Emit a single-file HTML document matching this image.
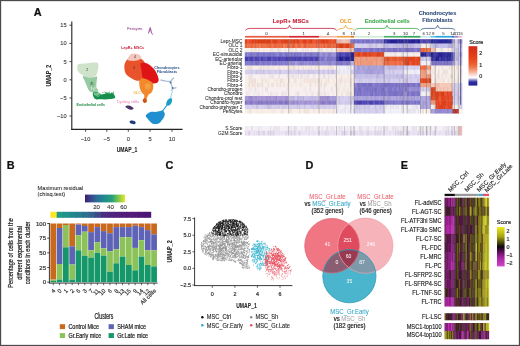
<!DOCTYPE html>
<html><head><meta charset="utf-8"><style>
html,body{margin:0;padding:0;background:#fff;}
body{width:520px;height:346px;overflow:hidden;}
svg{display:block;font-family:"Liberation Sans", sans-serif;will-change:transform;}
</style></head><body>
<svg width="520" height="346" viewBox="0 0 520 346">
<rect x="0" y="0" width="520" height="346" fill="#ffffff"/>
<text x="33.8" y="15.6" font-size="10.9" fill="#111" stroke="#111" stroke-width="0.22" text-anchor="start" font-weight="bold" >A</text>
<text x="6.8" y="168.6" font-size="10.9" fill="#111" stroke="#111" stroke-width="0.22" text-anchor="start" font-weight="bold" >B</text>
<text x="165.6" y="168.6" font-size="10.9" fill="#111" stroke="#111" stroke-width="0.22" text-anchor="start" font-weight="bold" >C</text>
<text x="305.6" y="168.6" font-size="10.9" fill="#111" stroke="#111" stroke-width="0.22" text-anchor="start" font-weight="bold" >D</text>
<text x="400.8" y="168.6" font-size="10.9" fill="#111" stroke="#111" stroke-width="0.22" text-anchor="start" font-weight="bold" >E</text>
<line x1="71.8" y1="21.5" x2="71.8" y2="129.9" stroke="#222" stroke-width="1.1"/>
<line x1="71.3" y1="129.4" x2="182.6" y2="129.4" stroke="#222" stroke-width="1.1"/>
<line x1="69.39999999999999" y1="25.2" x2="71.8" y2="25.2" stroke="#222" stroke-width="0.8"/>
<text x="66.6" y="27.2" font-size="5.7" fill="#3a3a3a" stroke="#3a3a3a" stroke-width="0.1" text-anchor="end" >15</text>
<line x1="69.39999999999999" y1="43.4" x2="71.8" y2="43.4" stroke="#222" stroke-width="0.8"/>
<text x="66.6" y="45.4" font-size="5.7" fill="#3a3a3a" stroke="#3a3a3a" stroke-width="0.1" text-anchor="end" >10</text>
<line x1="69.39999999999999" y1="61.6" x2="71.8" y2="61.6" stroke="#222" stroke-width="0.8"/>
<text x="66.6" y="63.6" font-size="5.7" fill="#3a3a3a" stroke="#3a3a3a" stroke-width="0.1" text-anchor="end" >5</text>
<line x1="69.39999999999999" y1="79.8" x2="71.8" y2="79.8" stroke="#222" stroke-width="0.8"/>
<text x="66.6" y="81.8" font-size="5.7" fill="#3a3a3a" stroke="#3a3a3a" stroke-width="0.1" text-anchor="end" >0</text>
<line x1="69.39999999999999" y1="98.0" x2="71.8" y2="98.0" stroke="#222" stroke-width="0.8"/>
<text x="66.6" y="100.0" font-size="5.7" fill="#3a3a3a" stroke="#3a3a3a" stroke-width="0.1" text-anchor="end" >−5</text>
<line x1="69.39999999999999" y1="116.0" x2="71.8" y2="116.0" stroke="#222" stroke-width="0.8"/>
<text x="66.6" y="118.0" font-size="5.7" fill="#3a3a3a" stroke="#3a3a3a" stroke-width="0.1" text-anchor="end" >−10</text>
<line x1="85.6" y1="129.4" x2="85.6" y2="131.8" stroke="#222" stroke-width="0.8"/>
<text x="85.6" y="141.0" font-size="5.7" fill="#3a3a3a" stroke="#3a3a3a" stroke-width="0.1" text-anchor="middle" >−10</text>
<line x1="106.8" y1="129.4" x2="106.8" y2="131.8" stroke="#222" stroke-width="0.8"/>
<text x="106.8" y="141.0" font-size="5.7" fill="#3a3a3a" stroke="#3a3a3a" stroke-width="0.1" text-anchor="middle" >−5</text>
<line x1="128.3" y1="129.4" x2="128.3" y2="131.8" stroke="#222" stroke-width="0.8"/>
<text x="128.3" y="141.0" font-size="5.7" fill="#3a3a3a" stroke="#3a3a3a" stroke-width="0.1" text-anchor="middle" >0</text>
<line x1="150.0" y1="129.4" x2="150.0" y2="131.8" stroke="#222" stroke-width="0.8"/>
<text x="150.0" y="141.0" font-size="5.7" fill="#3a3a3a" stroke="#3a3a3a" stroke-width="0.1" text-anchor="middle" >5</text>
<line x1="172.0" y1="129.4" x2="172.0" y2="131.8" stroke="#222" stroke-width="0.8"/>
<text x="172.0" y="141.0" font-size="5.7" fill="#3a3a3a" stroke="#3a3a3a" stroke-width="0.1" text-anchor="middle" >10</text>
<text x="0" y="0" font-size="7.5" fill="#2a2a2a" stroke="#2a2a2a" stroke-width="0.12" text-anchor="middle" font-weight="bold" transform="translate(127.00,151.80) scale(0.68,1)">UMAP_1</text>
<text x="0" y="0" font-size="7.3" fill="#2a2a2a" stroke="#2a2a2a" stroke-width="0.12" text-anchor="middle" font-weight="bold" transform="translate(50.90,75.60) rotate(-90) scale(0.74,1)">UMAP_2</text>
<path d="M77.30,66.00 C77.52,64.78 77.63,64.47 79.30,64.00 C80.97,63.53 84.85,63.43 87.30,63.20 C89.75,62.97 92.22,62.58 94.00,62.60 C95.78,62.62 97.30,62.30 98.00,63.30 C98.70,64.30 98.40,66.82 98.20,68.60 C98.00,70.38 97.50,72.60 96.80,74.00 C96.10,75.40 95.47,76.42 94.00,77.00 C92.53,77.58 89.92,77.83 88.00,77.50 C86.08,77.17 84.17,76.03 82.50,75.00 C80.83,73.97 78.87,72.80 78.00,71.30 C77.13,69.80 77.08,67.22 77.30,66.00Z" fill="#cfe3cb" />
<path d="M82.80,76.20 C83.42,75.77 86.13,77.23 88.00,77.40 C89.87,77.57 92.50,77.35 94.00,77.20 C95.50,77.05 96.57,75.70 97.00,76.50 C97.43,77.30 96.72,80.20 96.60,82.00 C96.48,83.80 96.00,85.80 96.30,87.30 C96.60,88.80 98.62,90.12 98.40,91.00 C98.18,91.88 96.15,92.43 95.00,92.60 C93.85,92.77 92.53,92.40 91.50,92.00 C90.47,91.60 89.65,91.37 88.80,90.20 C87.95,89.03 87.15,86.70 86.40,85.00 C85.65,83.30 84.90,81.47 84.30,80.00 C83.70,78.53 82.18,76.63 82.80,76.20Z" fill="#98caa2" />
<path d="M90.20,82.50 C90.70,81.75 92.28,81.08 93.00,81.50 C93.72,81.92 94.58,84.00 94.50,85.00 C94.42,86.00 93.25,87.33 92.50,87.50 C91.75,87.67 90.38,86.83 90.00,86.00 C89.62,85.17 89.70,83.25 90.20,82.50Z" fill="#7fbf8e" />
<path d="M92.80,93.60 C92.97,92.60 94.05,91.97 95.00,91.80 C95.95,91.63 97.50,92.17 98.50,92.60 C99.50,93.03 100.08,94.17 101.00,94.40 C101.92,94.63 103.00,94.23 104.00,94.00 C105.00,93.77 106.00,93.07 107.00,93.00 C108.00,92.93 109.17,93.67 110.00,93.60 C110.83,93.53 111.18,92.20 112.00,92.60 C112.82,93.00 114.47,95.05 114.90,96.00 C115.33,96.95 115.42,97.78 114.60,98.30 C113.78,98.82 111.60,98.92 110.00,99.10 C108.40,99.28 106.67,99.37 105.00,99.40 C103.33,99.43 101.42,99.30 100.00,99.30 C98.58,99.30 97.50,99.65 96.50,99.40 C95.50,99.15 94.62,98.77 94.00,97.80 C93.38,96.83 92.63,94.60 92.80,93.60Z" fill="#14904c" />
<path d="M95.50,92.80 C96.00,92.50 97.58,92.67 98.20,93.00 C98.82,93.33 99.40,94.37 99.20,94.80 C99.00,95.23 97.67,95.60 97.00,95.60 C96.33,95.60 95.45,95.27 95.20,94.80 C94.95,94.33 95.00,93.10 95.50,92.80Z" fill="#5bb47a" />
<path d="M96.3 93.1h.01M98.6 92.8h.01M97.8 94.0h.01M94.4 94.5h.01M94.3 94.2h.01M94.5 92.9h.01M97.0 95.8h.01M94.9 93.4h.01M98.4 96.3h.01M98.0 94.1h.01M100.8 92.7h.01M100.0 93.7h.01M95.0 93.0h.01M96.2 95.8h.01M95.3 94.8h.01M98.5 94.0h.01M97.8 92.8h.01M94.4 93.3h.01M98.8 94.2h.01M96.2 94.8h.01M97.2 93.7h.01M99.6 95.3h.01M95.7 94.8h.01M97.7 96.0h.01M99.1 93.7h.01" stroke="#9ad4a8" stroke-width="0.80" stroke-linecap="round" fill="none"/>
<path d="M96.9 84.8h.01M93.5 89.3h.01M91.9 87.4h.01M91.2 88.7h.01M95.6 88.0h.01M96.3 86.2h.01M95.2 88.2h.01M94.5 87.2h.01M96.0 90.6h.01M93.8 88.6h.01M91.4 88.9h.01M94.9 91.0h.01M95.9 86.0h.01M93.3 88.7h.01M91.1 87.2h.01M92.0 84.8h.01M91.4 89.4h.01M91.8 85.7h.01M93.3 90.1h.01M91.5 87.1h.01" stroke="#d6ecd8" stroke-width="0.80" stroke-linecap="round" fill="none"/>
<path d="M109.0 93.4h.01M112.0 93.4h.01M106.1 92.5h.01M106.9 93.4h.01M113.5 92.1h.01M104.9 92.2h.01M105.6 92.7h.01M109.5 92.3h.01M103.0 92.6h.01M107.1 92.8h.01M113.5 93.0h.01M108.7 92.9h.01" stroke="#1a9a50" stroke-width="0.90" stroke-linecap="round" fill="none"/>
<path d="M125.00,63.00 C125.68,61.33 126.87,59.47 128.50,58.50 C130.13,57.53 132.72,57.15 134.80,57.20 C136.88,57.25 139.30,57.83 141.00,58.80 C142.70,59.77 144.17,61.13 145.00,63.00 C145.83,64.87 146.08,67.83 146.00,70.00 C145.92,72.17 145.25,74.30 144.50,76.00 C143.75,77.70 142.92,79.45 141.50,80.20 C140.08,80.95 137.75,80.87 136.00,80.50 C134.25,80.13 132.67,79.08 131.00,78.00 C129.33,76.92 127.10,75.58 126.00,74.00 C124.90,72.42 124.57,70.33 124.40,68.50 C124.23,66.67 124.32,64.67 125.00,63.00Z" fill="#e9532c" />
<path d="M127.60,59.50 C127.43,58.53 128.85,55.98 130.00,55.00 C131.15,54.02 132.92,53.60 134.50,53.60 C136.08,53.60 138.37,54.23 139.50,55.00 C140.63,55.77 141.80,57.28 141.30,58.20 C140.80,59.12 138.22,60.07 136.50,60.50 C134.78,60.93 132.48,60.97 131.00,60.80 C129.52,60.63 127.77,60.47 127.60,59.50Z" fill="#f5c6bc" />
<path d="M140.50,63.20 C140.98,61.83 143.18,62.63 144.50,62.80 C145.82,62.97 146.92,63.30 148.40,64.20 C149.88,65.10 152.05,66.73 153.40,68.20 C154.75,69.67 155.63,71.20 156.50,73.00 C157.37,74.80 158.43,77.42 158.60,79.00 C158.77,80.58 158.43,81.73 157.50,82.50 C156.57,83.27 154.42,83.58 153.00,83.60 C151.58,83.62 150.33,83.12 149.00,82.60 C147.67,82.08 146.08,81.43 145.00,80.50 C143.92,79.57 143.07,78.58 142.50,77.00 C141.93,75.42 141.93,73.30 141.60,71.00 C141.27,68.70 140.02,64.57 140.50,63.20Z" fill="#de1416" />
<path d="M139.60,80.20 C140.33,78.80 142.43,78.53 144.00,78.60 C145.57,78.67 147.53,79.83 149.00,80.60 C150.47,81.37 152.10,81.97 152.80,83.20 C153.50,84.43 153.42,86.45 153.20,88.00 C152.98,89.55 152.27,91.40 151.50,92.50 C150.73,93.60 149.32,93.77 148.60,94.60 C147.88,95.43 147.60,96.68 147.20,97.50 C146.80,98.32 146.73,99.22 146.20,99.50 C145.67,99.78 144.33,99.92 144.00,99.20 C143.67,98.48 144.60,96.37 144.20,95.20 C143.80,94.03 142.37,93.57 141.60,92.20 C140.83,90.83 139.93,89.00 139.60,87.00 C139.27,85.00 138.87,81.60 139.60,80.20Z" fill="#f2892c" />
<path d="M145.50,84.00 C146.08,83.17 148.17,83.00 149.00,83.50 C149.83,84.00 150.67,86.00 150.50,87.00 C150.33,88.00 148.83,89.25 148.00,89.50 C147.17,89.75 145.92,89.42 145.50,88.50 C145.08,87.58 144.92,84.83 145.50,84.00Z" fill="#f4a040" />
<path d="M143.20,99.00 C143.65,98.57 144.88,98.20 145.50,98.40 C146.12,98.60 146.78,99.50 146.90,100.20 C147.02,100.90 146.68,102.17 146.20,102.60 C145.72,103.03 144.57,103.07 144.00,102.80 C143.43,102.53 142.93,101.63 142.80,101.00 C142.67,100.37 142.75,99.43 143.20,99.00Z" fill="#cf5515" />
<path d="M147.9,33.2 L149.8,27.0 L150.8,27.6 L152.3,33.4 L151.4,33.9 L150.3,30.6 L148.9,33.6 Z" fill="#9a4c9c" fill-opacity="0.85"/>
<circle cx="152.6" cy="34.0" r="0.6" fill="#9a4c9c"/>
<path d="M125.40,106.40 C125.48,105.87 127.48,105.57 128.50,105.60 C129.52,105.63 130.65,106.10 131.50,106.60 C132.35,107.10 133.60,108.07 133.60,108.60 C133.60,109.13 132.43,109.77 131.50,109.80 C130.57,109.83 129.02,109.37 128.00,108.80 C126.98,108.23 125.32,106.93 125.40,106.40Z" fill="#4a3466" />
<path d="M129.60,121.40 C129.83,120.90 131.40,120.47 132.40,120.60 C133.40,120.73 135.27,121.60 135.60,122.20 C135.93,122.80 135.17,123.97 134.40,124.20 C133.63,124.43 131.80,124.07 131.00,123.60 C130.20,123.13 129.37,121.90 129.60,121.40Z" fill="#1c3b7c" />
<path d="M145.70,115.80 C145.87,114.88 147.57,113.67 148.50,113.00 C149.43,112.33 150.22,111.97 151.30,111.80 C152.38,111.63 153.92,112.03 155.00,112.00 C156.08,111.97 156.88,111.77 157.80,111.60 C158.72,111.43 159.68,111.20 160.50,111.00 C161.32,110.80 162.02,110.07 162.70,110.40 C163.38,110.73 164.33,111.98 164.60,113.00 C164.87,114.02 164.73,115.33 164.30,116.50 C163.87,117.67 162.82,118.92 162.00,120.00 C161.18,121.08 160.40,122.33 159.40,123.00 C158.40,123.67 157.07,123.87 156.00,124.00 C154.93,124.13 154.00,124.22 153.00,123.80 C152.00,123.38 150.92,122.38 150.00,121.50 C149.08,120.62 148.22,119.45 147.50,118.50 C146.78,117.55 145.53,116.72 145.70,115.80Z" fill="#1f8fcf" />
<path d="M162.5,111.2 L167.6,104.4" stroke="#2a9fcc" stroke-width="1.1" fill="none"/>
<path d="M166.30,104.80 C165.97,104.03 166.62,101.90 167.20,100.80 C167.78,99.70 169.00,98.53 169.80,98.20 C170.60,97.87 171.70,98.10 172.00,98.80 C172.30,99.50 172.07,101.30 171.60,102.40 C171.13,103.50 170.08,105.00 169.20,105.40 C168.32,105.80 166.63,105.57 166.30,104.80Z" fill="#1a9ec2" />
<path d="M170.5,98.5 L171.6,93.5 L172.6,91.5" stroke="#8cc8de" stroke-width="0.9" fill="none"/>
<path d="M160.5,80 L166,81.2 L170.5,81.6 L172.5,79 L174,77.8 M170.5,81.6 L171.6,85.6 L172.8,88.4 L176.5,87.6 M172.8,88.4 L171.4,91.2" stroke="#a7bfd6" stroke-width="1.3" fill="none"/>
<circle cx="170.6" cy="82.4" r="1.0" fill="#4d6f96"/>
<circle cx="172.6" cy="88.0" r="1.0" fill="#5a7aa0"/>
<text x="87.3" y="71.0" font-size="3.6" fill="#333" text-anchor="middle" >2</text>
<text x="91.6" y="85.4" font-size="3.6" fill="#333" text-anchor="middle" >3</text>
<text x="135.0" y="58.3" font-size="3.6" fill="#333" text-anchor="middle" >4</text>
<text x="134.2" y="69.0" font-size="3.6" fill="#333" text-anchor="middle" >0</text>
<text x="134.8" y="29.9" font-size="3.75" fill="#9a4c9a" stroke="#9a4c9a" stroke-width="0.05" text-anchor="middle" >Pericytes</text>
<text x="132.7" y="49.2" font-size="3.75" fill="#c8203c" text-anchor="middle" font-weight="bold" >LepR+ MSCs</text>
<text x="166.9" y="68.6" font-size="3.75" fill="#1f4a8a" text-anchor="middle" font-weight="bold" >Chondrocytes</text>
<text x="166.9" y="73.3" font-size="3.75" fill="#1f4a8a" text-anchor="middle" font-weight="bold" >Fibroblasts</text>
<text x="137.0" y="93.7" font-size="3.6" fill="#f2b650" text-anchor="middle" font-weight="bold" >OLC</text>
<text x="127.8" y="103.0" font-size="4.0" fill="#f08cb8" stroke="#f08cb8" stroke-width="0.05" text-anchor="middle" >Cycling cells</text>
<text x="90.8" y="106.4" font-size="3.6" fill="#1a8a44" text-anchor="middle" font-weight="bold" >Endothelial cells</text>
<rect x="245.00" y="35.90" width="43.60" height="1.70" fill="#ea5a3f" />
<rect x="288.60" y="35.90" width="30.40" height="1.70" fill="#d6262e" />
<rect x="319.00" y="35.90" width="17.50" height="1.70" fill="#f6b7a4" />
<rect x="336.50" y="35.90" width="14.30" height="1.70" fill="#f0a24c" />
<rect x="350.80" y="35.90" width="3.40" height="1.70" fill="#d8761e" />
<rect x="354.20" y="35.90" width="29.80" height="1.70" fill="#d2ecd4" />
<rect x="384.00" y="35.90" width="19.30" height="1.70" fill="#4db26a" />
<rect x="403.30" y="35.90" width="3.90" height="1.70" fill="#2a9a52" />
<rect x="407.20" y="35.90" width="13.40" height="1.70" fill="#34a35c" />
<rect x="420.60" y="35.90" width="5.90" height="1.70" fill="#bfe6ee" />
<rect x="426.50" y="35.90" width="3.90" height="1.70" fill="#cfeadf" />
<rect x="430.40" y="35.90" width="4.80" height="1.70" fill="#6cc3e3" />
<rect x="435.20" y="35.90" width="16.80" height="1.70" fill="#2fa6dc" />
<rect x="452.00" y="35.90" width="2.40" height="1.70" fill="#4a68b4" />
<rect x="454.40" y="35.90" width="3.90" height="1.70" fill="#8c8cc8" />
<rect x="458.30" y="35.90" width="3.50" height="1.70" fill="#f0a8d8" />
<path d="M245.6 39.2v4.87M256.4 39.2v4.87M272.0 39.2v4.87M302.0 39.2v4.87M328.4 39.2v4.87" stroke="#e84820" stroke-width="1.60" fill="none"/>
<path d="M246.8 39.2v4.87M255.2 39.2v4.87M257.6 39.2v4.87M258.8 39.2v4.87M260.0 39.2v4.87M261.2 39.2v4.87M263.6 39.2v4.87M266.0 39.2v4.87M267.2 39.2v4.87M273.2 39.2v4.87M278.0 39.2v4.87M284.0 39.2v4.87M285.2 39.2v4.87M290.0 39.2v4.87M294.8 39.2v4.87M305.6 39.2v4.87M311.6 39.2v4.87M320.0 39.2v4.87M323.6 39.2v4.87M324.8 39.2v4.87" stroke="#d84018" stroke-width="1.60" fill="none"/>
<path d="M248.0 39.2v4.87M250.4 39.2v4.87M270.8 39.2v4.87M279.2 39.2v4.87M288.8 39.2v4.87M300.8 39.2v4.87M312.8 39.2v4.87M315.2 39.2v4.87M316.4 39.2v4.87M317.6 39.2v4.87" stroke="#e85028" stroke-width="1.60" fill="none"/>
<path d="M249.2 39.2v4.87M251.6 39.2v4.87M306.8 39.2v4.87M309.2 39.2v4.87M318.8 39.2v4.87" stroke="#e84828" stroke-width="1.60" fill="none"/>
<path d="M252.8 39.2v4.87M254.0 39.2v4.87M281.6 39.2v4.87M282.8 39.2v4.87M293.6 39.2v4.87M296.0 39.2v4.87M298.4 39.2v4.87M308.0 39.2v4.87M321.2 39.2v4.87M330.8 39.2v4.87" stroke="#e04020" stroke-width="1.60" fill="none"/>
<path d="M262.4 39.2v4.87M268.4 39.2v4.87M274.4 39.2v4.87M275.6 39.2v4.87M276.8 39.2v4.87M286.4 39.2v4.87M287.6 39.2v4.87M303.2 39.2v4.87M304.4 39.2v4.87M310.4 39.2v4.87M322.4 39.2v4.87M326.0 39.2v4.87M327.2 39.2v4.87M335.6 39.2v4.87" stroke="#e04018" stroke-width="1.60" fill="none"/>
<path d="M264.8 39.2v4.87M269.6 39.2v4.87M291.2 39.2v4.87M297.2 39.2v4.87" stroke="#d04018" stroke-width="1.60" fill="none"/>
<path d="M280.4 39.2v4.87M292.4 39.2v4.87M299.6 39.2v4.87M314.0 39.2v4.87M329.6 39.2v4.87M332.0 39.2v4.87M333.2 39.2v4.87M334.4 39.2v4.87" stroke="#e85030" stroke-width="1.60" fill="none"/>
<path d="M336.8 39.2v4.87M338.0 39.2v4.87M339.2 39.2v4.87M340.4 39.2v4.87" stroke="#e8b0a8" stroke-width="1.60" fill="none"/>
<path d="M341.6 39.2v4.87M345.2 39.2v4.87M346.4 39.2v4.87M350.0 39.2v4.87" stroke="#f0b8b0" stroke-width="1.60" fill="none"/>
<path d="M342.8 39.2v4.87M344.0 39.2v4.87" stroke="#f0c0b8" stroke-width="1.60" fill="none"/>
<path d="M347.6 39.2v4.87" stroke="#f0c0b0" stroke-width="1.60" fill="none"/>
<path d="M348.8 39.2v4.87" stroke="#e0b0a8" stroke-width="1.60" fill="none"/>
<path d="M351.2 39.2v4.87M360.8 39.2v4.87M364.4 39.2v4.87M370.4 39.2v4.87M375.2 39.2v4.87M382.4 39.2v4.87" stroke="#8880d0" stroke-width="1.60" fill="none"/>
<path d="M352.4 39.2v4.87M357.2 39.2v4.87M359.6 39.2v4.87M371.6 39.2v4.87M374.0 39.2v4.87" stroke="#8078d0" stroke-width="1.60" fill="none"/>
<path d="M353.6 39.2v4.87M365.6 39.2v4.87M376.4 39.2v4.87M383.6 39.2v4.87" stroke="#8078c8" stroke-width="1.60" fill="none"/>
<path d="M354.8 39.2v4.87M378.8 39.2v4.87" stroke="#8070c8" stroke-width="1.60" fill="none"/>
<path d="M356.0 39.2v4.87M358.4 39.2v4.87M366.8 39.2v4.87M368.0 39.2v4.87M369.2 39.2v4.87M372.8 39.2v4.87M380.0 39.2v4.87" stroke="#7870c0" stroke-width="1.60" fill="none"/>
<path d="M362.0 39.2v4.87M363.2 39.2v4.87M377.6 39.2v4.87" stroke="#7870c8" stroke-width="1.60" fill="none"/>
<path d="M381.2 39.2v4.87" stroke="#7068b8" stroke-width="1.60" fill="none"/>
<path d="M384.8 39.2v4.87M387.2 39.2v4.87M395.6 39.2v4.87M398.0 39.2v4.87M402.8 39.2v4.87M404.0 39.2v4.87M406.4 39.2v4.87M408.8 39.2v4.87M410.0 39.2v4.87M411.2 39.2v4.87M413.6 39.2v4.87M419.6 39.2v4.87M434.0 39.2v4.87M435.2 39.2v4.87M438.8 39.2v4.87M440.0 39.2v4.87M441.2 39.2v4.87M442.4 39.2v4.87M444.8 39.2v4.87M446.0 39.2v4.87M447.2 39.2v4.87" stroke="#282898" stroke-width="1.60" fill="none"/>
<path d="M386.0 39.2v4.87M448.4 39.2v4.87M452.0 39.2v4.87" stroke="#3838a0" stroke-width="1.60" fill="none"/>
<path d="M388.4 39.2v4.87M389.6 39.2v4.87M417.2 39.2v4.87M432.8 39.2v4.87M436.4 39.2v4.87" stroke="#3030a0" stroke-width="1.60" fill="none"/>
<path d="M390.8 39.2v4.87M392.0 39.2v4.87M393.2 39.2v4.87M394.4 39.2v4.87M396.8 39.2v4.87M399.2 39.2v4.87M401.6 39.2v4.87M414.8 39.2v4.87M418.4 39.2v4.87M431.6 39.2v4.87" stroke="#282090" stroke-width="1.60" fill="none"/>
<path d="M400.4 39.2v4.87M405.2 39.2v4.87M407.6 39.2v4.87M437.6 39.2v4.87M450.8 39.2v4.87" stroke="#3830a0" stroke-width="1.60" fill="none"/>
<path d="M412.4 39.2v4.87M416.0 39.2v4.87" stroke="#202090" stroke-width="1.60" fill="none"/>
<path d="M420.8 39.2v4.87M426.8 39.2v4.87" stroke="#5048b8" stroke-width="1.60" fill="none"/>
<path d="M422.0 39.2v4.87M424.4 39.2v4.87M425.6 39.2v4.87M429.2 39.2v4.87" stroke="#5040b0" stroke-width="1.60" fill="none"/>
<path d="M423.2 39.2v4.87M430.4 39.2v4.87" stroke="#4840b0" stroke-width="1.60" fill="none"/>
<path d="M428.0 39.2v4.87" stroke="#4840a8" stroke-width="1.60" fill="none"/>
<path d="M443.6 39.2v4.87M449.6 39.2v4.87" stroke="#303098" stroke-width="1.60" fill="none"/>
<path d="M453.2 39.2v4.87" stroke="#a8a0d8" stroke-width="1.60" fill="none"/>
<path d="M454.4 39.2v4.87" stroke="#b0a0e0" stroke-width="1.60" fill="none"/>
<path d="M455.6 39.2v4.87M456.8 39.2v4.87" stroke="#d8d0f0" stroke-width="1.60" fill="none"/>
<path d="M458.0 39.2v4.87" stroke="#c8c0e0" stroke-width="1.60" fill="none"/>
<path d="M459.2 39.2v4.87M461.6 39.2v4.87" stroke="#a098d0" stroke-width="1.60" fill="none"/>
<path d="M460.4 39.2v4.87" stroke="#a8a0e0" stroke-width="1.60" fill="none"/>
<path d="M245.6 43.6v4.87M261.2 43.6v4.87M269.6 43.6v4.87M272.0 43.6v4.87M279.2 43.6v4.87M288.8 43.6v4.87M292.4 43.6v4.87M294.8 43.6v4.87M298.4 43.6v4.87M308.0 43.6v4.87M320.0 43.6v4.87M323.6 43.6v4.87M327.2 43.6v4.87M333.2 43.6v4.87M334.4 43.6v4.87" stroke="#e86840" stroke-width="1.60" fill="none"/>
<path d="M246.8 43.6v4.87M274.4 43.6v4.87M278.0 43.6v4.87M282.8 43.6v4.87M287.6 43.6v4.87M290.0 43.6v4.87M293.6 43.6v4.87M304.4 43.6v4.87M305.6 43.6v4.87M309.2 43.6v4.87M314.0 43.6v4.87M316.4 43.6v4.87M324.8 43.6v4.87M328.4 43.6v4.87M330.8 43.6v4.87M351.2 43.6v4.87" stroke="#e06040" stroke-width="1.60" fill="none"/>
<path d="M248.0 43.6v4.87M249.2 43.6v4.87M252.8 43.6v4.87M254.0 43.6v4.87M264.8 43.6v4.87M273.2 43.6v4.87M285.2 43.6v4.87M291.2 43.6v4.87M297.2 43.6v4.87M303.2 43.6v4.87M306.8 43.6v4.87M312.8 43.6v4.87M315.2 43.6v4.87M335.6 43.6v4.87M352.4 43.6v4.87" stroke="#f07048" stroke-width="1.60" fill="none"/>
<path d="M250.4 43.6v4.87M256.4 43.6v4.87M296.0 43.6v4.87M300.8 43.6v4.87M317.6 43.6v4.87" stroke="#f07050" stroke-width="1.60" fill="none"/>
<path d="M251.6 43.6v4.87M255.2 43.6v4.87M258.8 43.6v4.87M266.0 43.6v4.87M270.8 43.6v4.87M299.6 43.6v4.87M329.6 43.6v4.87M332.0 43.6v4.87" stroke="#e06840" stroke-width="1.60" fill="none"/>
<path d="M257.6 43.6v4.87M260.0 43.6v4.87M263.6 43.6v4.87M284.0 43.6v4.87M286.4 43.6v4.87M310.4 43.6v4.87M322.4 43.6v4.87" stroke="#f07850" stroke-width="1.60" fill="none"/>
<path d="M262.4 43.6v4.87M267.2 43.6v4.87M268.4 43.6v4.87M275.6 43.6v4.87M276.8 43.6v4.87M281.6 43.6v4.87M318.8 43.6v4.87M321.2 43.6v4.87M326.0 43.6v4.87M353.6 43.6v4.87" stroke="#f06840" stroke-width="1.60" fill="none"/>
<path d="M280.4 43.6v4.87M302.0 43.6v4.87M311.6 43.6v4.87" stroke="#f07040" stroke-width="1.60" fill="none"/>
<path d="M336.8 43.6v4.87M340.4 43.6v4.87M342.8 43.6v4.87" stroke="#e04018" stroke-width="1.60" fill="none"/>
<path d="M338.0 43.6v4.87M346.4 43.6v4.87M348.8 43.6v4.87" stroke="#e04020" stroke-width="1.60" fill="none"/>
<path d="M339.2 43.6v4.87M347.6 43.6v4.87" stroke="#d84018" stroke-width="1.60" fill="none"/>
<path d="M341.6 43.6v4.87M344.0 43.6v4.87" stroke="#d04018" stroke-width="1.60" fill="none"/>
<path d="M345.2 43.6v4.87" stroke="#e84828" stroke-width="1.60" fill="none"/>
<path d="M350.0 43.6v4.87" stroke="#e85030" stroke-width="1.60" fill="none"/>
<path d="M354.8 43.6v4.87M356.0 43.6v4.87M358.4 43.6v4.87M359.6 43.6v4.87M360.8 43.6v4.87M363.2 43.6v4.87M364.4 43.6v4.87M365.6 43.6v4.87M372.8 43.6v4.87M377.6 43.6v4.87M378.8 43.6v4.87M380.0 43.6v4.87M454.4 43.6v4.87M455.6 43.6v4.87M456.8 43.6v4.87M458.0 43.6v4.87M459.2 43.6v4.87M460.4 43.6v4.87" stroke="#d8d0f0" stroke-width="1.60" fill="none"/>
<path d="M357.2 43.6v4.87M366.8 43.6v4.87" stroke="#d0d0e8" stroke-width="1.60" fill="none"/>
<path d="M362.0 43.6v4.87M368.0 43.6v4.87M374.0 43.6v4.87M381.2 43.6v4.87M382.4 43.6v4.87M383.6 43.6v4.87" stroke="#d0c8e8" stroke-width="1.60" fill="none"/>
<path d="M369.2 43.6v4.87M370.4 43.6v4.87M371.6 43.6v4.87M376.4 43.6v4.87M453.2 43.6v4.87M461.6 43.6v4.87" stroke="#c8c0e0" stroke-width="1.60" fill="none"/>
<path d="M375.2 43.6v4.87" stroke="#d0c8e0" stroke-width="1.60" fill="none"/>
<path d="M384.8 43.6v4.87M387.2 43.6v4.87M400.4 43.6v4.87M401.6 43.6v4.87M404.0 43.6v4.87M416.0 43.6v4.87M437.6 43.6v4.87M438.8 43.6v4.87" stroke="#c0b8e8" stroke-width="1.60" fill="none"/>
<path d="M386.0 43.6v4.87M393.2 43.6v4.87M402.8 43.6v4.87M413.6 43.6v4.87M448.4 43.6v4.87" stroke="#b8b0e0" stroke-width="1.60" fill="none"/>
<path d="M388.4 43.6v4.87M406.4 43.6v4.87" stroke="#b8b8e0" stroke-width="1.60" fill="none"/>
<path d="M389.6 43.6v4.87M390.8 43.6v4.87M394.4 43.6v4.87M417.2 43.6v4.87M431.6 43.6v4.87M435.2 43.6v4.87M440.0 43.6v4.87M441.2 43.6v4.87M442.4 43.6v4.87M444.8 43.6v4.87" stroke="#c8c0e8" stroke-width="1.60" fill="none"/>
<path d="M392.0 43.6v4.87M414.8 43.6v4.87M418.4 43.6v4.87M419.6 43.6v4.87M432.8 43.6v4.87M434.0 43.6v4.87M443.6 43.6v4.87M446.0 43.6v4.87M447.2 43.6v4.87" stroke="#c0c0e8" stroke-width="1.60" fill="none"/>
<path d="M395.6 43.6v4.87M396.8 43.6v4.87M399.2 43.6v4.87M408.8 43.6v4.87M412.4 43.6v4.87M452.0 43.6v4.87" stroke="#c0b8e0" stroke-width="1.60" fill="none"/>
<path d="M398.0 43.6v4.87M405.2 43.6v4.87" stroke="#b0b0d8" stroke-width="1.60" fill="none"/>
<path d="M407.6 43.6v4.87M410.0 43.6v4.87M411.2 43.6v4.87M436.4 43.6v4.87M449.6 43.6v4.87M450.8 43.6v4.87" stroke="#b8b0d8" stroke-width="1.60" fill="none"/>
<path d="M420.8 43.6v4.87M424.4 43.6v4.87M426.8 43.6v4.87M428.0 43.6v4.87M430.4 43.6v4.87" stroke="#f8f0e8" stroke-width="1.60" fill="none"/>
<path d="M422.0 43.6v4.87M423.2 43.6v4.87" stroke="#f8e8e0" stroke-width="1.60" fill="none"/>
<path d="M425.6 43.6v4.87" stroke="#f0e0e0" stroke-width="1.60" fill="none"/>
<path d="M429.2 43.6v4.87" stroke="#e8e0d8" stroke-width="1.60" fill="none"/>
<path d="M245.6 47.9v4.87M246.8 47.9v4.87M248.0 47.9v4.87M249.2 47.9v4.87M250.4 47.9v4.87M252.8 47.9v4.87M257.6 47.9v4.87M260.0 47.9v4.87M261.2 47.9v4.87M262.4 47.9v4.87M264.8 47.9v4.87M266.0 47.9v4.87M267.2 47.9v4.87M268.4 47.9v4.87M269.6 47.9v4.87M274.4 47.9v4.87M276.8 47.9v4.87M281.6 47.9v4.87M282.8 47.9v4.87M284.0 47.9v4.87M286.4 47.9v4.87M287.6 47.9v4.87M288.8 47.9v4.87M291.2 47.9v4.87M293.6 47.9v4.87M294.8 47.9v4.87M297.2 47.9v4.87M298.4 47.9v4.87M299.6 47.9v4.87M300.8 47.9v4.87M304.4 47.9v4.87M306.8 47.9v4.87M309.2 47.9v4.87M310.4 47.9v4.87M312.8 47.9v4.87M314.0 47.9v4.87M315.2 47.9v4.87M316.4 47.9v4.87M318.8 47.9v4.87M320.0 47.9v4.87M323.6 47.9v4.87M324.8 47.9v4.87M330.8 47.9v4.87M333.2 47.9v4.87M334.4 47.9v4.87M436.4 47.9v4.87M437.6 47.9v4.87M438.8 47.9v4.87M440.0 47.9v4.87M443.6 47.9v4.87M444.8 47.9v4.87M446.0 47.9v4.87M447.2 47.9v4.87M450.8 47.9v4.87M452.0 47.9v4.87" stroke="#f8f0e8" stroke-width="1.60" fill="none"/>
<path d="M251.6 47.9v4.87M278.0 47.9v4.87M279.2 47.9v4.87M296.0 47.9v4.87M321.2 47.9v4.87M322.4 47.9v4.87M332.0 47.9v4.87M441.2 47.9v4.87M442.4 47.9v4.87M448.4 47.9v4.87" stroke="#e8e0d8" stroke-width="1.60" fill="none"/>
<path d="M254.0 47.9v4.87M256.4 47.9v4.87M273.2 47.9v4.87M275.6 47.9v4.87M280.4 47.9v4.87M285.2 47.9v4.87M302.0 47.9v4.87M317.6 47.9v4.87M326.0 47.9v4.87M329.6 47.9v4.87" stroke="#f0e8e0" stroke-width="1.60" fill="none"/>
<path d="M255.2 47.9v4.87M270.8 47.9v4.87M290.0 47.9v4.87M335.6 47.9v4.87" stroke="#f0e0d8" stroke-width="1.60" fill="none"/>
<path d="M258.8 47.9v4.87M272.0 47.9v4.87M292.4 47.9v4.87M303.2 47.9v4.87M305.6 47.9v4.87M308.0 47.9v4.87M311.6 47.9v4.87M327.2 47.9v4.87" stroke="#f0e0e0" stroke-width="1.60" fill="none"/>
<path d="M263.6 47.9v4.87M328.4 47.9v4.87M449.6 47.9v4.87" stroke="#f8e8e0" stroke-width="1.60" fill="none"/>
<path d="M336.8 47.9v4.87M338.0 47.9v4.87M339.2 47.9v4.87M344.0 47.9v4.87M352.4 47.9v4.87" stroke="#f8c8b8" stroke-width="1.60" fill="none"/>
<path d="M340.4 47.9v4.87M341.6 47.9v4.87M342.8 47.9v4.87M346.4 47.9v4.87M347.6 47.9v4.87M348.8 47.9v4.87M353.6 47.9v4.87M432.8 47.9v4.87M434.0 47.9v4.87M435.2 47.9v4.87" stroke="#f0c0b0" stroke-width="1.60" fill="none"/>
<path d="M345.2 47.9v4.87" stroke="#f8c8b0" stroke-width="1.60" fill="none"/>
<path d="M350.0 47.9v4.87M351.2 47.9v4.87" stroke="#e8b8a8" stroke-width="1.60" fill="none"/>
<path d="M354.8 47.9v4.87M362.0 47.9v4.87M366.8 47.9v4.87M368.0 47.9v4.87M380.0 47.9v4.87M387.2 47.9v4.87M398.0 47.9v4.87M401.6 47.9v4.87M402.8 47.9v4.87" stroke="#8880d0" stroke-width="1.60" fill="none"/>
<path d="M356.0 47.9v4.87M357.2 47.9v4.87M359.6 47.9v4.87M377.6 47.9v4.87M381.2 47.9v4.87M383.6 47.9v4.87M384.8 47.9v4.87M388.4 47.9v4.87M390.8 47.9v4.87M394.4 47.9v4.87M395.6 47.9v4.87M396.8 47.9v4.87M400.4 47.9v4.87M405.2 47.9v4.87M406.4 47.9v4.87M408.8 47.9v4.87M411.2 47.9v4.87M412.4 47.9v4.87" stroke="#7870c0" stroke-width="1.60" fill="none"/>
<path d="M358.4 47.9v4.87M369.2 47.9v4.87M374.0 47.9v4.87M382.4 47.9v4.87M392.0 47.9v4.87M399.2 47.9v4.87M404.0 47.9v4.87M413.6 47.9v4.87M419.6 47.9v4.87" stroke="#8070c8" stroke-width="1.60" fill="none"/>
<path d="M360.8 47.9v4.87M393.2 47.9v4.87M417.2 47.9v4.87M418.4 47.9v4.87" stroke="#7870c8" stroke-width="1.60" fill="none"/>
<path d="M363.2 47.9v4.87M414.8 47.9v4.87" stroke="#8878d0" stroke-width="1.60" fill="none"/>
<path d="M364.4 47.9v4.87" stroke="#8078d0" stroke-width="1.60" fill="none"/>
<path d="M365.6 47.9v4.87M370.4 47.9v4.87M372.8 47.9v4.87M375.2 47.9v4.87M376.4 47.9v4.87M386.0 47.9v4.87M389.6 47.9v4.87M416.0 47.9v4.87" stroke="#8078c8" stroke-width="1.60" fill="none"/>
<path d="M371.6 47.9v4.87M378.8 47.9v4.87M407.6 47.9v4.87M410.0 47.9v4.87" stroke="#7868c0" stroke-width="1.60" fill="none"/>
<path d="M420.8 47.9v4.87M422.0 47.9v4.87M424.4 47.9v4.87" stroke="#e86840" stroke-width="1.60" fill="none"/>
<path d="M423.2 47.9v4.87M426.8 47.9v4.87" stroke="#e06040" stroke-width="1.60" fill="none"/>
<path d="M425.6 47.9v4.87" stroke="#f07850" stroke-width="1.60" fill="none"/>
<path d="M428.0 47.9v4.87" stroke="#f06840" stroke-width="1.60" fill="none"/>
<path d="M429.2 47.9v4.87" stroke="#f07040" stroke-width="1.60" fill="none"/>
<path d="M430.4 47.9v4.87" stroke="#f07050" stroke-width="1.60" fill="none"/>
<path d="M431.6 47.9v4.87" stroke="#f0c0a8" stroke-width="1.60" fill="none"/>
<path d="M453.2 47.9v4.87M454.4 47.9v4.87M459.2 47.9v4.87M460.4 47.9v4.87M461.6 47.9v4.87" stroke="#d8d0f0" stroke-width="1.60" fill="none"/>
<path d="M455.6 47.9v4.87" stroke="#d0c8e8" stroke-width="1.60" fill="none"/>
<path d="M456.8 47.9v4.87" stroke="#c8c0e0" stroke-width="1.60" fill="none"/>
<path d="M458.0 47.9v4.87" stroke="#c8c8e0" stroke-width="1.60" fill="none"/>
<path d="M245.6 52.3v4.87M262.4 52.3v4.87M284.0 52.3v4.87M303.2 52.3v4.87" stroke="#8080d0" stroke-width="1.60" fill="none"/>
<path d="M246.8 52.3v4.87M250.4 52.3v4.87M256.4 52.3v4.87M261.2 52.3v4.87M266.0 52.3v4.87M267.2 52.3v4.87M270.8 52.3v4.87M276.8 52.3v4.87M287.6 52.3v4.87M288.8 52.3v4.87M292.4 52.3v4.87M299.6 52.3v4.87M304.4 52.3v4.87M316.4 52.3v4.87" stroke="#8078d0" stroke-width="1.60" fill="none"/>
<path d="M248.0 52.3v4.87M252.8 52.3v4.87M255.2 52.3v4.87M275.6 52.3v4.87M278.0 52.3v4.87M282.8 52.3v4.87M293.6 52.3v4.87M302.0 52.3v4.87M306.8 52.3v4.87M309.2 52.3v4.87M312.8 52.3v4.87M315.2 52.3v4.87" stroke="#8880d0" stroke-width="1.60" fill="none"/>
<path d="M249.2 52.3v4.87M268.4 52.3v4.87M274.4 52.3v4.87M279.2 52.3v4.87M290.0 52.3v4.87M298.4 52.3v4.87M453.2 52.3v4.87" stroke="#8078c8" stroke-width="1.60" fill="none"/>
<path d="M251.6 52.3v4.87M254.0 52.3v4.87M258.8 52.3v4.87M263.6 52.3v4.87M264.8 52.3v4.87M269.6 52.3v4.87M272.0 52.3v4.87M280.4 52.3v4.87M286.4 52.3v4.87M294.8 52.3v4.87M296.0 52.3v4.87M300.8 52.3v4.87M305.6 52.3v4.87M310.4 52.3v4.87M311.6 52.3v4.87M317.6 52.3v4.87M318.8 52.3v4.87M454.4 52.3v4.87" stroke="#7870c0" stroke-width="1.60" fill="none"/>
<path d="M257.6 52.3v4.87M260.0 52.3v4.87M273.2 52.3v4.87M281.6 52.3v4.87M285.2 52.3v4.87M291.2 52.3v4.87M314.0 52.3v4.87" stroke="#7870c8" stroke-width="1.60" fill="none"/>
<path d="M297.2 52.3v4.87M308.0 52.3v4.87" stroke="#8070c8" stroke-width="1.60" fill="none"/>
<path d="M320.0 52.3v4.87M324.8 52.3v4.87M332.0 52.3v4.87" stroke="#9088d0" stroke-width="1.60" fill="none"/>
<path d="M321.2 52.3v4.87M322.4 52.3v4.87M333.2 52.3v4.87M334.4 52.3v4.87M335.6 52.3v4.87" stroke="#9890d8" stroke-width="1.60" fill="none"/>
<path d="M323.6 52.3v4.87" stroke="#9080c8" stroke-width="1.60" fill="none"/>
<path d="M326.0 52.3v4.87" stroke="#9088c8" stroke-width="1.60" fill="none"/>
<path d="M327.2 52.3v4.87" stroke="#a090d8" stroke-width="1.60" fill="none"/>
<path d="M328.4 52.3v4.87M329.6 52.3v4.87M330.8 52.3v4.87" stroke="#8880c8" stroke-width="1.60" fill="none"/>
<path d="M336.8 52.3v4.87M338.0 52.3v4.87M341.6 52.3v4.87" stroke="#5850b8" stroke-width="1.60" fill="none"/>
<path d="M339.2 52.3v4.87M346.4 52.3v4.87M347.6 52.3v4.87M348.8 52.3v4.87M429.2 52.3v4.87" stroke="#4840b0" stroke-width="1.60" fill="none"/>
<path d="M340.4 52.3v4.87M344.0 52.3v4.87M350.0 52.3v4.87M426.8 52.3v4.87M430.4 52.3v4.87" stroke="#4840a8" stroke-width="1.60" fill="none"/>
<path d="M342.8 52.3v4.87M428.0 52.3v4.87" stroke="#5048b8" stroke-width="1.60" fill="none"/>
<path d="M345.2 52.3v4.87" stroke="#5048b0" stroke-width="1.60" fill="none"/>
<path d="M351.2 52.3v4.87M431.6 52.3v4.87" stroke="#202090" stroke-width="1.60" fill="none"/>
<path d="M352.4 52.3v4.87M353.6 52.3v4.87M420.8 52.3v4.87M422.0 52.3v4.87M423.2 52.3v4.87M425.6 52.3v4.87M434.0 52.3v4.87M438.8 52.3v4.87M440.0 52.3v4.87M441.2 52.3v4.87M446.0 52.3v4.87" stroke="#282090" stroke-width="1.60" fill="none"/>
<path d="M354.8 52.3v4.87M357.2 52.3v4.87M368.0 52.3v4.87M381.2 52.3v4.87" stroke="#e85030" stroke-width="1.60" fill="none"/>
<path d="M356.0 52.3v4.87M358.4 52.3v4.87M364.4 52.3v4.87M369.2 52.3v4.87M372.8 52.3v4.87M377.6 52.3v4.87M378.8 52.3v4.87M380.0 52.3v4.87" stroke="#d84018" stroke-width="1.60" fill="none"/>
<path d="M359.6 52.3v4.87M366.8 52.3v4.87M370.4 52.3v4.87M382.4 52.3v4.87" stroke="#e04018" stroke-width="1.60" fill="none"/>
<path d="M360.8 52.3v4.87M362.0 52.3v4.87M371.6 52.3v4.87M375.2 52.3v4.87" stroke="#e85028" stroke-width="1.60" fill="none"/>
<path d="M363.2 52.3v4.87M365.6 52.3v4.87M374.0 52.3v4.87" stroke="#e04020" stroke-width="1.60" fill="none"/>
<path d="M376.4 52.3v4.87M383.6 52.3v4.87" stroke="#e84828" stroke-width="1.60" fill="none"/>
<path d="M384.8 52.3v4.87M388.4 52.3v4.87M389.6 52.3v4.87M392.0 52.3v4.87M396.8 52.3v4.87M398.0 52.3v4.87M399.2 52.3v4.87M400.4 52.3v4.87M410.0 52.3v4.87M411.2 52.3v4.87M412.4 52.3v4.87M414.8 52.3v4.87M416.0 52.3v4.87M417.2 52.3v4.87M418.4 52.3v4.87M419.6 52.3v4.87" stroke="#f8f0e8" stroke-width="1.60" fill="none"/>
<path d="M386.0 52.3v4.87M407.6 52.3v4.87" stroke="#f8e8e0" stroke-width="1.60" fill="none"/>
<path d="M387.2 52.3v4.87M390.8 52.3v4.87M393.2 52.3v4.87M394.4 52.3v4.87M402.8 52.3v4.87M408.8 52.3v4.87" stroke="#f0e8e0" stroke-width="1.60" fill="none"/>
<path d="M395.6 52.3v4.87M401.6 52.3v4.87" stroke="#e8e0d8" stroke-width="1.60" fill="none"/>
<path d="M404.0 52.3v4.87M405.2 52.3v4.87M406.4 52.3v4.87" stroke="#f0f0f8" stroke-width="1.60" fill="none"/>
<path d="M413.6 52.3v4.87" stroke="#f0e0e0" stroke-width="1.60" fill="none"/>
<path d="M424.4 52.3v4.87M452.0 52.3v4.87" stroke="#3030a0" stroke-width="1.60" fill="none"/>
<path d="M432.8 52.3v4.87M442.4 52.3v4.87M444.8 52.3v4.87M447.2 52.3v4.87M448.4 52.3v4.87" stroke="#282898" stroke-width="1.60" fill="none"/>
<path d="M435.2 52.3v4.87M437.6 52.3v4.87" stroke="#3838a0" stroke-width="1.60" fill="none"/>
<path d="M436.4 52.3v4.87" stroke="#3830a0" stroke-width="1.60" fill="none"/>
<path d="M443.6 52.3v4.87M450.8 52.3v4.87" stroke="#303098" stroke-width="1.60" fill="none"/>
<path d="M449.6 52.3v4.87" stroke="#302898" stroke-width="1.60" fill="none"/>
<path d="M455.6 52.3v4.87" stroke="#c8c0e8" stroke-width="1.60" fill="none"/>
<path d="M456.8 52.3v4.87M459.2 52.3v4.87" stroke="#c0b8e0" stroke-width="1.60" fill="none"/>
<path d="M458.0 52.3v4.87M460.4 52.3v4.87" stroke="#c0c0e8" stroke-width="1.60" fill="none"/>
<path d="M461.6 52.3v4.87" stroke="#b8b0e0" stroke-width="1.60" fill="none"/>
<path d="M245.6 56.7v4.87M251.6 56.7v4.87M252.8 56.7v4.87M255.2 56.7v4.87M262.4 56.7v4.87M268.4 56.7v4.87M275.6 56.7v4.87M278.0 56.7v4.87M279.2 56.7v4.87M287.6 56.7v4.87M291.2 56.7v4.87M297.2 56.7v4.87M300.8 56.7v4.87M308.0 56.7v4.87M315.2 56.7v4.87M316.4 56.7v4.87M317.6 56.7v4.87" stroke="#4840b0" stroke-width="1.60" fill="none"/>
<path d="M246.8 56.7v4.87M248.0 56.7v4.87M256.4 56.7v4.87M261.2 56.7v4.87M267.2 56.7v4.87M269.6 56.7v4.87M270.8 56.7v4.87M282.8 56.7v4.87M286.4 56.7v4.87M288.8 56.7v4.87M290.0 56.7v4.87M294.8 56.7v4.87M296.0 56.7v4.87M299.6 56.7v4.87M302.0 56.7v4.87M305.6 56.7v4.87M306.8 56.7v4.87M311.6 56.7v4.87M312.8 56.7v4.87" stroke="#4840a8" stroke-width="1.60" fill="none"/>
<path d="M249.2 56.7v4.87M254.0 56.7v4.87M260.0 56.7v4.87M263.6 56.7v4.87M264.8 56.7v4.87M266.0 56.7v4.87M272.0 56.7v4.87M274.4 56.7v4.87M276.8 56.7v4.87M281.6 56.7v4.87M318.8 56.7v4.87" stroke="#5850b8" stroke-width="1.60" fill="none"/>
<path d="M250.4 56.7v4.87M304.4 56.7v4.87M309.2 56.7v4.87" stroke="#5040b0" stroke-width="1.60" fill="none"/>
<path d="M257.6 56.7v4.87" stroke="#5050b8" stroke-width="1.60" fill="none"/>
<path d="M258.8 56.7v4.87M273.2 56.7v4.87M284.0 56.7v4.87M285.2 56.7v4.87M292.4 56.7v4.87M293.6 56.7v4.87M298.4 56.7v4.87M310.4 56.7v4.87" stroke="#5048b0" stroke-width="1.60" fill="none"/>
<path d="M280.4 56.7v4.87M303.2 56.7v4.87M314.0 56.7v4.87" stroke="#5048b8" stroke-width="1.60" fill="none"/>
<path d="M320.0 56.7v4.87M328.4 56.7v4.87M330.8 56.7v4.87M453.2 56.7v4.87" stroke="#7870c0" stroke-width="1.60" fill="none"/>
<path d="M321.2 56.7v4.87M334.4 56.7v4.87" stroke="#8070c8" stroke-width="1.60" fill="none"/>
<path d="M322.4 56.7v4.87M323.6 56.7v4.87M327.2 56.7v4.87" stroke="#7870c8" stroke-width="1.60" fill="none"/>
<path d="M324.8 56.7v4.87" stroke="#8878d0" stroke-width="1.60" fill="none"/>
<path d="M326.0 56.7v4.87M333.2 56.7v4.87" stroke="#8880d0" stroke-width="1.60" fill="none"/>
<path d="M329.6 56.7v4.87" stroke="#8078c8" stroke-width="1.60" fill="none"/>
<path d="M332.0 56.7v4.87" stroke="#7068b8" stroke-width="1.60" fill="none"/>
<path d="M335.6 56.7v4.87M454.4 56.7v4.87" stroke="#8078d0" stroke-width="1.60" fill="none"/>
<path d="M336.8 56.7v4.87M339.2 56.7v4.87M342.8 56.7v4.87M347.6 56.7v4.87M350.0 56.7v4.87M353.6 56.7v4.87M435.2 56.7v4.87M437.6 56.7v4.87M449.6 56.7v4.87" stroke="#282898" stroke-width="1.60" fill="none"/>
<path d="M338.0 56.7v4.87M345.2 56.7v4.87M452.0 56.7v4.87" stroke="#3830a0" stroke-width="1.60" fill="none"/>
<path d="M340.4 56.7v4.87M346.4 56.7v4.87M348.8 56.7v4.87M351.2 56.7v4.87M352.4 56.7v4.87M431.6 56.7v4.87M438.8 56.7v4.87M441.2 56.7v4.87M447.2 56.7v4.87" stroke="#282090" stroke-width="1.60" fill="none"/>
<path d="M341.6 56.7v4.87M436.4 56.7v4.87" stroke="#202090" stroke-width="1.60" fill="none"/>
<path d="M344.0 56.7v4.87" stroke="#302898" stroke-width="1.60" fill="none"/>
<path d="M354.8 56.7v4.87M358.4 56.7v4.87M359.6 56.7v4.87M363.2 56.7v4.87M368.0 56.7v4.87M370.4 56.7v4.87M372.8 56.7v4.87M375.2 56.7v4.87M378.8 56.7v4.87M380.0 56.7v4.87" stroke="#f0a080" stroke-width="1.60" fill="none"/>
<path d="M356.0 56.7v4.87M362.0 56.7v4.87M374.0 56.7v4.87M381.2 56.7v4.87" stroke="#e89070" stroke-width="1.60" fill="none"/>
<path d="M357.2 56.7v4.87M365.6 56.7v4.87M369.2 56.7v4.87M377.6 56.7v4.87M383.6 56.7v4.87" stroke="#f09878" stroke-width="1.60" fill="none"/>
<path d="M360.8 56.7v4.87M376.4 56.7v4.87M382.4 56.7v4.87" stroke="#e89078" stroke-width="1.60" fill="none"/>
<path d="M364.4 56.7v4.87" stroke="#f0a088" stroke-width="1.60" fill="none"/>
<path d="M366.8 56.7v4.87" stroke="#e09070" stroke-width="1.60" fill="none"/>
<path d="M371.6 56.7v4.87" stroke="#f09880" stroke-width="1.60" fill="none"/>
<path d="M384.8 56.7v4.87M393.2 56.7v4.87M400.4 56.7v4.87" stroke="#e85828" stroke-width="1.60" fill="none"/>
<path d="M386.0 56.7v4.87M388.4 56.7v4.87M402.8 56.7v4.87" stroke="#e05028" stroke-width="1.60" fill="none"/>
<path d="M387.2 56.7v4.87M392.0 56.7v4.87M395.6 56.7v4.87M398.0 56.7v4.87" stroke="#d85028" stroke-width="1.60" fill="none"/>
<path d="M389.6 56.7v4.87M394.4 56.7v4.87M399.2 56.7v4.87M401.6 56.7v4.87" stroke="#e85830" stroke-width="1.60" fill="none"/>
<path d="M390.8 56.7v4.87" stroke="#e86038" stroke-width="1.60" fill="none"/>
<path d="M396.8 56.7v4.87" stroke="#e86030" stroke-width="1.60" fill="none"/>
<path d="M404.0 56.7v4.87M406.4 56.7v4.87M408.8 56.7v4.87M410.0 56.7v4.87M413.6 56.7v4.87M418.4 56.7v4.87" stroke="#e04020" stroke-width="1.60" fill="none"/>
<path d="M405.2 56.7v4.87" stroke="#e04820" stroke-width="1.60" fill="none"/>
<path d="M407.6 56.7v4.87M412.4 56.7v4.87" stroke="#e84820" stroke-width="1.60" fill="none"/>
<path d="M411.2 56.7v4.87" stroke="#d04018" stroke-width="1.60" fill="none"/>
<path d="M414.8 56.7v4.87M419.6 56.7v4.87" stroke="#d84018" stroke-width="1.60" fill="none"/>
<path d="M416.0 56.7v4.87M417.2 56.7v4.87" stroke="#e84828" stroke-width="1.60" fill="none"/>
<path d="M420.8 56.7v4.87M428.0 56.7v4.87M430.4 56.7v4.87M459.2 56.7v4.87M461.6 56.7v4.87" stroke="#d8d0f0" stroke-width="1.60" fill="none"/>
<path d="M422.0 56.7v4.87M423.2 56.7v4.87M425.6 56.7v4.87M429.2 56.7v4.87" stroke="#c8c0e0" stroke-width="1.60" fill="none"/>
<path d="M424.4 56.7v4.87M426.8 56.7v4.87" stroke="#d0d0f0" stroke-width="1.60" fill="none"/>
<path d="M432.8 56.7v4.87M444.8 56.7v4.87" stroke="#303098" stroke-width="1.60" fill="none"/>
<path d="M434.0 56.7v4.87M442.4 56.7v4.87M446.0 56.7v4.87" stroke="#3030a0" stroke-width="1.60" fill="none"/>
<path d="M440.0 56.7v4.87M443.6 56.7v4.87M448.4 56.7v4.87M450.8 56.7v4.87" stroke="#3838a0" stroke-width="1.60" fill="none"/>
<path d="M455.6 56.7v4.87" stroke="#c8c0e8" stroke-width="1.60" fill="none"/>
<path d="M456.8 56.7v4.87" stroke="#b8b0d8" stroke-width="1.60" fill="none"/>
<path d="M458.0 56.7v4.87" stroke="#c0b8e0" stroke-width="1.60" fill="none"/>
<path d="M460.4 56.7v4.87" stroke="#c8c8e0" stroke-width="1.60" fill="none"/>
<path d="M245.6 61.1v4.87M252.8 61.1v4.87M281.6 61.1v4.87M341.6 61.1v4.87M443.6 61.1v4.87" stroke="#7870c8" stroke-width="1.60" fill="none"/>
<path d="M246.8 61.1v4.87M250.4 61.1v4.87M260.0 61.1v4.87M262.4 61.1v4.87M264.8 61.1v4.87M270.8 61.1v4.87M274.4 61.1v4.87M276.8 61.1v4.87M280.4 61.1v4.87M282.8 61.1v4.87M286.4 61.1v4.87M345.2 61.1v4.87M348.8 61.1v4.87M437.6 61.1v4.87M442.4 61.1v4.87" stroke="#8880d0" stroke-width="1.60" fill="none"/>
<path d="M248.0 61.1v4.87M251.6 61.1v4.87M256.4 61.1v4.87M257.6 61.1v4.87M258.8 61.1v4.87M263.6 61.1v4.87M266.0 61.1v4.87M275.6 61.1v4.87M336.8 61.1v4.87M347.6 61.1v4.87M432.8 61.1v4.87M434.0 61.1v4.87M438.8 61.1v4.87M441.2 61.1v4.87M444.8 61.1v4.87" stroke="#7870c0" stroke-width="1.60" fill="none"/>
<path d="M249.2 61.1v4.87M254.0 61.1v4.87M261.2 61.1v4.87M267.2 61.1v4.87M268.4 61.1v4.87M272.0 61.1v4.87M273.2 61.1v4.87M278.0 61.1v4.87M284.0 61.1v4.87" stroke="#8078d0" stroke-width="1.60" fill="none"/>
<path d="M255.2 61.1v4.87M340.4 61.1v4.87M344.0 61.1v4.87M431.6 61.1v4.87" stroke="#8070c8" stroke-width="1.60" fill="none"/>
<path d="M269.6 61.1v4.87M279.2 61.1v4.87M285.2 61.1v4.87M287.6 61.1v4.87M339.2 61.1v4.87M342.8 61.1v4.87M346.4 61.1v4.87M435.2 61.1v4.87M448.4 61.1v4.87M449.6 61.1v4.87M450.8 61.1v4.87M452.0 61.1v4.87" stroke="#8078c8" stroke-width="1.60" fill="none"/>
<path d="M288.8 61.1v4.87M322.4 61.1v4.87" stroke="#9088c8" stroke-width="1.60" fill="none"/>
<path d="M290.0 61.1v4.87M292.4 61.1v4.87M294.8 61.1v4.87M297.2 61.1v4.87M298.4 61.1v4.87M304.4 61.1v4.87M308.0 61.1v4.87M311.6 61.1v4.87M320.0 61.1v4.87M321.2 61.1v4.87M323.6 61.1v4.87M327.2 61.1v4.87M332.0 61.1v4.87M333.2 61.1v4.87M334.4 61.1v4.87" stroke="#9890d8" stroke-width="1.60" fill="none"/>
<path d="M291.2 61.1v4.87M300.8 61.1v4.87M302.0 61.1v4.87M309.2 61.1v4.87M312.8 61.1v4.87M314.0 61.1v4.87M316.4 61.1v4.87M326.0 61.1v4.87M330.8 61.1v4.87" stroke="#8880c8" stroke-width="1.60" fill="none"/>
<path d="M293.6 61.1v4.87M299.6 61.1v4.87M305.6 61.1v4.87M306.8 61.1v4.87M310.4 61.1v4.87M315.2 61.1v4.87M317.6 61.1v4.87M318.8 61.1v4.87M324.8 61.1v4.87M328.4 61.1v4.87M335.6 61.1v4.87" stroke="#9088d0" stroke-width="1.60" fill="none"/>
<path d="M296.0 61.1v4.87" stroke="#a090d8" stroke-width="1.60" fill="none"/>
<path d="M303.2 61.1v4.87M329.6 61.1v4.87" stroke="#9080c8" stroke-width="1.60" fill="none"/>
<path d="M338.0 61.1v4.87M440.0 61.1v4.87" stroke="#7068b8" stroke-width="1.60" fill="none"/>
<path d="M350.0 61.1v4.87M436.4 61.1v4.87M447.2 61.1v4.87" stroke="#7868c0" stroke-width="1.60" fill="none"/>
<path d="M351.2 61.1v4.87" stroke="#c0b8e8" stroke-width="1.60" fill="none"/>
<path d="M352.4 61.1v4.87" stroke="#c0b8e0" stroke-width="1.60" fill="none"/>
<path d="M353.6 61.1v4.87" stroke="#b8b0e0" stroke-width="1.60" fill="none"/>
<path d="M354.8 61.1v4.87M357.2 61.1v4.87M371.6 61.1v4.87M376.4 61.1v4.87" stroke="#e09070" stroke-width="1.60" fill="none"/>
<path d="M356.0 61.1v4.87M359.6 61.1v4.87M366.8 61.1v4.87M372.8 61.1v4.87M374.0 61.1v4.87M375.2 61.1v4.87M377.6 61.1v4.87M378.8 61.1v4.87M381.2 61.1v4.87" stroke="#f0a080" stroke-width="1.60" fill="none"/>
<path d="M358.4 61.1v4.87M364.4 61.1v4.87M369.2 61.1v4.87M370.4 61.1v4.87M380.0 61.1v4.87M382.4 61.1v4.87" stroke="#f09878" stroke-width="1.60" fill="none"/>
<path d="M360.8 61.1v4.87M368.0 61.1v4.87" stroke="#e89070" stroke-width="1.60" fill="none"/>
<path d="M362.0 61.1v4.87M383.6 61.1v4.87" stroke="#e89078" stroke-width="1.60" fill="none"/>
<path d="M363.2 61.1v4.87M365.6 61.1v4.87" stroke="#f09880" stroke-width="1.60" fill="none"/>
<path d="M384.8 61.1v4.87M387.2 61.1v4.87" stroke="#e06040" stroke-width="1.60" fill="none"/>
<path d="M386.0 61.1v4.87M388.4 61.1v4.87M394.4 61.1v4.87M400.4 61.1v4.87" stroke="#e86840" stroke-width="1.60" fill="none"/>
<path d="M389.6 61.1v4.87M390.8 61.1v4.87M392.0 61.1v4.87M393.2 61.1v4.87M398.0 61.1v4.87M401.6 61.1v4.87" stroke="#f07048" stroke-width="1.60" fill="none"/>
<path d="M395.6 61.1v4.87M396.8 61.1v4.87M399.2 61.1v4.87" stroke="#f06840" stroke-width="1.60" fill="none"/>
<path d="M402.8 61.1v4.87" stroke="#f07850" stroke-width="1.60" fill="none"/>
<path d="M404.0 61.1v4.87M408.8 61.1v4.87M417.2 61.1v4.87" stroke="#d84018" stroke-width="1.60" fill="none"/>
<path d="M405.2 61.1v4.87M414.8 61.1v4.87" stroke="#e85028" stroke-width="1.60" fill="none"/>
<path d="M406.4 61.1v4.87" stroke="#d04018" stroke-width="1.60" fill="none"/>
<path d="M407.6 61.1v4.87M413.6 61.1v4.87M416.0 61.1v4.87" stroke="#e04018" stroke-width="1.60" fill="none"/>
<path d="M410.0 61.1v4.87M412.4 61.1v4.87" stroke="#e84828" stroke-width="1.60" fill="none"/>
<path d="M411.2 61.1v4.87M418.4 61.1v4.87" stroke="#e85030" stroke-width="1.60" fill="none"/>
<path d="M419.6 61.1v4.87" stroke="#e84820" stroke-width="1.60" fill="none"/>
<path d="M420.8 61.1v4.87M422.0 61.1v4.87M423.2 61.1v4.87M424.4 61.1v4.87M425.6 61.1v4.87M426.8 61.1v4.87M428.0 61.1v4.87M429.2 61.1v4.87M430.4 61.1v4.87" stroke="#f0f0f8" stroke-width="1.60" fill="none"/>
<path d="M446.0 61.1v4.87" stroke="#7868b8" stroke-width="1.60" fill="none"/>
<path d="M453.2 61.1v4.87" stroke="#a098d0" stroke-width="1.60" fill="none"/>
<path d="M454.4 61.1v4.87" stroke="#b0a0e0" stroke-width="1.60" fill="none"/>
<path d="M455.6 61.1v4.87" stroke="#d0c8e8" stroke-width="1.60" fill="none"/>
<path d="M456.8 61.1v4.87M458.0 61.1v4.87M459.2 61.1v4.87M461.6 61.1v4.87" stroke="#d8d0f0" stroke-width="1.60" fill="none"/>
<path d="M460.4 61.1v4.87" stroke="#c8c0e0" stroke-width="1.60" fill="none"/>
<path d="M245.6 65.4v4.87M246.8 65.4v4.87M252.8 65.4v4.87M254.0 65.4v4.87M255.2 65.4v4.87M256.4 65.4v4.87M257.6 65.4v4.87M262.4 65.4v4.87M270.8 65.4v4.87M274.4 65.4v4.87M275.6 65.4v4.87M276.8 65.4v4.87M278.0 65.4v4.87M281.6 65.4v4.87M282.8 65.4v4.87M285.2 65.4v4.87M286.4 65.4v4.87M288.8 65.4v4.87M291.2 65.4v4.87M296.0 65.4v4.87M297.2 65.4v4.87M299.6 65.4v4.87M300.8 65.4v4.87M302.0 65.4v4.87M304.4 65.4v4.87M306.8 65.4v4.87M309.2 65.4v4.87M312.8 65.4v4.87M314.0 65.4v4.87M316.4 65.4v4.87M318.8 65.4v4.87M320.0 65.4v4.87M321.2 65.4v4.87M322.4 65.4v4.87M327.2 65.4v4.87M329.6 65.4v4.87M334.4 65.4v4.87M335.6 65.4v4.87M431.6 65.4v4.87M432.8 65.4v4.87M436.4 65.4v4.87M437.6 65.4v4.87M440.0 65.4v4.87M441.2 65.4v4.87M443.6 65.4v4.87M444.8 65.4v4.87M447.2 65.4v4.87M448.4 65.4v4.87M450.8 65.4v4.87M453.2 65.4v4.87M454.4 65.4v4.87M455.6 65.4v4.87M458.0 65.4v4.87M459.2 65.4v4.87M460.4 65.4v4.87M461.6 65.4v4.87" stroke="#f8f0e8" stroke-width="1.60" fill="none"/>
<path d="M248.0 65.4v4.87M250.4 65.4v4.87M260.0 65.4v4.87M261.2 65.4v4.87M290.0 65.4v4.87M315.2 65.4v4.87M317.6 65.4v4.87M328.4 65.4v4.87M456.8 65.4v4.87" stroke="#f0e0d8" stroke-width="1.60" fill="none"/>
<path d="M249.2 65.4v4.87M263.6 65.4v4.87M287.6 65.4v4.87M292.4 65.4v4.87M294.8 65.4v4.87M303.2 65.4v4.87M311.6 65.4v4.87M332.0 65.4v4.87M442.4 65.4v4.87M452.0 65.4v4.87" stroke="#f0e0e0" stroke-width="1.60" fill="none"/>
<path d="M251.6 65.4v4.87M267.2 65.4v4.87M279.2 65.4v4.87M293.6 65.4v4.87M298.4 65.4v4.87M330.8 65.4v4.87M449.6 65.4v4.87" stroke="#e8e0d8" stroke-width="1.60" fill="none"/>
<path d="M258.8 65.4v4.87M264.8 65.4v4.87M268.4 65.4v4.87M269.6 65.4v4.87M308.0 65.4v4.87M310.4 65.4v4.87M333.2 65.4v4.87M434.0 65.4v4.87" stroke="#f0e8e0" stroke-width="1.60" fill="none"/>
<path d="M266.0 65.4v4.87M280.4 65.4v4.87M324.8 65.4v4.87M435.2 65.4v4.87M438.8 65.4v4.87" stroke="#f8e8e8" stroke-width="1.60" fill="none"/>
<path d="M272.0 65.4v4.87M273.2 65.4v4.87M284.0 65.4v4.87M305.6 65.4v4.87M323.6 65.4v4.87M326.0 65.4v4.87M446.0 65.4v4.87" stroke="#f8e8e0" stroke-width="1.60" fill="none"/>
<path d="M336.8 65.4v4.87M346.4 65.4v4.87M347.6 65.4v4.87" stroke="#f0e8f0" stroke-width="1.60" fill="none"/>
<path d="M338.0 65.4v4.87M340.4 65.4v4.87M341.6 65.4v4.87M342.8 65.4v4.87M344.0 65.4v4.87M345.2 65.4v4.87M350.0 65.4v4.87M351.2 65.4v4.87M352.4 65.4v4.87" stroke="#f0f0f8" stroke-width="1.60" fill="none"/>
<path d="M339.2 65.4v4.87" stroke="#e8e8f0" stroke-width="1.60" fill="none"/>
<path d="M348.8 65.4v4.87M353.6 65.4v4.87" stroke="#e8e0f0" stroke-width="1.60" fill="none"/>
<path d="M354.8 65.4v4.87M359.6 65.4v4.87M372.8 65.4v4.87" stroke="#a8a0e0" stroke-width="1.60" fill="none"/>
<path d="M356.0 65.4v4.87M360.8 65.4v4.87M365.6 65.4v4.87M366.8 65.4v4.87M377.6 65.4v4.87M378.8 65.4v4.87M381.2 65.4v4.87" stroke="#b0a8e0" stroke-width="1.60" fill="none"/>
<path d="M357.2 65.4v4.87" stroke="#b0a0e0" stroke-width="1.60" fill="none"/>
<path d="M358.4 65.4v4.87M368.0 65.4v4.87M369.2 65.4v4.87M374.0 65.4v4.87M380.0 65.4v4.87M382.4 65.4v4.87" stroke="#a098d0" stroke-width="1.60" fill="none"/>
<path d="M362.0 65.4v4.87M364.4 65.4v4.87M370.4 65.4v4.87M371.6 65.4v4.87M375.2 65.4v4.87M383.6 65.4v4.87" stroke="#a8a0d8" stroke-width="1.60" fill="none"/>
<path d="M363.2 65.4v4.87M376.4 65.4v4.87" stroke="#a0a0d0" stroke-width="1.60" fill="none"/>
<path d="M384.8 65.4v4.87M386.0 65.4v4.87M398.0 65.4v4.87" stroke="#c8c0e8" stroke-width="1.60" fill="none"/>
<path d="M387.2 65.4v4.87M390.8 65.4v4.87M399.2 65.4v4.87M401.6 65.4v4.87" stroke="#c0c0e8" stroke-width="1.60" fill="none"/>
<path d="M388.4 65.4v4.87M400.4 65.4v4.87M402.8 65.4v4.87" stroke="#c0b8e8" stroke-width="1.60" fill="none"/>
<path d="M389.6 65.4v4.87M393.2 65.4v4.87" stroke="#b8b0e0" stroke-width="1.60" fill="none"/>
<path d="M392.0 65.4v4.87M395.6 65.4v4.87" stroke="#b8b0d8" stroke-width="1.60" fill="none"/>
<path d="M394.4 65.4v4.87M396.8 65.4v4.87" stroke="#c0b8e0" stroke-width="1.60" fill="none"/>
<path d="M404.0 65.4v4.87" stroke="#c8c0e0" stroke-width="1.60" fill="none"/>
<path d="M405.2 65.4v4.87M407.6 65.4v4.87M408.8 65.4v4.87M411.2 65.4v4.87M412.4 65.4v4.87M416.0 65.4v4.87M417.2 65.4v4.87M418.4 65.4v4.87M419.6 65.4v4.87" stroke="#d8d0f0" stroke-width="1.60" fill="none"/>
<path d="M406.4 65.4v4.87M413.6 65.4v4.87" stroke="#d0d0e8" stroke-width="1.60" fill="none"/>
<path d="M410.0 65.4v4.87" stroke="#d0d0f0" stroke-width="1.60" fill="none"/>
<path d="M414.8 65.4v4.87" stroke="#d0c8e8" stroke-width="1.60" fill="none"/>
<path d="M420.8 65.4v4.87M422.0 65.4v4.87M423.2 65.4v4.87" stroke="#f07048" stroke-width="1.60" fill="none"/>
<path d="M424.4 65.4v4.87" stroke="#f06840" stroke-width="1.60" fill="none"/>
<path d="M425.6 65.4v4.87" stroke="#e86840" stroke-width="1.60" fill="none"/>
<path d="M426.8 65.4v4.87" stroke="#f09880" stroke-width="1.60" fill="none"/>
<path d="M428.0 65.4v4.87" stroke="#e89070" stroke-width="1.60" fill="none"/>
<path d="M429.2 65.4v4.87" stroke="#f09878" stroke-width="1.60" fill="none"/>
<path d="M430.4 65.4v4.87" stroke="#f0a080" stroke-width="1.60" fill="none"/>
<path d="M245.6 69.8v4.87M246.8 69.8v4.87M248.0 69.8v4.87M250.4 69.8v4.87M252.8 69.8v4.87M255.2 69.8v4.87M257.6 69.8v4.87M267.2 69.8v4.87M272.0 69.8v4.87M273.2 69.8v4.87M274.4 69.8v4.87M276.8 69.8v4.87M281.6 69.8v4.87M282.8 69.8v4.87M284.0 69.8v4.87M285.2 69.8v4.87M286.4 69.8v4.87M288.8 69.8v4.87M291.2 69.8v4.87M292.4 69.8v4.87M293.6 69.8v4.87M294.8 69.8v4.87M297.2 69.8v4.87M299.6 69.8v4.87M302.0 69.8v4.87M310.4 69.8v4.87M315.2 69.8v4.87M317.6 69.8v4.87M318.8 69.8v4.87M321.2 69.8v4.87M322.4 69.8v4.87M324.8 69.8v4.87M326.0 69.8v4.87M327.2 69.8v4.87M329.6 69.8v4.87M330.8 69.8v4.87M334.4 69.8v4.87M335.6 69.8v4.87M351.2 69.8v4.87M352.4 69.8v4.87M353.6 69.8v4.87M384.8 69.8v4.87M388.4 69.8v4.87M390.8 69.8v4.87M392.0 69.8v4.87M394.4 69.8v4.87M395.6 69.8v4.87M396.8 69.8v4.87M399.2 69.8v4.87M400.4 69.8v4.87M401.6 69.8v4.87M402.8 69.8v4.87" stroke="#d8d0f0" stroke-width="1.60" fill="none"/>
<path d="M249.2 69.8v4.87M254.0 69.8v4.87M262.4 69.8v4.87M264.8 69.8v4.87M266.0 69.8v4.87M278.0 69.8v4.87M306.8 69.8v4.87M387.2 69.8v4.87" stroke="#d0d0e8" stroke-width="1.60" fill="none"/>
<path d="M251.6 69.8v4.87M275.6 69.8v4.87M279.2 69.8v4.87M308.0 69.8v4.87" stroke="#d0c8e0" stroke-width="1.60" fill="none"/>
<path d="M256.4 69.8v4.87M260.0 69.8v4.87M263.6 69.8v4.87M280.4 69.8v4.87M298.4 69.8v4.87M309.2 69.8v4.87M323.6 69.8v4.87M328.4 69.8v4.87M332.0 69.8v4.87M333.2 69.8v4.87M389.6 69.8v4.87M393.2 69.8v4.87" stroke="#c8c0e0" stroke-width="1.60" fill="none"/>
<path d="M258.8 69.8v4.87M261.2 69.8v4.87M268.4 69.8v4.87M269.6 69.8v4.87M270.8 69.8v4.87M287.6 69.8v4.87M290.0 69.8v4.87M296.0 69.8v4.87M300.8 69.8v4.87M303.2 69.8v4.87M304.4 69.8v4.87M305.6 69.8v4.87M311.6 69.8v4.87M312.8 69.8v4.87M314.0 69.8v4.87M320.0 69.8v4.87M386.0 69.8v4.87M398.0 69.8v4.87" stroke="#d0c8e8" stroke-width="1.60" fill="none"/>
<path d="M316.4 69.8v4.87" stroke="#d0d0f0" stroke-width="1.60" fill="none"/>
<path d="M336.8 69.8v4.87M340.4 69.8v4.87" stroke="#e8e8f0" stroke-width="1.60" fill="none"/>
<path d="M338.0 69.8v4.87M339.2 69.8v4.87" stroke="#e8e0e8" stroke-width="1.60" fill="none"/>
<path d="M341.6 69.8v4.87M345.2 69.8v4.87M346.4 69.8v4.87M348.8 69.8v4.87M350.0 69.8v4.87M405.2 69.8v4.87M406.4 69.8v4.87M408.8 69.8v4.87M411.2 69.8v4.87M412.4 69.8v4.87M413.6 69.8v4.87M416.0 69.8v4.87M418.4 69.8v4.87M419.6 69.8v4.87" stroke="#f0f0f8" stroke-width="1.60" fill="none"/>
<path d="M342.8 69.8v4.87M407.6 69.8v4.87M410.0 69.8v4.87" stroke="#f0e8f0" stroke-width="1.60" fill="none"/>
<path d="M344.0 69.8v4.87M347.6 69.8v4.87M414.8 69.8v4.87" stroke="#e8e0f0" stroke-width="1.60" fill="none"/>
<path d="M354.8 69.8v4.87M356.0 69.8v4.87M358.4 69.8v4.87M360.8 69.8v4.87M363.2 69.8v4.87M377.6 69.8v4.87M380.0 69.8v4.87M383.6 69.8v4.87" stroke="#b0a8e0" stroke-width="1.60" fill="none"/>
<path d="M357.2 69.8v4.87" stroke="#a0a0d0" stroke-width="1.60" fill="none"/>
<path d="M359.6 69.8v4.87M362.0 69.8v4.87M369.2 69.8v4.87M371.6 69.8v4.87M374.0 69.8v4.87M375.2 69.8v4.87M381.2 69.8v4.87" stroke="#a8a0e0" stroke-width="1.60" fill="none"/>
<path d="M364.4 69.8v4.87M376.4 69.8v4.87M382.4 69.8v4.87" stroke="#b0a0e0" stroke-width="1.60" fill="none"/>
<path d="M365.6 69.8v4.87" stroke="#a8a0d8" stroke-width="1.60" fill="none"/>
<path d="M366.8 69.8v4.87" stroke="#a0a0d8" stroke-width="1.60" fill="none"/>
<path d="M368.0 69.8v4.87M370.4 69.8v4.87M372.8 69.8v4.87M378.8 69.8v4.87" stroke="#a098d0" stroke-width="1.60" fill="none"/>
<path d="M404.0 69.8v4.87" stroke="#e0e0e8" stroke-width="1.60" fill="none"/>
<path d="M417.2 69.8v4.87" stroke="#f0e8f8" stroke-width="1.60" fill="none"/>
<path d="M420.8 69.8v4.87" stroke="#f09078" stroke-width="1.60" fill="none"/>
<path d="M422.0 69.8v4.87" stroke="#f0a080" stroke-width="1.60" fill="none"/>
<path d="M423.2 69.8v4.87M424.4 69.8v4.87" stroke="#f09878" stroke-width="1.60" fill="none"/>
<path d="M425.6 69.8v4.87" stroke="#e89078" stroke-width="1.60" fill="none"/>
<path d="M426.8 69.8v4.87M429.2 69.8v4.87" stroke="#f8c8b0" stroke-width="1.60" fill="none"/>
<path d="M428.0 69.8v4.87M430.4 69.8v4.87" stroke="#f8c8b8" stroke-width="1.60" fill="none"/>
<path d="M431.6 69.8v4.87" stroke="#f8e8e0" stroke-width="1.60" fill="none"/>
<path d="M432.8 69.8v4.87M434.0 69.8v4.87M444.8 69.8v4.87" stroke="#f0e8e0" stroke-width="1.60" fill="none"/>
<path d="M435.2 69.8v4.87M436.4 69.8v4.87M437.6 69.8v4.87M440.0 69.8v4.87M441.2 69.8v4.87M442.4 69.8v4.87M448.4 69.8v4.87M449.6 69.8v4.87M450.8 69.8v4.87M452.0 69.8v4.87M453.2 69.8v4.87M454.4 69.8v4.87M455.6 69.8v4.87M456.8 69.8v4.87M458.0 69.8v4.87M459.2 69.8v4.87M460.4 69.8v4.87" stroke="#f8f0e8" stroke-width="1.60" fill="none"/>
<path d="M438.8 69.8v4.87M443.6 69.8v4.87M446.0 69.8v4.87" stroke="#e8e0d8" stroke-width="1.60" fill="none"/>
<path d="M447.2 69.8v4.87M461.6 69.8v4.87" stroke="#f0e0e0" stroke-width="1.60" fill="none"/>
<path d="M245.6 74.2v4.87M246.8 74.2v4.87M248.0 74.2v4.87M252.8 74.2v4.87M254.0 74.2v4.87M255.2 74.2v4.87M256.4 74.2v4.87M257.6 74.2v4.87M258.8 74.2v4.87M260.0 74.2v4.87M263.6 74.2v4.87M266.0 74.2v4.87M267.2 74.2v4.87M268.4 74.2v4.87M270.8 74.2v4.87M274.4 74.2v4.87M275.6 74.2v4.87M276.8 74.2v4.87M278.0 74.2v4.87M280.4 74.2v4.87M281.6 74.2v4.87M282.8 74.2v4.87M284.0 74.2v4.87M285.2 74.2v4.87M286.4 74.2v4.87M288.8 74.2v4.87M294.8 74.2v4.87M297.2 74.2v4.87M299.6 74.2v4.87M303.2 74.2v4.87M305.6 74.2v4.87M309.2 74.2v4.87M310.4 74.2v4.87M311.6 74.2v4.87M312.8 74.2v4.87M315.2 74.2v4.87M316.4 74.2v4.87M317.6 74.2v4.87M318.8 74.2v4.87M321.2 74.2v4.87M322.4 74.2v4.87M326.0 74.2v4.87M327.2 74.2v4.87M330.8 74.2v4.87M333.2 74.2v4.87M334.4 74.2v4.87" stroke="#f8f0f0" stroke-width="1.60" fill="none"/>
<path d="M249.2 74.2v4.87M273.2 74.2v4.87M287.6 74.2v4.87M296.0 74.2v4.87M300.8 74.2v4.87" stroke="#f0e0e8" stroke-width="1.60" fill="none"/>
<path d="M250.4 74.2v4.87M261.2 74.2v4.87M290.0 74.2v4.87M291.2 74.2v4.87M304.4 74.2v4.87M306.8 74.2v4.87M320.0 74.2v4.87M332.0 74.2v4.87" stroke="#f0e8e8" stroke-width="1.60" fill="none"/>
<path d="M251.6 74.2v4.87M269.6 74.2v4.87M272.0 74.2v4.87M279.2 74.2v4.87M292.4 74.2v4.87M293.6 74.2v4.87M302.0 74.2v4.87M308.0 74.2v4.87M314.0 74.2v4.87M323.6 74.2v4.87M324.8 74.2v4.87M328.4 74.2v4.87M335.6 74.2v4.87" stroke="#e8e0e0" stroke-width="1.60" fill="none"/>
<path d="M262.4 74.2v4.87M264.8 74.2v4.87M329.6 74.2v4.87" stroke="#f0e8f0" stroke-width="1.60" fill="none"/>
<path d="M298.4 74.2v4.87" stroke="#e8e0e8" stroke-width="1.60" fill="none"/>
<path d="M336.8 74.2v4.87M344.0 74.2v4.87M348.8 74.2v4.87M432.8 74.2v4.87M441.2 74.2v4.87M448.4 74.2v4.87" stroke="#f8e8e0" stroke-width="1.60" fill="none"/>
<path d="M338.0 74.2v4.87M339.2 74.2v4.87M340.4 74.2v4.87M342.8 74.2v4.87M345.2 74.2v4.87M346.4 74.2v4.87M350.0 74.2v4.87M351.2 74.2v4.87M352.4 74.2v4.87M353.6 74.2v4.87M431.6 74.2v4.87M434.0 74.2v4.87M436.4 74.2v4.87M440.0 74.2v4.87M443.6 74.2v4.87M444.8 74.2v4.87M447.2 74.2v4.87M449.6 74.2v4.87M453.2 74.2v4.87M454.4 74.2v4.87M455.6 74.2v4.87M456.8 74.2v4.87M459.2 74.2v4.87M461.6 74.2v4.87" stroke="#f8f0e8" stroke-width="1.60" fill="none"/>
<path d="M341.6 74.2v4.87M437.6 74.2v4.87M446.0 74.2v4.87" stroke="#f0e0e0" stroke-width="1.60" fill="none"/>
<path d="M347.6 74.2v4.87M435.2 74.2v4.87M460.4 74.2v4.87" stroke="#f8e8e8" stroke-width="1.60" fill="none"/>
<path d="M354.8 74.2v4.87M360.8 74.2v4.87M366.8 74.2v4.87M370.4 74.2v4.87M376.4 74.2v4.87M380.0 74.2v4.87M390.8 74.2v4.87M396.8 74.2v4.87" stroke="#c0b8e0" stroke-width="1.60" fill="none"/>
<path d="M356.0 74.2v4.87M384.8 74.2v4.87M398.0 74.2v4.87" stroke="#b8b0d8" stroke-width="1.60" fill="none"/>
<path d="M357.2 74.2v4.87M359.6 74.2v4.87M363.2 74.2v4.87M364.4 74.2v4.87M369.2 74.2v4.87M374.0 74.2v4.87M375.2 74.2v4.87M382.4 74.2v4.87M383.6 74.2v4.87M386.0 74.2v4.87M387.2 74.2v4.87M388.4 74.2v4.87M392.0 74.2v4.87M393.2 74.2v4.87M395.6 74.2v4.87M400.4 74.2v4.87M402.8 74.2v4.87" stroke="#c8c0e8" stroke-width="1.60" fill="none"/>
<path d="M358.4 74.2v4.87M362.0 74.2v4.87M365.6 74.2v4.87M371.6 74.2v4.87M372.8 74.2v4.87M381.2 74.2v4.87M389.6 74.2v4.87M394.4 74.2v4.87M399.2 74.2v4.87" stroke="#c0c0e8" stroke-width="1.60" fill="none"/>
<path d="M368.0 74.2v4.87" stroke="#c0b8e8" stroke-width="1.60" fill="none"/>
<path d="M377.6 74.2v4.87" stroke="#b0b0d8" stroke-width="1.60" fill="none"/>
<path d="M378.8 74.2v4.87" stroke="#b8b8e0" stroke-width="1.60" fill="none"/>
<path d="M401.6 74.2v4.87" stroke="#b8b0e0" stroke-width="1.60" fill="none"/>
<path d="M404.0 74.2v4.87M406.4 74.2v4.87M407.6 74.2v4.87M408.8 74.2v4.87M412.4 74.2v4.87M413.6 74.2v4.87M414.8 74.2v4.87M417.2 74.2v4.87M418.4 74.2v4.87" stroke="#d8d0f0" stroke-width="1.60" fill="none"/>
<path d="M405.2 74.2v4.87M411.2 74.2v4.87M419.6 74.2v4.87" stroke="#d0c8e8" stroke-width="1.60" fill="none"/>
<path d="M410.0 74.2v4.87" stroke="#d0c8e0" stroke-width="1.60" fill="none"/>
<path d="M416.0 74.2v4.87" stroke="#c8c0e0" stroke-width="1.60" fill="none"/>
<path d="M420.8 74.2v4.87M426.8 74.2v4.87" stroke="#f09880" stroke-width="1.60" fill="none"/>
<path d="M422.0 74.2v4.87M423.2 74.2v4.87" stroke="#f0a080" stroke-width="1.60" fill="none"/>
<path d="M424.4 74.2v4.87M425.6 74.2v4.87" stroke="#f09878" stroke-width="1.60" fill="none"/>
<path d="M428.0 74.2v4.87M429.2 74.2v4.87" stroke="#e89078" stroke-width="1.60" fill="none"/>
<path d="M430.4 74.2v4.87" stroke="#e89070" stroke-width="1.60" fill="none"/>
<path d="M438.8 74.2v4.87M450.8 74.2v4.87M452.0 74.2v4.87" stroke="#e8e0d8" stroke-width="1.60" fill="none"/>
<path d="M442.4 74.2v4.87" stroke="#f0e0d8" stroke-width="1.60" fill="none"/>
<path d="M458.0 74.2v4.87" stroke="#f0e8e0" stroke-width="1.60" fill="none"/>
<path d="M245.6 78.5v4.87M246.8 78.5v4.87M248.0 78.5v4.87M256.4 78.5v4.87M257.6 78.5v4.87M258.8 78.5v4.87M260.0 78.5v4.87M261.2 78.5v4.87M263.6 78.5v4.87M267.2 78.5v4.87M269.6 78.5v4.87M270.8 78.5v4.87M272.0 78.5v4.87M273.2 78.5v4.87M275.6 78.5v4.87M278.0 78.5v4.87M279.2 78.5v4.87M285.2 78.5v4.87M286.4 78.5v4.87M287.6 78.5v4.87M290.0 78.5v4.87M291.2 78.5v4.87M292.4 78.5v4.87M293.6 78.5v4.87M297.2 78.5v4.87M298.4 78.5v4.87M299.6 78.5v4.87M302.0 78.5v4.87M303.2 78.5v4.87M309.2 78.5v4.87M314.0 78.5v4.87M316.4 78.5v4.87M320.0 78.5v4.87M322.4 78.5v4.87M323.6 78.5v4.87M324.8 78.5v4.87M327.2 78.5v4.87M329.6 78.5v4.87M330.8 78.5v4.87M332.0 78.5v4.87M333.2 78.5v4.87M335.6 78.5v4.87M336.8 78.5v4.87M338.0 78.5v4.87M342.8 78.5v4.87M344.0 78.5v4.87M346.4 78.5v4.87M352.4 78.5v4.87M431.6 78.5v4.87M432.8 78.5v4.87M434.0 78.5v4.87M437.6 78.5v4.87M442.4 78.5v4.87M444.8 78.5v4.87M446.0 78.5v4.87M447.2 78.5v4.87M449.6 78.5v4.87M450.8 78.5v4.87M452.0 78.5v4.87M454.4 78.5v4.87M456.8 78.5v4.87M459.2 78.5v4.87M460.4 78.5v4.87M461.6 78.5v4.87" stroke="#f8f0e8" stroke-width="1.60" fill="none"/>
<path d="M249.2 78.5v4.87M268.4 78.5v4.87M282.8 78.5v4.87M300.8 78.5v4.87M306.8 78.5v4.87M311.6 78.5v4.87M347.6 78.5v4.87M351.2 78.5v4.87M435.2 78.5v4.87" stroke="#f0e8e0" stroke-width="1.60" fill="none"/>
<path d="M250.4 78.5v4.87M255.2 78.5v4.87M262.4 78.5v4.87M281.6 78.5v4.87M288.8 78.5v4.87M294.8 78.5v4.87M315.2 78.5v4.87M318.8 78.5v4.87M341.6 78.5v4.87M443.6 78.5v4.87M458.0 78.5v4.87" stroke="#e8e0d8" stroke-width="1.60" fill="none"/>
<path d="M251.6 78.5v4.87M252.8 78.5v4.87M276.8 78.5v4.87M280.4 78.5v4.87M296.0 78.5v4.87M310.4 78.5v4.87M312.8 78.5v4.87M317.6 78.5v4.87M321.2 78.5v4.87M326.0 78.5v4.87M339.2 78.5v4.87M340.4 78.5v4.87M345.2 78.5v4.87M350.0 78.5v4.87M436.4 78.5v4.87M440.0 78.5v4.87" stroke="#f0e0e0" stroke-width="1.60" fill="none"/>
<path d="M254.0 78.5v4.87M266.0 78.5v4.87M304.4 78.5v4.87M308.0 78.5v4.87M328.4 78.5v4.87M448.4 78.5v4.87" stroke="#f0e0d8" stroke-width="1.60" fill="none"/>
<path d="M264.8 78.5v4.87M348.8 78.5v4.87" stroke="#f8e8e8" stroke-width="1.60" fill="none"/>
<path d="M274.4 78.5v4.87M284.0 78.5v4.87M305.6 78.5v4.87M334.4 78.5v4.87M353.6 78.5v4.87M438.8 78.5v4.87M441.2 78.5v4.87M453.2 78.5v4.87M455.6 78.5v4.87" stroke="#f8e8e0" stroke-width="1.60" fill="none"/>
<path d="M354.8 78.5v4.87M365.6 78.5v4.87M370.4 78.5v4.87M393.2 78.5v4.87M396.8 78.5v4.87M400.4 78.5v4.87M404.0 78.5v4.87M411.2 78.5v4.87M417.2 78.5v4.87" stroke="#d0c8e0" stroke-width="1.60" fill="none"/>
<path d="M356.0 78.5v4.87M358.4 78.5v4.87M360.8 78.5v4.87M363.2 78.5v4.87M364.4 78.5v4.87M366.8 78.5v4.87M372.8 78.5v4.87M374.0 78.5v4.87M375.2 78.5v4.87M378.8 78.5v4.87M381.2 78.5v4.87M383.6 78.5v4.87M386.0 78.5v4.87M390.8 78.5v4.87M392.0 78.5v4.87M395.6 78.5v4.87M398.0 78.5v4.87M401.6 78.5v4.87M402.8 78.5v4.87M407.6 78.5v4.87M408.8 78.5v4.87M412.4 78.5v4.87M413.6 78.5v4.87M414.8 78.5v4.87M416.0 78.5v4.87M419.6 78.5v4.87" stroke="#d8d0f0" stroke-width="1.60" fill="none"/>
<path d="M357.2 78.5v4.87M368.0 78.5v4.87M369.2 78.5v4.87M371.6 78.5v4.87M377.6 78.5v4.87M382.4 78.5v4.87M387.2 78.5v4.87M410.0 78.5v4.87" stroke="#d0c8e8" stroke-width="1.60" fill="none"/>
<path d="M359.6 78.5v4.87M362.0 78.5v4.87M376.4 78.5v4.87M380.0 78.5v4.87M384.8 78.5v4.87M388.4 78.5v4.87M389.6 78.5v4.87M399.2 78.5v4.87M405.2 78.5v4.87M406.4 78.5v4.87M418.4 78.5v4.87" stroke="#c8c0e0" stroke-width="1.60" fill="none"/>
<path d="M394.4 78.5v4.87" stroke="#d0d0f0" stroke-width="1.60" fill="none"/>
<path d="M420.8 78.5v4.87M429.2 78.5v4.87" stroke="#e04020" stroke-width="1.60" fill="none"/>
<path d="M422.0 78.5v4.87" stroke="#e84820" stroke-width="1.60" fill="none"/>
<path d="M423.2 78.5v4.87" stroke="#d84018" stroke-width="1.60" fill="none"/>
<path d="M424.4 78.5v4.87M426.8 78.5v4.87M428.0 78.5v4.87" stroke="#e85028" stroke-width="1.60" fill="none"/>
<path d="M425.6 78.5v4.87" stroke="#e04018" stroke-width="1.60" fill="none"/>
<path d="M430.4 78.5v4.87" stroke="#d04018" stroke-width="1.60" fill="none"/>
<path d="M245.6 82.9v4.87M246.8 82.9v4.87M248.0 82.9v4.87M250.4 82.9v4.87M256.4 82.9v4.87M260.0 82.9v4.87M263.6 82.9v4.87M264.8 82.9v4.87M266.0 82.9v4.87M267.2 82.9v4.87M269.6 82.9v4.87M270.8 82.9v4.87M274.4 82.9v4.87M275.6 82.9v4.87M281.6 82.9v4.87M282.8 82.9v4.87M285.2 82.9v4.87M286.4 82.9v4.87M288.8 82.9v4.87M290.0 82.9v4.87M293.6 82.9v4.87M294.8 82.9v4.87M297.2 82.9v4.87M298.4 82.9v4.87M303.2 82.9v4.87M304.4 82.9v4.87M305.6 82.9v4.87M306.8 82.9v4.87M308.0 82.9v4.87M309.2 82.9v4.87M311.6 82.9v4.87M312.8 82.9v4.87M314.0 82.9v4.87M317.6 82.9v4.87M320.0 82.9v4.87M322.4 82.9v4.87M323.6 82.9v4.87M327.2 82.9v4.87M328.4 82.9v4.87M329.6 82.9v4.87M330.8 82.9v4.87M332.0 82.9v4.87M333.2 82.9v4.87M334.4 82.9v4.87M336.8 82.9v4.87M339.2 82.9v4.87M341.6 82.9v4.87M342.8 82.9v4.87M344.0 82.9v4.87M346.4 82.9v4.87M347.6 82.9v4.87M348.8 82.9v4.87M352.4 82.9v4.87" stroke="#f8f0e8" stroke-width="1.60" fill="none"/>
<path d="M249.2 82.9v4.87M257.6 82.9v4.87M262.4 82.9v4.87M272.0 82.9v4.87M310.4 82.9v4.87M321.2 82.9v4.87M324.8 82.9v4.87M335.6 82.9v4.87" stroke="#e8e0d8" stroke-width="1.60" fill="none"/>
<path d="M251.6 82.9v4.87M255.2 82.9v4.87M276.8 82.9v4.87M300.8 82.9v4.87M315.2 82.9v4.87M338.0 82.9v4.87M340.4 82.9v4.87M345.2 82.9v4.87M350.0 82.9v4.87M351.2 82.9v4.87" stroke="#f0e8e0" stroke-width="1.60" fill="none"/>
<path d="M252.8 82.9v4.87M261.2 82.9v4.87M280.4 82.9v4.87M284.0 82.9v4.87M287.6 82.9v4.87M326.0 82.9v4.87" stroke="#f0e0e0" stroke-width="1.60" fill="none"/>
<path d="M254.0 82.9v4.87M258.8 82.9v4.87M268.4 82.9v4.87M273.2 82.9v4.87M278.0 82.9v4.87M353.6 82.9v4.87" stroke="#f0e0d8" stroke-width="1.60" fill="none"/>
<path d="M279.2 82.9v4.87M292.4 82.9v4.87M296.0 82.9v4.87M316.4 82.9v4.87" stroke="#f8e8e8" stroke-width="1.60" fill="none"/>
<path d="M291.2 82.9v4.87M299.6 82.9v4.87M302.0 82.9v4.87M318.8 82.9v4.87" stroke="#f8e8e0" stroke-width="1.60" fill="none"/>
<path d="M354.8 82.9v4.87M357.2 82.9v4.87M359.6 82.9v4.87M360.8 82.9v4.87M371.6 82.9v4.87M375.2 82.9v4.87M380.0 82.9v4.87M381.2 82.9v4.87M383.6 82.9v4.87M388.4 82.9v4.87M390.8 82.9v4.87M396.8 82.9v4.87M398.0 82.9v4.87M407.6 82.9v4.87M411.2 82.9v4.87" stroke="#8070c8" stroke-width="1.60" fill="none"/>
<path d="M356.0 82.9v4.87M400.4 82.9v4.87M416.0 82.9v4.87" stroke="#8880d0" stroke-width="1.60" fill="none"/>
<path d="M358.4 82.9v4.87M362.0 82.9v4.87M363.2 82.9v4.87M364.4 82.9v4.87M365.6 82.9v4.87M368.0 82.9v4.87M369.2 82.9v4.87M377.6 82.9v4.87M384.8 82.9v4.87M386.0 82.9v4.87M387.2 82.9v4.87M395.6 82.9v4.87M399.2 82.9v4.87M401.6 82.9v4.87M404.0 82.9v4.87M413.6 82.9v4.87M414.8 82.9v4.87M418.4 82.9v4.87M419.6 82.9v4.87" stroke="#7870c0" stroke-width="1.60" fill="none"/>
<path d="M366.8 82.9v4.87M389.6 82.9v4.87M393.2 82.9v4.87M410.0 82.9v4.87" stroke="#7870c8" stroke-width="1.60" fill="none"/>
<path d="M370.4 82.9v4.87M405.2 82.9v4.87M408.8 82.9v4.87" stroke="#7868c0" stroke-width="1.60" fill="none"/>
<path d="M372.8 82.9v4.87" stroke="#8078d0" stroke-width="1.60" fill="none"/>
<path d="M374.0 82.9v4.87M376.4 82.9v4.87M378.8 82.9v4.87M382.4 82.9v4.87M402.8 82.9v4.87M412.4 82.9v4.87M417.2 82.9v4.87" stroke="#8078c8" stroke-width="1.60" fill="none"/>
<path d="M392.0 82.9v4.87" stroke="#7068b8" stroke-width="1.60" fill="none"/>
<path d="M394.4 82.9v4.87M406.4 82.9v4.87" stroke="#8878d0" stroke-width="1.60" fill="none"/>
<path d="M420.8 82.9v4.87M426.8 82.9v4.87" stroke="#f09878" stroke-width="1.60" fill="none"/>
<path d="M422.0 82.9v4.87M424.4 82.9v4.87M425.6 82.9v4.87M428.0 82.9v4.87M429.2 82.9v4.87M430.4 82.9v4.87" stroke="#f0a080" stroke-width="1.60" fill="none"/>
<path d="M423.2 82.9v4.87" stroke="#f09880" stroke-width="1.60" fill="none"/>
<path d="M431.6 82.9v4.87M441.2 82.9v4.87M442.4 82.9v4.87M444.8 82.9v4.87M449.6 82.9v4.87M452.0 82.9v4.87" stroke="#f8c8b0" stroke-width="1.60" fill="none"/>
<path d="M432.8 82.9v4.87M434.0 82.9v4.87M435.2 82.9v4.87M437.6 82.9v4.87M440.0 82.9v4.87M443.6 82.9v4.87M447.2 82.9v4.87M448.4 82.9v4.87" stroke="#f8c8b8" stroke-width="1.60" fill="none"/>
<path d="M436.4 82.9v4.87M438.8 82.9v4.87" stroke="#e8b8a8" stroke-width="1.60" fill="none"/>
<path d="M446.0 82.9v4.87M450.8 82.9v4.87" stroke="#f0c0b0" stroke-width="1.60" fill="none"/>
<path d="M453.2 82.9v4.87M454.4 82.9v4.87M458.0 82.9v4.87M461.6 82.9v4.87" stroke="#d8d0f0" stroke-width="1.60" fill="none"/>
<path d="M455.6 82.9v4.87M460.4 82.9v4.87" stroke="#d0c8e8" stroke-width="1.60" fill="none"/>
<path d="M456.8 82.9v4.87M459.2 82.9v4.87" stroke="#d0d0e8" stroke-width="1.60" fill="none"/>
<path d="M245.6 87.3v4.87M246.8 87.3v4.87M248.0 87.3v4.87M252.8 87.3v4.87M254.0 87.3v4.87M256.4 87.3v4.87M258.8 87.3v4.87M260.0 87.3v4.87M261.2 87.3v4.87M263.6 87.3v4.87M264.8 87.3v4.87M268.4 87.3v4.87M269.6 87.3v4.87M270.8 87.3v4.87M272.0 87.3v4.87M273.2 87.3v4.87M274.4 87.3v4.87M275.6 87.3v4.87M276.8 87.3v4.87M278.0 87.3v4.87M279.2 87.3v4.87M280.4 87.3v4.87M281.6 87.3v4.87M282.8 87.3v4.87M284.0 87.3v4.87M285.2 87.3v4.87M286.4 87.3v4.87M288.8 87.3v4.87M290.0 87.3v4.87M291.2 87.3v4.87M292.4 87.3v4.87M293.6 87.3v4.87M294.8 87.3v4.87M296.0 87.3v4.87M297.2 87.3v4.87M298.4 87.3v4.87M299.6 87.3v4.87M302.0 87.3v4.87M303.2 87.3v4.87M306.8 87.3v4.87M308.0 87.3v4.87M309.2 87.3v4.87M311.6 87.3v4.87M312.8 87.3v4.87M314.0 87.3v4.87M315.2 87.3v4.87M316.4 87.3v4.87M317.6 87.3v4.87M321.2 87.3v4.87M322.4 87.3v4.87M326.0 87.3v4.87M327.2 87.3v4.87M328.4 87.3v4.87M329.6 87.3v4.87M330.8 87.3v4.87M333.2 87.3v4.87M334.4 87.3v4.87" stroke="#f8f0f0" stroke-width="1.60" fill="none"/>
<path d="M249.2 87.3v4.87M251.6 87.3v4.87M262.4 87.3v4.87M304.4 87.3v4.87M318.8 87.3v4.87M323.6 87.3v4.87M324.8 87.3v4.87" stroke="#f0e8e8" stroke-width="1.60" fill="none"/>
<path d="M250.4 87.3v4.87M257.6 87.3v4.87M305.6 87.3v4.87M320.0 87.3v4.87M335.6 87.3v4.87" stroke="#f0e8f0" stroke-width="1.60" fill="none"/>
<path d="M255.2 87.3v4.87" stroke="#e8e0e8" stroke-width="1.60" fill="none"/>
<path d="M266.0 87.3v4.87M267.2 87.3v4.87M332.0 87.3v4.87" stroke="#e8e0e0" stroke-width="1.60" fill="none"/>
<path d="M287.6 87.3v4.87M310.4 87.3v4.87" stroke="#f0e0e8" stroke-width="1.60" fill="none"/>
<path d="M300.8 87.3v4.87" stroke="#f0f0f0" stroke-width="1.60" fill="none"/>
<path d="M336.8 87.3v4.87M340.4 87.3v4.87M341.6 87.3v4.87M342.8 87.3v4.87M345.2 87.3v4.87M346.4 87.3v4.87M348.8 87.3v4.87M350.0 87.3v4.87M351.2 87.3v4.87M352.4 87.3v4.87" stroke="#f8f0e8" stroke-width="1.60" fill="none"/>
<path d="M338.0 87.3v4.87" stroke="#e8e0d8" stroke-width="1.60" fill="none"/>
<path d="M339.2 87.3v4.87M347.6 87.3v4.87" stroke="#f0e8e0" stroke-width="1.60" fill="none"/>
<path d="M344.0 87.3v4.87" stroke="#f0e0e0" stroke-width="1.60" fill="none"/>
<path d="M353.6 87.3v4.87" stroke="#f8e8e8" stroke-width="1.60" fill="none"/>
<path d="M354.8 87.3v4.87M356.0 87.3v4.87M358.4 87.3v4.87M360.8 87.3v4.87M370.4 87.3v4.87M374.0 87.3v4.87M375.2 87.3v4.87M390.8 87.3v4.87M395.6 87.3v4.87M399.2 87.3v4.87M405.2 87.3v4.87" stroke="#7870c0" stroke-width="1.60" fill="none"/>
<path d="M357.2 87.3v4.87M364.4 87.3v4.87M369.2 87.3v4.87M371.6 87.3v4.87M389.6 87.3v4.87" stroke="#8078c8" stroke-width="1.60" fill="none"/>
<path d="M359.6 87.3v4.87M366.8 87.3v4.87M376.4 87.3v4.87M383.6 87.3v4.87M392.0 87.3v4.87" stroke="#7868c0" stroke-width="1.60" fill="none"/>
<path d="M362.0 87.3v4.87M378.8 87.3v4.87M381.2 87.3v4.87M386.0 87.3v4.87M388.4 87.3v4.87M400.4 87.3v4.87M402.8 87.3v4.87" stroke="#8070c8" stroke-width="1.60" fill="none"/>
<path d="M363.2 87.3v4.87M365.6 87.3v4.87M398.0 87.3v4.87" stroke="#8078d0" stroke-width="1.60" fill="none"/>
<path d="M368.0 87.3v4.87" stroke="#7068b8" stroke-width="1.60" fill="none"/>
<path d="M372.8 87.3v4.87M380.0 87.3v4.87M382.4 87.3v4.87M406.4 87.3v4.87" stroke="#7870c8" stroke-width="1.60" fill="none"/>
<path d="M377.6 87.3v4.87M387.2 87.3v4.87M393.2 87.3v4.87M401.6 87.3v4.87M404.0 87.3v4.87" stroke="#8880d0" stroke-width="1.60" fill="none"/>
<path d="M384.8 87.3v4.87M394.4 87.3v4.87M396.8 87.3v4.87" stroke="#8878d0" stroke-width="1.60" fill="none"/>
<path d="M407.6 87.3v4.87M413.6 87.3v4.87" stroke="#9890d8" stroke-width="1.60" fill="none"/>
<path d="M408.8 87.3v4.87M416.0 87.3v4.87M418.4 87.3v4.87" stroke="#9080c8" stroke-width="1.60" fill="none"/>
<path d="M410.0 87.3v4.87M414.8 87.3v4.87M417.2 87.3v4.87" stroke="#9088d0" stroke-width="1.60" fill="none"/>
<path d="M411.2 87.3v4.87M419.6 87.3v4.87" stroke="#a090d8" stroke-width="1.60" fill="none"/>
<path d="M412.4 87.3v4.87" stroke="#9888d0" stroke-width="1.60" fill="none"/>
<path d="M420.8 87.3v4.87M453.2 87.3v4.87M455.6 87.3v4.87M461.6 87.3v4.87" stroke="#d0c8e8" stroke-width="1.60" fill="none"/>
<path d="M422.0 87.3v4.87M424.4 87.3v4.87M430.4 87.3v4.87M454.4 87.3v4.87M456.8 87.3v4.87M459.2 87.3v4.87M460.4 87.3v4.87" stroke="#d8d0f0" stroke-width="1.60" fill="none"/>
<path d="M423.2 87.3v4.87M428.0 87.3v4.87M429.2 87.3v4.87" stroke="#c8c0e0" stroke-width="1.60" fill="none"/>
<path d="M425.6 87.3v4.87M426.8 87.3v4.87" stroke="#d0d0e8" stroke-width="1.60" fill="none"/>
<path d="M431.6 87.3v4.87M432.8 87.3v4.87M435.2 87.3v4.87" stroke="#e04018" stroke-width="1.60" fill="none"/>
<path d="M434.0 87.3v4.87" stroke="#d84018" stroke-width="1.60" fill="none"/>
<path d="M436.4 87.3v4.87" stroke="#f0c0a8" stroke-width="1.60" fill="none"/>
<path d="M437.6 87.3v4.87M443.6 87.3v4.87M447.2 87.3v4.87" stroke="#e8b8a8" stroke-width="1.60" fill="none"/>
<path d="M438.8 87.3v4.87" stroke="#f8c8b0" stroke-width="1.60" fill="none"/>
<path d="M440.0 87.3v4.87M444.8 87.3v4.87" stroke="#f0c0b0" stroke-width="1.60" fill="none"/>
<path d="M441.2 87.3v4.87M452.0 87.3v4.87" stroke="#e8c0a8" stroke-width="1.60" fill="none"/>
<path d="M442.4 87.3v4.87M446.0 87.3v4.87M449.6 87.3v4.87M450.8 87.3v4.87" stroke="#f8c8b8" stroke-width="1.60" fill="none"/>
<path d="M448.4 87.3v4.87" stroke="#f8c0b0" stroke-width="1.60" fill="none"/>
<path d="M458.0 87.3v4.87" stroke="#d0c8e0" stroke-width="1.60" fill="none"/>
<path d="M245.6 91.6v4.87M248.0 91.6v4.87M250.4 91.6v4.87M251.6 91.6v4.87M252.8 91.6v4.87M255.2 91.6v4.87M257.6 91.6v4.87M260.0 91.6v4.87M261.2 91.6v4.87M263.6 91.6v4.87M264.8 91.6v4.87M266.0 91.6v4.87M267.2 91.6v4.87M269.6 91.6v4.87M273.2 91.6v4.87M275.6 91.6v4.87M278.0 91.6v4.87M279.2 91.6v4.87M280.4 91.6v4.87M287.6 91.6v4.87M290.0 91.6v4.87M291.2 91.6v4.87M292.4 91.6v4.87M293.6 91.6v4.87M294.8 91.6v4.87M299.6 91.6v4.87M300.8 91.6v4.87M302.0 91.6v4.87M303.2 91.6v4.87M304.4 91.6v4.87M305.6 91.6v4.87M308.0 91.6v4.87M309.2 91.6v4.87M310.4 91.6v4.87M314.0 91.6v4.87M315.2 91.6v4.87M316.4 91.6v4.87M323.6 91.6v4.87M327.2 91.6v4.87M329.6 91.6v4.87M330.8 91.6v4.87M332.0 91.6v4.87M334.4 91.6v4.87M335.6 91.6v4.87" stroke="#f8f0f0" stroke-width="1.60" fill="none"/>
<path d="M246.8 91.6v4.87M258.8 91.6v4.87M276.8 91.6v4.87M286.4 91.6v4.87M296.0 91.6v4.87M312.8 91.6v4.87" stroke="#f0e0e8" stroke-width="1.60" fill="none"/>
<path d="M249.2 91.6v4.87M254.0 91.6v4.87M256.4 91.6v4.87M262.4 91.6v4.87M272.0 91.6v4.87M285.2 91.6v4.87M288.8 91.6v4.87M297.2 91.6v4.87M306.8 91.6v4.87M311.6 91.6v4.87M320.0 91.6v4.87M321.2 91.6v4.87M328.4 91.6v4.87M333.2 91.6v4.87" stroke="#f0e8e8" stroke-width="1.60" fill="none"/>
<path d="M268.4 91.6v4.87M274.4 91.6v4.87M281.6 91.6v4.87M284.0 91.6v4.87M322.4 91.6v4.87M326.0 91.6v4.87" stroke="#f0e8f0" stroke-width="1.60" fill="none"/>
<path d="M270.8 91.6v4.87M425.6 91.6v4.87" stroke="#e8e0e8" stroke-width="1.60" fill="none"/>
<path d="M282.8 91.6v4.87M298.4 91.6v4.87M317.6 91.6v4.87M318.8 91.6v4.87M324.8 91.6v4.87" stroke="#e8e0e0" stroke-width="1.60" fill="none"/>
<path d="M336.8 91.6v4.87M428.0 91.6v4.87" stroke="#f8e8e0" stroke-width="1.60" fill="none"/>
<path d="M338.0 91.6v4.87M342.8 91.6v4.87M346.4 91.6v4.87M430.4 91.6v4.87" stroke="#e8e0d8" stroke-width="1.60" fill="none"/>
<path d="M339.2 91.6v4.87M340.4 91.6v4.87M344.0 91.6v4.87M345.2 91.6v4.87M350.0 91.6v4.87M352.4 91.6v4.87M353.6 91.6v4.87" stroke="#f8f0e8" stroke-width="1.60" fill="none"/>
<path d="M341.6 91.6v4.87M347.6 91.6v4.87M426.8 91.6v4.87" stroke="#f0e8e0" stroke-width="1.60" fill="none"/>
<path d="M348.8 91.6v4.87" stroke="#f0e0d8" stroke-width="1.60" fill="none"/>
<path d="M351.2 91.6v4.87M429.2 91.6v4.87" stroke="#f0e0e0" stroke-width="1.60" fill="none"/>
<path d="M354.8 91.6v4.87M362.0 91.6v4.87M372.8 91.6v4.87M381.2 91.6v4.87M392.0 91.6v4.87" stroke="#7868c0" stroke-width="1.60" fill="none"/>
<path d="M356.0 91.6v4.87M358.4 91.6v4.87M366.8 91.6v4.87M368.0 91.6v4.87M370.4 91.6v4.87M374.0 91.6v4.87M380.0 91.6v4.87M382.4 91.6v4.87M388.4 91.6v4.87M399.2 91.6v4.87M400.4 91.6v4.87M417.2 91.6v4.87M419.6 91.6v4.87" stroke="#8078c8" stroke-width="1.60" fill="none"/>
<path d="M357.2 91.6v4.87M393.2 91.6v4.87M394.4 91.6v4.87M407.6 91.6v4.87" stroke="#7870c8" stroke-width="1.60" fill="none"/>
<path d="M359.6 91.6v4.87M369.2 91.6v4.87M383.6 91.6v4.87M414.8 91.6v4.87" stroke="#8078d0" stroke-width="1.60" fill="none"/>
<path d="M360.8 91.6v4.87M378.8 91.6v4.87M384.8 91.6v4.87M390.8 91.6v4.87M395.6 91.6v4.87M396.8 91.6v4.87M398.0 91.6v4.87M401.6 91.6v4.87M402.8 91.6v4.87M408.8 91.6v4.87M411.2 91.6v4.87M413.6 91.6v4.87M418.4 91.6v4.87" stroke="#7870c0" stroke-width="1.60" fill="none"/>
<path d="M363.2 91.6v4.87M365.6 91.6v4.87M377.6 91.6v4.87M387.2 91.6v4.87" stroke="#8880d0" stroke-width="1.60" fill="none"/>
<path d="M364.4 91.6v4.87M371.6 91.6v4.87M375.2 91.6v4.87M376.4 91.6v4.87M386.0 91.6v4.87M389.6 91.6v4.87M412.4 91.6v4.87M416.0 91.6v4.87" stroke="#8070c8" stroke-width="1.60" fill="none"/>
<path d="M404.0 91.6v4.87M405.2 91.6v4.87" stroke="#9888d0" stroke-width="1.60" fill="none"/>
<path d="M406.4 91.6v4.87" stroke="#a090d8" stroke-width="1.60" fill="none"/>
<path d="M410.0 91.6v4.87" stroke="#8878d0" stroke-width="1.60" fill="none"/>
<path d="M420.8 91.6v4.87M422.0 91.6v4.87M423.2 91.6v4.87M424.4 91.6v4.87" stroke="#f0f0f8" stroke-width="1.60" fill="none"/>
<path d="M431.6 91.6v4.87M437.6 91.6v4.87M440.0 91.6v4.87" stroke="#e04018" stroke-width="1.60" fill="none"/>
<path d="M432.8 91.6v4.87M436.4 91.6v4.87M441.2 91.6v4.87M442.4 91.6v4.87M447.2 91.6v4.87M452.0 91.6v4.87" stroke="#d84018" stroke-width="1.60" fill="none"/>
<path d="M434.0 91.6v4.87M448.4 91.6v4.87" stroke="#e84820" stroke-width="1.60" fill="none"/>
<path d="M435.2 91.6v4.87M438.8 91.6v4.87M450.8 91.6v4.87" stroke="#e04020" stroke-width="1.60" fill="none"/>
<path d="M443.6 91.6v4.87" stroke="#d04018" stroke-width="1.60" fill="none"/>
<path d="M444.8 91.6v4.87M449.6 91.6v4.87" stroke="#e85030" stroke-width="1.60" fill="none"/>
<path d="M446.0 91.6v4.87" stroke="#e84828" stroke-width="1.60" fill="none"/>
<path d="M453.2 91.6v4.87M456.8 91.6v4.87M459.2 91.6v4.87M460.4 91.6v4.87M461.6 91.6v4.87" stroke="#d8d0f0" stroke-width="1.60" fill="none"/>
<path d="M454.4 91.6v4.87" stroke="#d0d0f0" stroke-width="1.60" fill="none"/>
<path d="M455.6 91.6v4.87" stroke="#d0c8e0" stroke-width="1.60" fill="none"/>
<path d="M458.0 91.6v4.87" stroke="#c8c0e0" stroke-width="1.60" fill="none"/>
<path d="M245.6 96.0v4.87M246.8 96.0v4.87M252.8 96.0v4.87M254.0 96.0v4.87M257.6 96.0v4.87M258.8 96.0v4.87M260.0 96.0v4.87M262.4 96.0v4.87M263.6 96.0v4.87M264.8 96.0v4.87M268.4 96.0v4.87M274.4 96.0v4.87M279.2 96.0v4.87M280.4 96.0v4.87M281.6 96.0v4.87M282.8 96.0v4.87M284.0 96.0v4.87M332.0 96.0v4.87M333.2 96.0v4.87M335.6 96.0v4.87" stroke="#a898d8" stroke-width="1.60" fill="none"/>
<path d="M248.0 96.0v4.87M249.2 96.0v4.87M255.2 96.0v4.87M256.4 96.0v4.87M261.2 96.0v4.87M266.0 96.0v4.87M267.2 96.0v4.87M269.6 96.0v4.87M270.8 96.0v4.87M273.2 96.0v4.87M275.6 96.0v4.87M320.0 96.0v4.87M321.2 96.0v4.87M322.4 96.0v4.87M324.8 96.0v4.87M326.0 96.0v4.87M328.4 96.0v4.87" stroke="#a090d0" stroke-width="1.60" fill="none"/>
<path d="M250.4 96.0v4.87M251.6 96.0v4.87M276.8 96.0v4.87M327.2 96.0v4.87" stroke="#9888c8" stroke-width="1.60" fill="none"/>
<path d="M272.0 96.0v4.87M278.0 96.0v4.87M323.6 96.0v4.87" stroke="#a890d8" stroke-width="1.60" fill="none"/>
<path d="M285.2 96.0v4.87M286.4 96.0v4.87M329.6 96.0v4.87" stroke="#a090d8" stroke-width="1.60" fill="none"/>
<path d="M287.6 96.0v4.87" stroke="#a090c8" stroke-width="1.60" fill="none"/>
<path d="M288.8 96.0v4.87M309.2 96.0v4.87M312.8 96.0v4.87M314.0 96.0v4.87" stroke="#c0b8e0" stroke-width="1.60" fill="none"/>
<path d="M290.0 96.0v4.87M292.4 96.0v4.87M302.0 96.0v4.87M310.4 96.0v4.87M316.4 96.0v4.87" stroke="#c0c0e8" stroke-width="1.60" fill="none"/>
<path d="M291.2 96.0v4.87M297.2 96.0v4.87M298.4 96.0v4.87" stroke="#b8b0d8" stroke-width="1.60" fill="none"/>
<path d="M293.6 96.0v4.87M300.8 96.0v4.87" stroke="#b8b0e0" stroke-width="1.60" fill="none"/>
<path d="M294.8 96.0v4.87M299.6 96.0v4.87M308.0 96.0v4.87M311.6 96.0v4.87M315.2 96.0v4.87" stroke="#c0b8e8" stroke-width="1.60" fill="none"/>
<path d="M296.0 96.0v4.87M304.4 96.0v4.87M305.6 96.0v4.87M306.8 96.0v4.87M317.6 96.0v4.87M318.8 96.0v4.87" stroke="#c8c0e8" stroke-width="1.60" fill="none"/>
<path d="M303.2 96.0v4.87" stroke="#b0b0d8" stroke-width="1.60" fill="none"/>
<path d="M330.8 96.0v4.87M334.4 96.0v4.87M359.6 96.0v4.87M362.0 96.0v4.87M365.6 96.0v4.87M374.0 96.0v4.87M377.6 96.0v4.87M388.4 96.0v4.87M402.8 96.0v4.87M412.4 96.0v4.87M413.6 96.0v4.87M418.4 96.0v4.87" stroke="#a8a0d8" stroke-width="1.60" fill="none"/>
<path d="M336.8 96.0v4.87M338.0 96.0v4.87M340.4 96.0v4.87M341.6 96.0v4.87M344.0 96.0v4.87M345.2 96.0v4.87M346.4 96.0v4.87M347.6 96.0v4.87M351.2 96.0v4.87M455.6 96.0v4.87M456.8 96.0v4.87M461.6 96.0v4.87" stroke="#d8d0f0" stroke-width="1.60" fill="none"/>
<path d="M339.2 96.0v4.87M352.4 96.0v4.87M458.0 96.0v4.87M459.2 96.0v4.87M460.4 96.0v4.87" stroke="#c8c0e0" stroke-width="1.60" fill="none"/>
<path d="M342.8 96.0v4.87M348.8 96.0v4.87M350.0 96.0v4.87" stroke="#d0c8e8" stroke-width="1.60" fill="none"/>
<path d="M353.6 96.0v4.87M453.2 96.0v4.87" stroke="#d0c8e0" stroke-width="1.60" fill="none"/>
<path d="M354.8 96.0v4.87M358.4 96.0v4.87M369.2 96.0v4.87M372.8 96.0v4.87M392.0 96.0v4.87M394.4 96.0v4.87M395.6 96.0v4.87M398.0 96.0v4.87M399.2 96.0v4.87M401.6 96.0v4.87M405.2 96.0v4.87M407.6 96.0v4.87M410.0 96.0v4.87M419.6 96.0v4.87M422.0 96.0v4.87M423.2 96.0v4.87M424.4 96.0v4.87M426.8 96.0v4.87M428.0 96.0v4.87M430.4 96.0v4.87" stroke="#b0a8e0" stroke-width="1.60" fill="none"/>
<path d="M356.0 96.0v4.87M363.2 96.0v4.87M376.4 96.0v4.87M378.8 96.0v4.87M384.8 96.0v4.87M390.8 96.0v4.87M420.8 96.0v4.87" stroke="#a8a0e0" stroke-width="1.60" fill="none"/>
<path d="M357.2 96.0v4.87M366.8 96.0v4.87M371.6 96.0v4.87M375.2 96.0v4.87M383.6 96.0v4.87M387.2 96.0v4.87M389.6 96.0v4.87M396.8 96.0v4.87M400.4 96.0v4.87M404.0 96.0v4.87M408.8 96.0v4.87M411.2 96.0v4.87M414.8 96.0v4.87M429.2 96.0v4.87" stroke="#a098d0" stroke-width="1.60" fill="none"/>
<path d="M360.8 96.0v4.87M364.4 96.0v4.87M370.4 96.0v4.87M380.0 96.0v4.87M382.4 96.0v4.87M386.0 96.0v4.87M393.2 96.0v4.87M406.4 96.0v4.87M416.0 96.0v4.87M425.6 96.0v4.87" stroke="#b0a0e0" stroke-width="1.60" fill="none"/>
<path d="M368.0 96.0v4.87" stroke="#a0a0d0" stroke-width="1.60" fill="none"/>
<path d="M381.2 96.0v4.87M417.2 96.0v4.87" stroke="#a0a0d8" stroke-width="1.60" fill="none"/>
<path d="M431.6 96.0v4.87M437.6 96.0v4.87M452.0 96.0v4.87" stroke="#e04018" stroke-width="1.60" fill="none"/>
<path d="M432.8 96.0v4.87M438.8 96.0v4.87" stroke="#e84828" stroke-width="1.60" fill="none"/>
<path d="M434.0 96.0v4.87M441.2 96.0v4.87M450.8 96.0v4.87" stroke="#e84820" stroke-width="1.60" fill="none"/>
<path d="M435.2 96.0v4.87M447.2 96.0v4.87" stroke="#e85028" stroke-width="1.60" fill="none"/>
<path d="M436.4 96.0v4.87M442.4 96.0v4.87M444.8 96.0v4.87M448.4 96.0v4.87" stroke="#d84018" stroke-width="1.60" fill="none"/>
<path d="M440.0 96.0v4.87M449.6 96.0v4.87" stroke="#e85030" stroke-width="1.60" fill="none"/>
<path d="M443.6 96.0v4.87" stroke="#e04820" stroke-width="1.60" fill="none"/>
<path d="M446.0 96.0v4.87" stroke="#e04020" stroke-width="1.60" fill="none"/>
<path d="M454.4 96.0v4.87" stroke="#d0d0f0" stroke-width="1.60" fill="none"/>
<path d="M245.6 100.4v4.87M251.6 100.4v4.87M261.2 100.4v4.87M267.2 100.4v4.87M273.2 100.4v4.87M279.2 100.4v4.87M286.4 100.4v4.87" stroke="#8070c0" stroke-width="1.60" fill="none"/>
<path d="M246.8 100.4v4.87M250.4 100.4v4.87M254.0 100.4v4.87M262.4 100.4v4.87M270.8 100.4v4.87M272.0 100.4v4.87M275.6 100.4v4.87M333.2 100.4v4.87" stroke="#8878c8" stroke-width="1.60" fill="none"/>
<path d="M248.0 100.4v4.87M260.0 100.4v4.87M280.4 100.4v4.87M287.6 100.4v4.87M322.4 100.4v4.87M323.6 100.4v4.87M329.6 100.4v4.87M335.6 100.4v4.87" stroke="#8878c0" stroke-width="1.60" fill="none"/>
<path d="M249.2 100.4v4.87M252.8 100.4v4.87M255.2 100.4v4.87M256.4 100.4v4.87M263.6 100.4v4.87M264.8 100.4v4.87M268.4 100.4v4.87M269.6 100.4v4.87M274.4 100.4v4.87M276.8 100.4v4.87M278.0 100.4v4.87M284.0 100.4v4.87M320.0 100.4v4.87M321.2 100.4v4.87M324.8 100.4v4.87M326.0 100.4v4.87M328.4 100.4v4.87M330.8 100.4v4.87M332.0 100.4v4.87M334.4 100.4v4.87" stroke="#9080c8" stroke-width="1.60" fill="none"/>
<path d="M257.6 100.4v4.87M282.8 100.4v4.87M327.2 100.4v4.87" stroke="#9080d0" stroke-width="1.60" fill="none"/>
<path d="M258.8 100.4v4.87M266.0 100.4v4.87M285.2 100.4v4.87" stroke="#8070b8" stroke-width="1.60" fill="none"/>
<path d="M281.6 100.4v4.87" stroke="#8078c0" stroke-width="1.60" fill="none"/>
<path d="M288.8 100.4v4.87M298.4 100.4v4.87M306.8 100.4v4.87M310.4 100.4v4.87" stroke="#a090d8" stroke-width="1.60" fill="none"/>
<path d="M290.0 100.4v4.87M294.8 100.4v4.87M309.2 100.4v4.87M315.2 100.4v4.87" stroke="#a890d8" stroke-width="1.60" fill="none"/>
<path d="M291.2 100.4v4.87M292.4 100.4v4.87M296.0 100.4v4.87M304.4 100.4v4.87M305.6 100.4v4.87M308.0 100.4v4.87" stroke="#a090d0" stroke-width="1.60" fill="none"/>
<path d="M293.6 100.4v4.87M297.2 100.4v4.87M300.8 100.4v4.87M314.0 100.4v4.87" stroke="#9888c8" stroke-width="1.60" fill="none"/>
<path d="M299.6 100.4v4.87M422.0 100.4v4.87M424.4 100.4v4.87M428.0 100.4v4.87" stroke="#a8a0d8" stroke-width="1.60" fill="none"/>
<path d="M302.0 100.4v4.87" stroke="#a090c8" stroke-width="1.60" fill="none"/>
<path d="M303.2 100.4v4.87M311.6 100.4v4.87M316.4 100.4v4.87M317.6 100.4v4.87M318.8 100.4v4.87" stroke="#a898d8" stroke-width="1.60" fill="none"/>
<path d="M312.8 100.4v4.87" stroke="#b0a0d8" stroke-width="1.60" fill="none"/>
<path d="M336.8 100.4v4.87M342.8 100.4v4.87M344.0 100.4v4.87M352.4 100.4v4.87M353.6 100.4v4.87M453.2 100.4v4.87M454.4 100.4v4.87M455.6 100.4v4.87M456.8 100.4v4.87M459.2 100.4v4.87M461.6 100.4v4.87" stroke="#d8d0f0" stroke-width="1.60" fill="none"/>
<path d="M338.0 100.4v4.87" stroke="#d0d0e8" stroke-width="1.60" fill="none"/>
<path d="M339.2 100.4v4.87M350.0 100.4v4.87M351.2 100.4v4.87" stroke="#c8c0e0" stroke-width="1.60" fill="none"/>
<path d="M340.4 100.4v4.87M341.6 100.4v4.87M345.2 100.4v4.87M346.4 100.4v4.87M347.6 100.4v4.87M348.8 100.4v4.87M458.0 100.4v4.87M460.4 100.4v4.87" stroke="#d0c8e8" stroke-width="1.60" fill="none"/>
<path d="M354.8 100.4v4.87M357.2 100.4v4.87M360.8 100.4v4.87M362.0 100.4v4.87M366.8 100.4v4.87M375.2 100.4v4.87M377.6 100.4v4.87M381.2 100.4v4.87M383.6 100.4v4.87" stroke="#4840b0" stroke-width="1.60" fill="none"/>
<path d="M356.0 100.4v4.87M364.4 100.4v4.87" stroke="#5040b0" stroke-width="1.60" fill="none"/>
<path d="M358.4 100.4v4.87M359.6 100.4v4.87M370.4 100.4v4.87M371.6 100.4v4.87M380.0 100.4v4.87" stroke="#4840a8" stroke-width="1.60" fill="none"/>
<path d="M363.2 100.4v4.87M376.4 100.4v4.87" stroke="#5048b8" stroke-width="1.60" fill="none"/>
<path d="M365.6 100.4v4.87M368.0 100.4v4.87M374.0 100.4v4.87M378.8 100.4v4.87M382.4 100.4v4.87" stroke="#5850b8" stroke-width="1.60" fill="none"/>
<path d="M369.2 100.4v4.87M372.8 100.4v4.87" stroke="#5048b0" stroke-width="1.60" fill="none"/>
<path d="M384.8 100.4v4.87M387.2 100.4v4.87M388.4 100.4v4.87M390.8 100.4v4.87M393.2 100.4v4.87M398.0 100.4v4.87M406.4 100.4v4.87M407.6 100.4v4.87M408.8 100.4v4.87M414.8 100.4v4.87M416.0 100.4v4.87" stroke="#7870c0" stroke-width="1.60" fill="none"/>
<path d="M386.0 100.4v4.87" stroke="#7068b8" stroke-width="1.60" fill="none"/>
<path d="M389.6 100.4v4.87M396.8 100.4v4.87M399.2 100.4v4.87M412.4 100.4v4.87M417.2 100.4v4.87M418.4 100.4v4.87" stroke="#8078c8" stroke-width="1.60" fill="none"/>
<path d="M392.0 100.4v4.87M419.6 100.4v4.87" stroke="#7870c8" stroke-width="1.60" fill="none"/>
<path d="M394.4 100.4v4.87M401.6 100.4v4.87M410.0 100.4v4.87" stroke="#8070c8" stroke-width="1.60" fill="none"/>
<path d="M395.6 100.4v4.87M405.2 100.4v4.87M411.2 100.4v4.87" stroke="#8878d0" stroke-width="1.60" fill="none"/>
<path d="M400.4 100.4v4.87M413.6 100.4v4.87" stroke="#8880d0" stroke-width="1.60" fill="none"/>
<path d="M402.8 100.4v4.87" stroke="#7868c0" stroke-width="1.60" fill="none"/>
<path d="M404.0 100.4v4.87" stroke="#8078d0" stroke-width="1.60" fill="none"/>
<path d="M420.8 100.4v4.87M426.8 100.4v4.87M430.4 100.4v4.87" stroke="#b0a8e0" stroke-width="1.60" fill="none"/>
<path d="M423.2 100.4v4.87M425.6 100.4v4.87" stroke="#a098d0" stroke-width="1.60" fill="none"/>
<path d="M429.2 100.4v4.87" stroke="#a8a0e0" stroke-width="1.60" fill="none"/>
<path d="M431.6 100.4v4.87" stroke="#e89078" stroke-width="1.60" fill="none"/>
<path d="M432.8 100.4v4.87" stroke="#f09878" stroke-width="1.60" fill="none"/>
<path d="M434.0 100.4v4.87" stroke="#e09070" stroke-width="1.60" fill="none"/>
<path d="M435.2 100.4v4.87" stroke="#f0a080" stroke-width="1.60" fill="none"/>
<path d="M436.4 100.4v4.87M450.8 100.4v4.87M452.0 100.4v4.87" stroke="#e04020" stroke-width="1.60" fill="none"/>
<path d="M437.6 100.4v4.87" stroke="#e85030" stroke-width="1.60" fill="none"/>
<path d="M438.8 100.4v4.87M443.6 100.4v4.87M444.8 100.4v4.87M446.0 100.4v4.87M448.4 100.4v4.87" stroke="#d84018" stroke-width="1.60" fill="none"/>
<path d="M440.0 100.4v4.87" stroke="#e84820" stroke-width="1.60" fill="none"/>
<path d="M441.2 100.4v4.87M447.2 100.4v4.87" stroke="#e84828" stroke-width="1.60" fill="none"/>
<path d="M442.4 100.4v4.87" stroke="#e04018" stroke-width="1.60" fill="none"/>
<path d="M449.6 100.4v4.87" stroke="#e85028" stroke-width="1.60" fill="none"/>
<path d="M245.6 104.8v4.87M246.8 104.8v4.87M249.2 104.8v4.87M250.4 104.8v4.87M251.6 104.8v4.87M254.0 104.8v4.87M255.2 104.8v4.87M258.8 104.8v4.87M260.0 104.8v4.87M261.2 104.8v4.87M263.6 104.8v4.87M266.0 104.8v4.87M272.0 104.8v4.87M273.2 104.8v4.87M275.6 104.8v4.87M280.4 104.8v4.87M281.6 104.8v4.87M285.2 104.8v4.87M287.6 104.8v4.87M288.8 104.8v4.87M290.0 104.8v4.87M292.4 104.8v4.87M293.6 104.8v4.87M296.0 104.8v4.87M298.4 104.8v4.87M300.8 104.8v4.87M303.2 104.8v4.87M305.6 104.8v4.87M308.0 104.8v4.87M309.2 104.8v4.87M310.4 104.8v4.87M318.8 104.8v4.87M320.0 104.8v4.87M322.4 104.8v4.87M324.8 104.8v4.87M327.2 104.8v4.87M328.4 104.8v4.87M330.8 104.8v4.87M332.0 104.8v4.87M335.6 104.8v4.87M358.4 104.8v4.87M360.8 104.8v4.87M363.2 104.8v4.87M366.8 104.8v4.87M370.4 104.8v4.87M371.6 104.8v4.87M372.8 104.8v4.87M374.0 104.8v4.87M377.6 104.8v4.87M378.8 104.8v4.87M381.2 104.8v4.87M460.4 104.8v4.87" stroke="#d8d0f0" stroke-width="1.60" fill="none"/>
<path d="M248.0 104.8v4.87M252.8 104.8v4.87M262.4 104.8v4.87M264.8 104.8v4.87M276.8 104.8v4.87M286.4 104.8v4.87M291.2 104.8v4.87M294.8 104.8v4.87M311.6 104.8v4.87M312.8 104.8v4.87M314.0 104.8v4.87M316.4 104.8v4.87M321.2 104.8v4.87M329.6 104.8v4.87M333.2 104.8v4.87M334.4 104.8v4.87M354.8 104.8v4.87M369.2 104.8v4.87M376.4 104.8v4.87M382.4 104.8v4.87M461.6 104.8v4.87" stroke="#d0c8e8" stroke-width="1.60" fill="none"/>
<path d="M256.4 104.8v4.87M257.6 104.8v4.87M267.2 104.8v4.87M268.4 104.8v4.87M269.6 104.8v4.87M270.8 104.8v4.87M284.0 104.8v4.87M297.2 104.8v4.87M299.6 104.8v4.87M304.4 104.8v4.87M356.0 104.8v4.87M357.2 104.8v4.87M359.6 104.8v4.87M364.4 104.8v4.87M368.0 104.8v4.87M375.2 104.8v4.87M380.0 104.8v4.87M459.2 104.8v4.87" stroke="#c8c0e0" stroke-width="1.60" fill="none"/>
<path d="M274.4 104.8v4.87M279.2 104.8v4.87M282.8 104.8v4.87M317.6 104.8v4.87M323.6 104.8v4.87M365.6 104.8v4.87" stroke="#d0c8e0" stroke-width="1.60" fill="none"/>
<path d="M278.0 104.8v4.87M326.0 104.8v4.87M362.0 104.8v4.87" stroke="#c8c8e0" stroke-width="1.60" fill="none"/>
<path d="M302.0 104.8v4.87M306.8 104.8v4.87" stroke="#d0d0e8" stroke-width="1.60" fill="none"/>
<path d="M315.2 104.8v4.87M383.6 104.8v4.87" stroke="#d0d0f0" stroke-width="1.60" fill="none"/>
<path d="M336.8 104.8v4.87M339.2 104.8v4.87M340.4 104.8v4.87M341.6 104.8v4.87M342.8 104.8v4.87M344.0 104.8v4.87M346.4 104.8v4.87M348.8 104.8v4.87M350.0 104.8v4.87M352.4 104.8v4.87M353.6 104.8v4.87M387.2 104.8v4.87M389.6 104.8v4.87M392.0 104.8v4.87M394.4 104.8v4.87M396.8 104.8v4.87M399.2 104.8v4.87M400.4 104.8v4.87M404.0 104.8v4.87M405.2 104.8v4.87M408.8 104.8v4.87M410.0 104.8v4.87M411.2 104.8v4.87M418.4 104.8v4.87" stroke="#f0f0f8" stroke-width="1.60" fill="none"/>
<path d="M338.0 104.8v4.87M345.2 104.8v4.87M351.2 104.8v4.87M395.6 104.8v4.87M407.6 104.8v4.87M413.6 104.8v4.87" stroke="#e8e0f0" stroke-width="1.60" fill="none"/>
<path d="M347.6 104.8v4.87M388.4 104.8v4.87M402.8 104.8v4.87M406.4 104.8v4.87" stroke="#f0e8f0" stroke-width="1.60" fill="none"/>
<path d="M384.8 104.8v4.87M390.8 104.8v4.87M393.2 104.8v4.87M398.0 104.8v4.87M401.6 104.8v4.87" stroke="#e8e0e8" stroke-width="1.60" fill="none"/>
<path d="M386.0 104.8v4.87M416.0 104.8v4.87M417.2 104.8v4.87" stroke="#e0e0e8" stroke-width="1.60" fill="none"/>
<path d="M412.4 104.8v4.87M414.8 104.8v4.87" stroke="#e8e8f0" stroke-width="1.60" fill="none"/>
<path d="M419.6 104.8v4.87" stroke="#f0e8f8" stroke-width="1.60" fill="none"/>
<path d="M420.8 104.8v4.87M426.8 104.8v4.87M428.0 104.8v4.87" stroke="#b0a0e0" stroke-width="1.60" fill="none"/>
<path d="M422.0 104.8v4.87" stroke="#a8a0d8" stroke-width="1.60" fill="none"/>
<path d="M423.2 104.8v4.87" stroke="#a098d0" stroke-width="1.60" fill="none"/>
<path d="M424.4 104.8v4.87M425.6 104.8v4.87M429.2 104.8v4.87M430.4 104.8v4.87" stroke="#b0a8e0" stroke-width="1.60" fill="none"/>
<path d="M431.6 104.8v4.87M432.8 104.8v4.87M455.6 104.8v4.87M456.8 104.8v4.87M458.0 104.8v4.87" stroke="#f8f0e8" stroke-width="1.60" fill="none"/>
<path d="M434.0 104.8v4.87" stroke="#f8e8e8" stroke-width="1.60" fill="none"/>
<path d="M435.2 104.8v4.87" stroke="#f0e8e0" stroke-width="1.60" fill="none"/>
<path d="M436.4 104.8v4.87M438.8 104.8v4.87M440.0 104.8v4.87M441.2 104.8v4.87M450.8 104.8v4.87" stroke="#e04020" stroke-width="1.60" fill="none"/>
<path d="M437.6 104.8v4.87M443.6 104.8v4.87M447.2 104.8v4.87" stroke="#e85030" stroke-width="1.60" fill="none"/>
<path d="M442.4 104.8v4.87M452.0 104.8v4.87" stroke="#d84018" stroke-width="1.60" fill="none"/>
<path d="M444.8 104.8v4.87" stroke="#d04018" stroke-width="1.60" fill="none"/>
<path d="M446.0 104.8v4.87" stroke="#e04820" stroke-width="1.60" fill="none"/>
<path d="M448.4 104.8v4.87" stroke="#e04018" stroke-width="1.60" fill="none"/>
<path d="M449.6 104.8v4.87" stroke="#e84820" stroke-width="1.60" fill="none"/>
<path d="M453.2 104.8v4.87" stroke="#f0e0e0" stroke-width="1.60" fill="none"/>
<path d="M454.4 104.8v4.87" stroke="#f0e0d8" stroke-width="1.60" fill="none"/>
<path d="M245.6 109.1v4.37M246.8 109.1v4.37M249.2 109.1v4.37M251.6 109.1v4.37M252.8 109.1v4.37M254.0 109.1v4.37M255.2 109.1v4.37M256.4 109.1v4.37M258.8 109.1v4.37M260.0 109.1v4.37M262.4 109.1v4.37M264.8 109.1v4.37M266.0 109.1v4.37M267.2 109.1v4.37M269.6 109.1v4.37M270.8 109.1v4.37M273.2 109.1v4.37M275.6 109.1v4.37M276.8 109.1v4.37M278.0 109.1v4.37M279.2 109.1v4.37M280.4 109.1v4.37M284.0 109.1v4.37M285.2 109.1v4.37M286.4 109.1v4.37M287.6 109.1v4.37M288.8 109.1v4.37M292.4 109.1v4.37M293.6 109.1v4.37M294.8 109.1v4.37M296.0 109.1v4.37M297.2 109.1v4.37M298.4 109.1v4.37M302.0 109.1v4.37M303.2 109.1v4.37M310.4 109.1v4.37M311.6 109.1v4.37M312.8 109.1v4.37M316.4 109.1v4.37M317.6 109.1v4.37M318.8 109.1v4.37M320.0 109.1v4.37M321.2 109.1v4.37M322.4 109.1v4.37M324.8 109.1v4.37M327.2 109.1v4.37M335.6 109.1v4.37M420.8 109.1v4.37M422.0 109.1v4.37M424.4 109.1v4.37M426.8 109.1v4.37M428.0 109.1v4.37M429.2 109.1v4.37M430.4 109.1v4.37M459.2 109.1v4.37M460.4 109.1v4.37M461.6 109.1v4.37" stroke="#f8f0e8" stroke-width="1.60" fill="none"/>
<path d="M248.0 109.1v4.37M257.6 109.1v4.37M272.0 109.1v4.37M274.4 109.1v4.37M290.0 109.1v4.37M306.8 109.1v4.37M328.4 109.1v4.37" stroke="#f0e8e0" stroke-width="1.60" fill="none"/>
<path d="M250.4 109.1v4.37M299.6 109.1v4.37M333.2 109.1v4.37M423.2 109.1v4.37" stroke="#e8e0d8" stroke-width="1.60" fill="none"/>
<path d="M261.2 109.1v4.37M263.6 109.1v4.37M268.4 109.1v4.37M300.8 109.1v4.37M309.2 109.1v4.37M326.0 109.1v4.37M329.6 109.1v4.37M330.8 109.1v4.37M332.0 109.1v4.37" stroke="#f8e8e0" stroke-width="1.60" fill="none"/>
<path d="M281.6 109.1v4.37M282.8 109.1v4.37M291.2 109.1v4.37M305.6 109.1v4.37M323.6 109.1v4.37M334.4 109.1v4.37" stroke="#f0e0e0" stroke-width="1.60" fill="none"/>
<path d="M304.4 109.1v4.37M308.0 109.1v4.37M314.0 109.1v4.37" stroke="#f0e0d8" stroke-width="1.60" fill="none"/>
<path d="M315.2 109.1v4.37M425.6 109.1v4.37" stroke="#f8e8e8" stroke-width="1.60" fill="none"/>
<path d="M336.8 109.1v4.37M384.8 109.1v4.37M402.8 109.1v4.37M411.2 109.1v4.37M418.4 109.1v4.37" stroke="#e0e0e8" stroke-width="1.60" fill="none"/>
<path d="M338.0 109.1v4.37M348.8 109.1v4.37M410.0 109.1v4.37" stroke="#e8e0f0" stroke-width="1.60" fill="none"/>
<path d="M339.2 109.1v4.37M344.0 109.1v4.37M346.4 109.1v4.37M347.6 109.1v4.37M351.2 109.1v4.37M352.4 109.1v4.37M386.0 109.1v4.37M387.2 109.1v4.37M388.4 109.1v4.37M389.6 109.1v4.37M392.0 109.1v4.37M393.2 109.1v4.37M394.4 109.1v4.37M395.6 109.1v4.37M396.8 109.1v4.37M398.0 109.1v4.37M399.2 109.1v4.37M400.4 109.1v4.37M404.0 109.1v4.37M405.2 109.1v4.37M406.4 109.1v4.37M407.6 109.1v4.37M412.4 109.1v4.37M416.0 109.1v4.37M417.2 109.1v4.37M419.6 109.1v4.37" stroke="#f0f0f8" stroke-width="1.60" fill="none"/>
<path d="M340.4 109.1v4.37M342.8 109.1v4.37" stroke="#e8e8f0" stroke-width="1.60" fill="none"/>
<path d="M341.6 109.1v4.37M353.6 109.1v4.37M401.6 109.1v4.37" stroke="#f0e8f0" stroke-width="1.60" fill="none"/>
<path d="M345.2 109.1v4.37M408.8 109.1v4.37M413.6 109.1v4.37M414.8 109.1v4.37" stroke="#e8e0e8" stroke-width="1.60" fill="none"/>
<path d="M350.0 109.1v4.37M390.8 109.1v4.37" stroke="#f0e8f8" stroke-width="1.60" fill="none"/>
<path d="M354.8 109.1v4.37M376.4 109.1v4.37" stroke="#c8c0e0" stroke-width="1.60" fill="none"/>
<path d="M356.0 109.1v4.37" stroke="#d0d0f0" stroke-width="1.60" fill="none"/>
<path d="M357.2 109.1v4.37M359.6 109.1v4.37M364.4 109.1v4.37M372.8 109.1v4.37M375.2 109.1v4.37M378.8 109.1v4.37" stroke="#d0c8e8" stroke-width="1.60" fill="none"/>
<path d="M358.4 109.1v4.37M362.0 109.1v4.37M363.2 109.1v4.37M366.8 109.1v4.37M368.0 109.1v4.37M370.4 109.1v4.37M371.6 109.1v4.37M374.0 109.1v4.37M377.6 109.1v4.37M380.0 109.1v4.37M381.2 109.1v4.37M382.4 109.1v4.37M383.6 109.1v4.37" stroke="#d8d0f0" stroke-width="1.60" fill="none"/>
<path d="M360.8 109.1v4.37M365.6 109.1v4.37" stroke="#d0d0e8" stroke-width="1.60" fill="none"/>
<path d="M369.2 109.1v4.37" stroke="#d0c8e0" stroke-width="1.60" fill="none"/>
<path d="M431.6 109.1v4.37M435.2 109.1v4.37" stroke="#a098d0" stroke-width="1.60" fill="none"/>
<path d="M432.8 109.1v4.37" stroke="#a8a0d8" stroke-width="1.60" fill="none"/>
<path d="M434.0 109.1v4.37" stroke="#a8a0e0" stroke-width="1.60" fill="none"/>
<path d="M436.4 109.1v4.37M442.4 109.1v4.37M449.6 109.1v4.37M452.0 109.1v4.37" stroke="#a090d8" stroke-width="1.60" fill="none"/>
<path d="M437.6 109.1v4.37M438.8 109.1v4.37M440.0 109.1v4.37M441.2 109.1v4.37M446.0 109.1v4.37M448.4 109.1v4.37" stroke="#9088d0" stroke-width="1.60" fill="none"/>
<path d="M443.6 109.1v4.37M444.8 109.1v4.37" stroke="#9888d0" stroke-width="1.60" fill="none"/>
<path d="M447.2 109.1v4.37" stroke="#9080c8" stroke-width="1.60" fill="none"/>
<path d="M450.8 109.1v4.37" stroke="#9890d8" stroke-width="1.60" fill="none"/>
<path d="M453.2 109.1v4.37M454.4 109.1v4.37" stroke="#b83838" stroke-width="1.60" fill="none"/>
<path d="M455.6 109.1v4.37" stroke="#b03030" stroke-width="1.60" fill="none"/>
<path d="M456.8 109.1v4.37M458.0 109.1v4.37" stroke="#c03838" stroke-width="1.60" fill="none"/>
<line x1="288.60" y1="39.2" x2="288.60" y2="113.49" stroke="#6e6e6e" stroke-width="0.42"/>
<line x1="319.00" y1="39.2" x2="319.00" y2="113.49" stroke="#6e6e6e" stroke-width="0.42"/>
<line x1="336.50" y1="39.2" x2="336.50" y2="113.49" stroke="#6e6e6e" stroke-width="0.42"/>
<line x1="350.80" y1="39.2" x2="350.80" y2="113.49" stroke="#6e6e6e" stroke-width="0.42"/>
<line x1="354.20" y1="39.2" x2="354.20" y2="113.49" stroke="#6e6e6e" stroke-width="0.42"/>
<line x1="384.00" y1="39.2" x2="384.00" y2="113.49" stroke="#6e6e6e" stroke-width="0.42"/>
<line x1="403.30" y1="39.2" x2="403.30" y2="113.49" stroke="#6e6e6e" stroke-width="0.42"/>
<line x1="407.20" y1="39.2" x2="407.20" y2="113.49" stroke="#6e6e6e" stroke-width="0.42"/>
<line x1="420.60" y1="39.2" x2="420.60" y2="113.49" stroke="#6e6e6e" stroke-width="0.42"/>
<line x1="426.50" y1="39.2" x2="426.50" y2="113.49" stroke="#6e6e6e" stroke-width="0.42"/>
<line x1="430.40" y1="39.2" x2="430.40" y2="113.49" stroke="#6e6e6e" stroke-width="0.42"/>
<line x1="435.20" y1="39.2" x2="435.20" y2="113.49" stroke="#6e6e6e" stroke-width="0.42"/>
<line x1="452.00" y1="39.2" x2="452.00" y2="113.49" stroke="#6e6e6e" stroke-width="0.42"/>
<line x1="454.40" y1="39.2" x2="454.40" y2="113.49" stroke="#6e6e6e" stroke-width="0.42"/>
<line x1="458.30" y1="39.2" x2="458.30" y2="113.49" stroke="#6e6e6e" stroke-width="0.42"/>
<line x1="460.7" y1="39.2" x2="460.7" y2="104.75" stroke="#2c2c70" stroke-width="0.8"/>
<text x="0" y="0" font-size="5.3" fill="#2a2a2a" stroke="#2a2a2a" stroke-width="0.06" text-anchor="end" transform="translate(242.40,43.05) scale(0.91,1)">Lepr-MSC</text>
<text x="0" y="0" font-size="5.3" fill="#2a2a2a" stroke="#2a2a2a" stroke-width="0.06" text-anchor="end" transform="translate(242.40,47.42) scale(0.91,1)">OLC 1</text>
<text x="0" y="0" font-size="5.3" fill="#2a2a2a" stroke="#2a2a2a" stroke-width="0.06" text-anchor="end" transform="translate(242.40,51.79) scale(0.91,1)">OLC 2</text>
<text x="0" y="0" font-size="5.3" fill="#2a2a2a" stroke="#2a2a2a" stroke-width="0.06" text-anchor="end" transform="translate(242.40,56.16) scale(0.91,1)">EC-sinusoidal</text>
<text x="0" y="0" font-size="5.3" fill="#2a2a2a" stroke="#2a2a2a" stroke-width="0.06" text-anchor="end" transform="translate(242.40,60.53) scale(0.91,1)">EC-arteriolar</text>
<text x="0" y="0" font-size="5.3" fill="#2a2a2a" stroke="#2a2a2a" stroke-width="0.06" text-anchor="end" transform="translate(242.40,64.90) scale(0.91,1)">EC-arterial</text>
<text x="0" y="0" font-size="5.3" fill="#2a2a2a" stroke="#2a2a2a" stroke-width="0.06" text-anchor="end" transform="translate(242.40,69.27) scale(0.91,1)">Fibro-1</text>
<text x="0" y="0" font-size="5.3" fill="#2a2a2a" stroke="#2a2a2a" stroke-width="0.06" text-anchor="end" transform="translate(242.40,73.64) scale(0.91,1)">Fibro-2</text>
<text x="0" y="0" font-size="5.3" fill="#2a2a2a" stroke="#2a2a2a" stroke-width="0.06" text-anchor="end" transform="translate(242.40,78.01) scale(0.91,1)">Fibro-3</text>
<text x="0" y="0" font-size="5.3" fill="#2a2a2a" stroke="#2a2a2a" stroke-width="0.06" text-anchor="end" transform="translate(242.40,82.38) scale(0.91,1)">Fibro-5</text>
<text x="0" y="0" font-size="5.3" fill="#2a2a2a" stroke="#2a2a2a" stroke-width="0.06" text-anchor="end" transform="translate(242.40,86.75) scale(0.91,1)">Fibro-4</text>
<text x="0" y="0" font-size="5.3" fill="#2a2a2a" stroke="#2a2a2a" stroke-width="0.06" text-anchor="end" transform="translate(242.40,91.12) scale(0.91,1)">Chondro-progen</text>
<text x="0" y="0" font-size="5.3" fill="#2a2a2a" stroke="#2a2a2a" stroke-width="0.06" text-anchor="end" transform="translate(242.40,95.49) scale(0.91,1)">Chondro</text>
<text x="0" y="0" font-size="5.3" fill="#2a2a2a" stroke="#2a2a2a" stroke-width="0.06" text-anchor="end" transform="translate(242.40,99.86) scale(0.91,1)">Chondro-prol rest</text>
<text x="0" y="0" font-size="5.3" fill="#2a2a2a" stroke="#2a2a2a" stroke-width="0.06" text-anchor="end" transform="translate(242.40,104.23) scale(0.91,1)">Chondro-hyper</text>
<text x="0" y="0" font-size="5.3" fill="#2a2a2a" stroke="#2a2a2a" stroke-width="0.06" text-anchor="end" transform="translate(242.40,108.60) scale(0.91,1)">Chondro-prehyper 2</text>
<text x="0" y="0" font-size="5.3" fill="#2a2a2a" stroke="#2a2a2a" stroke-width="0.06" text-anchor="end" transform="translate(242.40,112.97) scale(0.91,1)">Pericytes</text>
<path d="M245.6 126.0v5.20M252.8 126.0v5.20M257.6 126.0v5.20M315.2 126.0v5.20M320.0 126.0v5.20M326.0 126.0v5.20M328.4 126.0v5.20M348.8 126.0v5.20M371.6 126.0v5.20M376.4 126.0v5.20M400.4 126.0v5.20M401.6 126.0v5.20M407.6 126.0v5.20M425.6 126.0v5.20M449.6 126.0v5.20" stroke="#f0eaf0" stroke-width="1.60" fill="none"/>
<path d="M246.8 126.0v5.20M250.4 126.0v5.20M254.0 126.0v5.20M256.4 126.0v5.20M260.0 126.0v5.20M262.4 126.0v5.20M263.6 126.0v5.20M264.8 126.0v5.20M273.2 126.0v5.20M278.0 126.0v5.20M281.6 126.0v5.20M282.8 126.0v5.20M284.0 126.0v5.20M285.2 126.0v5.20M286.4 126.0v5.20M290.0 126.0v5.20M297.2 126.0v5.20M300.8 126.0v5.20M304.4 126.0v5.20M308.0 126.0v5.20M310.4 126.0v5.20M314.0 126.0v5.20M316.4 126.0v5.20M323.6 126.0v5.20M329.6 126.0v5.20M332.0 126.0v5.20M335.6 126.0v5.20M338.0 126.0v5.20M340.4 126.0v5.20M346.4 126.0v5.20M350.0 126.0v5.20M351.2 126.0v5.20M354.8 126.0v5.20M357.2 126.0v5.20M358.4 126.0v5.20M369.2 126.0v5.20M374.0 126.0v5.20M380.0 126.0v5.20M382.4 126.0v5.20M386.0 126.0v5.20M388.4 126.0v5.20M389.6 126.0v5.20M390.8 126.0v5.20M394.4 126.0v5.20M396.8 126.0v5.20M399.2 126.0v5.20M402.8 126.0v5.20M411.2 126.0v5.20M417.2 126.0v5.20M418.4 126.0v5.20M420.8 126.0v5.20M423.2 126.0v5.20M424.4 126.0v5.20M434.0 126.0v5.20M438.8 126.0v5.20M440.0 126.0v5.20M441.2 126.0v5.20M442.4 126.0v5.20M444.8 126.0v5.20M450.8 126.0v5.20M455.6 126.0v5.20M458.0 126.0v5.20M459.2 126.0v5.20M460.4 126.0v5.20" stroke="#f6f0f6" stroke-width="1.60" fill="none"/>
<path d="M248.0 126.0v5.20M288.8 126.0v5.20M293.6 126.0v5.20M312.8 126.0v5.20M330.8 126.0v5.20M365.6 126.0v5.20M426.8 126.0v5.20M429.2 126.0v5.20M431.6 126.0v5.20M443.6 126.0v5.20M456.8 126.0v5.20" stroke="#eae4ea" stroke-width="1.60" fill="none"/>
<path d="M249.2 126.0v5.20M267.2 126.0v5.20M269.6 126.0v5.20M275.6 126.0v5.20M280.4 126.0v5.20M292.4 126.0v5.20M298.4 126.0v5.20M303.2 126.0v5.20M318.8 126.0v5.20M321.2 126.0v5.20M324.8 126.0v5.20M342.8 126.0v5.20M344.0 126.0v5.20M345.2 126.0v5.20M352.4 126.0v5.20M356.0 126.0v5.20M363.2 126.0v5.20M364.4 126.0v5.20M366.8 126.0v5.20M370.4 126.0v5.20M372.8 126.0v5.20M406.4 126.0v5.20M408.8 126.0v5.20M410.0 126.0v5.20M414.8 126.0v5.20M432.8 126.0v5.20M435.2 126.0v5.20M437.6 126.0v5.20M453.2 126.0v5.20" stroke="#f6f0fc" stroke-width="1.60" fill="none"/>
<path d="M251.6 126.0v5.20M270.8 126.0v5.20M274.4 126.0v5.20M276.8 126.0v5.20M294.8 126.0v5.20M296.0 126.0v5.20M306.8 126.0v5.20M309.2 126.0v5.20M333.2 126.0v5.20M339.2 126.0v5.20M353.6 126.0v5.20M359.6 126.0v5.20M375.2 126.0v5.20M384.8 126.0v5.20M387.2 126.0v5.20M395.6 126.0v5.20M413.6 126.0v5.20M416.0 126.0v5.20M419.6 126.0v5.20M454.4 126.0v5.20M461.6 126.0v5.20" stroke="#e4dee4" stroke-width="1.60" fill="none"/>
<path d="M255.2 126.0v5.20M266.0 126.0v5.20M268.4 126.0v5.20M272.0 126.0v5.20M299.6 126.0v5.20M334.4 126.0v5.20M336.8 126.0v5.20M377.6 126.0v5.20M392.0 126.0v5.20M428.0 126.0v5.20" stroke="#f0f0f6" stroke-width="1.60" fill="none"/>
<path d="M258.8 126.0v5.20M302.0 126.0v5.20M362.0 126.0v5.20M378.8 126.0v5.20M447.2 126.0v5.20" stroke="#eae4f0" stroke-width="1.60" fill="none"/>
<path d="M261.2 126.0v5.20M287.6 126.0v5.20M311.6 126.0v5.20M347.6 126.0v5.20M383.6 126.0v5.20M452.0 126.0v5.20" stroke="#eaeaf0" stroke-width="1.60" fill="none"/>
<path d="M279.2 126.0v5.20M291.2 126.0v5.20M305.6 126.0v5.20M317.6 126.0v5.20M322.4 126.0v5.20M360.8 126.0v5.20M381.2 126.0v5.20M398.0 126.0v5.20M404.0 126.0v5.20M405.2 126.0v5.20M412.4 126.0v5.20M422.0 126.0v5.20M446.0 126.0v5.20" stroke="#e4e4ea" stroke-width="1.60" fill="none"/>
<path d="M327.2 126.0v5.20M368.0 126.0v5.20M393.2 126.0v5.20M436.4 126.0v5.20M448.4 126.0v5.20" stroke="#dedee4" stroke-width="1.60" fill="none"/>
<path d="M341.6 126.0v5.20M430.4 126.0v5.20" stroke="#e4e4e4" stroke-width="1.60" fill="none"/>
<text x="0" y="0" font-size="5.3" fill="#2a2a2a" stroke="#2a2a2a" stroke-width="0.06" text-anchor="end" transform="translate(242.40,130.00) scale(0.91,1)">S.Score</text>
<path d="M245.6 130.7v4.70M264.8 130.7v4.70M273.2 130.7v4.70M314.0 130.7v4.70M322.4 130.7v4.70M324.8 130.7v4.70M328.4 130.7v4.70M366.8 130.7v4.70M369.2 130.7v4.70M381.2 130.7v4.70M384.8 130.7v4.70M406.4 130.7v4.70M460.4 130.7v4.70" stroke="#ded8ea" stroke-width="1.60" fill="none"/>
<path d="M246.8 130.7v4.70M248.0 130.7v4.70M250.4 130.7v4.70M251.6 130.7v4.70M252.8 130.7v4.70M255.2 130.7v4.70M257.6 130.7v4.70M260.0 130.7v4.70M266.0 130.7v4.70M267.2 130.7v4.70M275.6 130.7v4.70M276.8 130.7v4.70M278.0 130.7v4.70M280.4 130.7v4.70M281.6 130.7v4.70M282.8 130.7v4.70M284.0 130.7v4.70M285.2 130.7v4.70M287.6 130.7v4.70M288.8 130.7v4.70M290.0 130.7v4.70M292.4 130.7v4.70M296.0 130.7v4.70M297.2 130.7v4.70M298.4 130.7v4.70M300.8 130.7v4.70M302.0 130.7v4.70M303.2 130.7v4.70M304.4 130.7v4.70M305.6 130.7v4.70M306.8 130.7v4.70M308.0 130.7v4.70M310.4 130.7v4.70M311.6 130.7v4.70M312.8 130.7v4.70M315.2 130.7v4.70M316.4 130.7v4.70M317.6 130.7v4.70M320.0 130.7v4.70M321.2 130.7v4.70M323.6 130.7v4.70M329.6 130.7v4.70M330.8 130.7v4.70M332.0 130.7v4.70M333.2 130.7v4.70M335.6 130.7v4.70M336.8 130.7v4.70M338.0 130.7v4.70M339.2 130.7v4.70M340.4 130.7v4.70M344.0 130.7v4.70M345.2 130.7v4.70M347.6 130.7v4.70M348.8 130.7v4.70M350.0 130.7v4.70M352.4 130.7v4.70M356.0 130.7v4.70M358.4 130.7v4.70M364.4 130.7v4.70M365.6 130.7v4.70M370.4 130.7v4.70M372.8 130.7v4.70M374.0 130.7v4.70M376.4 130.7v4.70M378.8 130.7v4.70M382.4 130.7v4.70M386.0 130.7v4.70M387.2 130.7v4.70M388.4 130.7v4.70M390.8 130.7v4.70M392.0 130.7v4.70M393.2 130.7v4.70M394.4 130.7v4.70M396.8 130.7v4.70M399.2 130.7v4.70M402.8 130.7v4.70M405.2 130.7v4.70M410.0 130.7v4.70M411.2 130.7v4.70M412.4 130.7v4.70M414.8 130.7v4.70M416.0 130.7v4.70M417.2 130.7v4.70M419.6 130.7v4.70M422.0 130.7v4.70M424.4 130.7v4.70M425.6 130.7v4.70M428.0 130.7v4.70M429.2 130.7v4.70M430.4 130.7v4.70M431.6 130.7v4.70M434.0 130.7v4.70M436.4 130.7v4.70M437.6 130.7v4.70M438.8 130.7v4.70M441.2 130.7v4.70M442.4 130.7v4.70M443.6 130.7v4.70M444.8 130.7v4.70M449.6 130.7v4.70M450.8 130.7v4.70M453.2 130.7v4.70M454.4 130.7v4.70M458.0 130.7v4.70M459.2 130.7v4.70M461.6 130.7v4.70" stroke="#eae4f6" stroke-width="1.60" fill="none"/>
<path d="M249.2 130.7v4.70M377.6 130.7v4.70M446.0 130.7v4.70" stroke="#d8ccde" stroke-width="1.60" fill="none"/>
<path d="M254.0 130.7v4.70M256.4 130.7v4.70M261.2 130.7v4.70M262.4 130.7v4.70M269.6 130.7v4.70M293.6 130.7v4.70M309.2 130.7v4.70M327.2 130.7v4.70M334.4 130.7v4.70M341.6 130.7v4.70M357.2 130.7v4.70M359.6 130.7v4.70M363.2 130.7v4.70M371.6 130.7v4.70M383.6 130.7v4.70M389.6 130.7v4.70M404.0 130.7v4.70M407.6 130.7v4.70M413.6 130.7v4.70M420.8 130.7v4.70M423.2 130.7v4.70M426.8 130.7v4.70M432.8 130.7v4.70M440.0 130.7v4.70M456.8 130.7v4.70" stroke="#e4def0" stroke-width="1.60" fill="none"/>
<path d="M258.8 130.7v4.70M351.2 130.7v4.70M353.6 130.7v4.70M400.4 130.7v4.70" stroke="#d2ccde" stroke-width="1.60" fill="none"/>
<path d="M263.6 130.7v4.70M268.4 130.7v4.70M270.8 130.7v4.70M291.2 130.7v4.70M294.8 130.7v4.70M299.6 130.7v4.70M318.8 130.7v4.70M342.8 130.7v4.70M354.8 130.7v4.70M368.0 130.7v4.70M375.2 130.7v4.70M398.0 130.7v4.70M408.8 130.7v4.70M418.4 130.7v4.70M435.2 130.7v4.70M448.4 130.7v4.70M452.0 130.7v4.70" stroke="#d8d2e4" stroke-width="1.60" fill="none"/>
<path d="M272.0 130.7v4.70M286.4 130.7v4.70M326.0 130.7v4.70M380.0 130.7v4.70M395.6 130.7v4.70M401.6 130.7v4.70" stroke="#d8d8e4" stroke-width="1.60" fill="none"/>
<path d="M274.4 130.7v4.70M346.4 130.7v4.70M360.8 130.7v4.70" stroke="#e4d8f0" stroke-width="1.60" fill="none"/>
<path d="M279.2 130.7v4.70" stroke="#e4e4f0" stroke-width="1.60" fill="none"/>
<path d="M362.0 130.7v4.70" stroke="#ded8e4" stroke-width="1.60" fill="none"/>
<path d="M447.2 130.7v4.70" stroke="#e4d8ea" stroke-width="1.60" fill="none"/>
<path d="M455.6 130.7v4.70" stroke="#d8d2de" stroke-width="1.60" fill="none"/>
<text x="0" y="0" font-size="5.3" fill="#2a2a2a" stroke="#2a2a2a" stroke-width="0.06" text-anchor="end" transform="translate(242.40,134.70) scale(0.91,1)">G2M.Score</text>
<rect x="458.50" y="126.00" width="3.30" height="9.40" fill="#e8b4b0" />
<line x1="288.60" y1="126.0" x2="288.60" y2="135.40" stroke="#8a8a8a" stroke-width="0.45"/>
<line x1="319.00" y1="126.0" x2="319.00" y2="135.40" stroke="#8a8a8a" stroke-width="0.45"/>
<line x1="336.50" y1="126.0" x2="336.50" y2="135.40" stroke="#8a8a8a" stroke-width="0.45"/>
<line x1="350.80" y1="126.0" x2="350.80" y2="135.40" stroke="#8a8a8a" stroke-width="0.45"/>
<line x1="354.20" y1="126.0" x2="354.20" y2="135.40" stroke="#8a8a8a" stroke-width="0.45"/>
<line x1="384.00" y1="126.0" x2="384.00" y2="135.40" stroke="#8a8a8a" stroke-width="0.45"/>
<line x1="403.30" y1="126.0" x2="403.30" y2="135.40" stroke="#8a8a8a" stroke-width="0.45"/>
<line x1="407.20" y1="126.0" x2="407.20" y2="135.40" stroke="#8a8a8a" stroke-width="0.45"/>
<line x1="420.60" y1="126.0" x2="420.60" y2="135.40" stroke="#8a8a8a" stroke-width="0.45"/>
<line x1="426.50" y1="126.0" x2="426.50" y2="135.40" stroke="#8a8a8a" stroke-width="0.45"/>
<line x1="430.40" y1="126.0" x2="430.40" y2="135.40" stroke="#8a8a8a" stroke-width="0.45"/>
<line x1="435.20" y1="126.0" x2="435.20" y2="135.40" stroke="#8a8a8a" stroke-width="0.45"/>
<line x1="452.00" y1="126.0" x2="452.00" y2="135.40" stroke="#8a8a8a" stroke-width="0.45"/>
<line x1="454.40" y1="126.0" x2="454.40" y2="135.40" stroke="#8a8a8a" stroke-width="0.45"/>
<line x1="458.30" y1="126.0" x2="458.30" y2="135.40" stroke="#8a8a8a" stroke-width="0.45"/>
<line x1="344.60" y1="126.0" x2="344.60" y2="135.40" stroke="#8a8a8a" stroke-width="0.45"/>
<line x1="407.20" y1="126.0" x2="407.20" y2="135.40" stroke="#8a8a8a" stroke-width="0.45"/>
<line x1="423.00" y1="126.0" x2="423.00" y2="135.40" stroke="#8a8a8a" stroke-width="0.45"/>
<line x1="427.00" y1="126.0" x2="427.00" y2="135.40" stroke="#8a8a8a" stroke-width="0.45"/>
<text x="266.5" y="34.8" font-size="4.3" fill="#444" stroke="#444" stroke-width="0.05" text-anchor="middle" >0</text>
<text x="303.8" y="34.8" font-size="4.3" fill="#444" stroke="#444" stroke-width="0.05" text-anchor="middle" >1</text>
<text x="327.9" y="34.8" font-size="4.3" fill="#444" stroke="#444" stroke-width="0.05" text-anchor="middle" >4</text>
<text x="343.7" y="34.8" font-size="4.3" fill="#444" stroke="#444" stroke-width="0.05" text-anchor="middle" >8</text>
<text x="352.8" y="34.8" font-size="4.3" fill="#444" stroke="#444" stroke-width="0.05" text-anchor="middle" >13</text>
<text x="369.0" y="34.8" font-size="4.3" fill="#444" stroke="#444" stroke-width="0.05" text-anchor="middle" >2</text>
<text x="394.3" y="34.8" font-size="4.3" fill="#444" stroke="#444" stroke-width="0.05" text-anchor="middle" >3</text>
<text x="405.5" y="34.8" font-size="4.3" fill="#444" stroke="#444" stroke-width="0.05" text-anchor="middle" >10</text>
<text x="414.0" y="34.8" font-size="4.3" fill="#444" stroke="#444" stroke-width="0.05" text-anchor="middle" >7</text>
<text x="423.7" y="34.8" font-size="4.3" fill="#444" stroke="#444" stroke-width="0.05" text-anchor="middle" >6</text>
<text x="428.4" y="34.8" font-size="4.3" fill="#444" stroke="#444" stroke-width="0.05" text-anchor="middle" >12</text>
<text x="433.3" y="34.8" font-size="4.3" fill="#444" stroke="#444" stroke-width="0.05" text-anchor="middle" >9</text>
<text x="443.4" y="34.8" font-size="4.3" fill="#444" stroke="#444" stroke-width="0.05" text-anchor="middle" >5</text>
<text x="452.6" y="34.8" font-size="4.3" fill="#444" stroke="#444" stroke-width="0.05" text-anchor="middle" >14</text>
<text x="456.2" y="34.8" font-size="4.3" fill="#444" stroke="#444" stroke-width="0.05" text-anchor="middle" >11</text>
<text x="460.4" y="34.8" font-size="4.3" fill="#444" stroke="#444" stroke-width="0.05" text-anchor="middle" >15</text>
<path d="M245.3,30.4 Q246.3,28.4 250.3,28.4 L286.5,28.4 Q288.9,28.4 289.5,25.2 Q290.1,28.4 292.5,28.4 L331.8,28.4 Q335.8,28.4 336.8,30.4" stroke="#c8203c" stroke-width="0.8" fill="none"/>
<path d="M337.4,30.4 Q338.4,28.4 342.4,28.4 L342.5,28.4 Q344.9,28.4 345.5,25.2 Q346.1,28.4 348.5,28.4 L349.2,28.4 Q353.2,28.4 354.2,30.4" stroke="#f0a030" stroke-width="0.8" fill="none"/>
<path d="M354.8,30.4 Q355.8,28.4 359.8,28.4 L384.0,28.4 Q386.4,28.4 387.0,25.2 Q387.6,28.4 390.0,28.4 L414.6,28.4 Q418.6,28.4 419.6,30.4" stroke="#3faa4e" stroke-width="0.8" fill="none"/>
<path d="M420.4,30.4 Q421.4,28.4 425.4,28.4 L434.6,28.4 Q437.0,28.4 437.6,25.2 Q438.20000000000005,28.4 440.6,28.4 L450.2,28.4 Q454.2,28.4 455.2,30.4" stroke="#3d5a8a" stroke-width="0.8" fill="none"/>
<text x="0" y="0" font-size="6.2" fill="#c8203c" stroke="#c8203c" stroke-width="0.1" text-anchor="middle" font-weight="bold" transform="translate(290.80,22.60) scale(0.95,1)">LepR+ MSCs</text>
<text x="0" y="0" font-size="6.2" fill="#f0a030" stroke="#f0a030" stroke-width="0.1" text-anchor="middle" font-weight="bold" transform="translate(345.60,22.60) scale(0.9,1)">OLC</text>
<text x="0" y="0" font-size="6.2" fill="#3faa4e" stroke="#3faa4e" stroke-width="0.1" text-anchor="middle" font-weight="bold" transform="translate(387.20,22.60) scale(0.92,1)">Endothelial cells</text>
<text x="0" y="0" font-size="6.1" fill="#2d4a7c" stroke="#2d4a7c" stroke-width="0.1" text-anchor="middle" font-weight="bold" transform="translate(437.50,15.00) scale(0.92,1)">Chondrocytes</text>
<text x="0" y="0" font-size="6.1" fill="#2d4a7c" stroke="#2d4a7c" stroke-width="0.1" text-anchor="middle" font-weight="bold" transform="translate(437.50,22.40) scale(0.93,1)">Fibroblasts</text>
<defs><linearGradient id="gA" x1="0" y1="0" x2="0" y2="1"><stop offset="0" stop-color="#d42a18"/><stop offset="0.3" stop-color="#e64418"/><stop offset="0.5" stop-color="#ee6a3a"/><stop offset="0.63" stop-color="#f5a688"/><stop offset="0.74" stop-color="#fbe2da"/><stop offset="0.8" stop-color="#ffffff"/><stop offset="0.86" stop-color="#8a88cc"/><stop offset="0.91" stop-color="#2c2c9c"/><stop offset="1" stop-color="#24249a"/></linearGradient></defs>
<rect x="468.50" y="46.20" width="8.80" height="39.40" fill="url(#gA)" />
<text x="469.2" y="43.8" font-size="5.4" fill="#333" stroke="#333" stroke-width="0.22" text-anchor="start" >Score</text>
<text x="479.2" y="55.0" font-size="5.4" fill="#333" stroke="#333" stroke-width="0.22" text-anchor="start" >2</text>
<text x="479.2" y="67.0" font-size="5.4" fill="#333" stroke="#333" stroke-width="0.22" text-anchor="start" >1</text>
<text x="479.2" y="78.2" font-size="5.4" fill="#333" stroke="#333" stroke-width="0.22" text-anchor="start" >0</text>
<rect x="50.40" y="223.50" width="5.75" height="56.10" fill="#c9691d" />
<rect x="50.40" y="279.60" width="5.75" height="1.40" fill="#8cc25a" />
<rect x="50.40" y="281.00" width="5.75" height="1.20" fill="#16976a" />
<rect x="56.70" y="223.50" width="5.75" height="4.50" fill="#c9691d" />
<rect x="56.70" y="228.00" width="5.75" height="36.00" fill="#5f63b6" />
<rect x="56.70" y="264.00" width="5.75" height="15.60" fill="#8cc25a" />
<rect x="56.70" y="279.60" width="5.75" height="2.60" fill="#16976a" />
<rect x="63.00" y="223.50" width="5.75" height="1.50" fill="#c9691d" />
<rect x="63.00" y="225.00" width="5.75" height="22.30" fill="#8cc25a" />
<rect x="63.00" y="247.30" width="5.75" height="34.90" fill="#16976a" />
<rect x="69.30" y="223.50" width="5.75" height="22.80" fill="#c9691d" />
<rect x="69.30" y="246.30" width="5.75" height="18.20" fill="#5f63b6" />
<rect x="69.30" y="264.50" width="5.75" height="15.10" fill="#8cc25a" />
<rect x="69.30" y="279.60" width="5.75" height="2.60" fill="#16976a" />
<rect x="75.60" y="223.50" width="5.75" height="1.00" fill="#c9691d" />
<rect x="75.60" y="224.50" width="5.75" height="10.70" fill="#5f63b6" />
<rect x="75.60" y="235.20" width="5.75" height="15.10" fill="#8cc25a" />
<rect x="75.60" y="250.30" width="5.75" height="31.90" fill="#16976a" />
<rect x="81.90" y="223.50" width="5.75" height="2.50" fill="#c9691d" />
<rect x="81.90" y="226.00" width="5.75" height="5.70" fill="#5f63b6" />
<rect x="81.90" y="231.70" width="5.75" height="24.00" fill="#8cc25a" />
<rect x="81.90" y="255.70" width="5.75" height="26.50" fill="#16976a" />
<rect x="88.20" y="223.50" width="5.75" height="8.60" fill="#c9691d" />
<rect x="88.20" y="232.10" width="5.75" height="18.20" fill="#5f63b6" />
<rect x="88.20" y="250.30" width="5.75" height="7.30" fill="#8cc25a" />
<rect x="88.20" y="257.60" width="5.75" height="24.60" fill="#16976a" />
<rect x="94.50" y="223.50" width="5.75" height="3.60" fill="#c9691d" />
<rect x="94.50" y="227.10" width="5.75" height="15.10" fill="#5f63b6" />
<rect x="94.50" y="242.20" width="5.75" height="10.50" fill="#8cc25a" />
<rect x="94.50" y="252.70" width="5.75" height="29.50" fill="#16976a" />
<rect x="100.80" y="223.50" width="5.75" height="7.60" fill="#c9691d" />
<rect x="100.80" y="231.10" width="5.75" height="17.20" fill="#5f63b6" />
<rect x="100.80" y="248.30" width="5.75" height="7.30" fill="#8cc25a" />
<rect x="100.80" y="255.60" width="5.75" height="26.60" fill="#16976a" />
<rect x="107.10" y="223.50" width="5.75" height="9.70" fill="#c9691d" />
<rect x="107.10" y="233.20" width="5.75" height="18.10" fill="#5f63b6" />
<rect x="107.10" y="251.30" width="5.75" height="20.50" fill="#8cc25a" />
<rect x="107.10" y="271.80" width="5.75" height="10.40" fill="#16976a" />
<rect x="113.40" y="223.50" width="5.75" height="3.60" fill="#c9691d" />
<rect x="113.40" y="227.10" width="5.75" height="22.20" fill="#5f63b6" />
<rect x="113.40" y="249.30" width="5.75" height="14.00" fill="#8cc25a" />
<rect x="113.40" y="263.30" width="5.75" height="18.90" fill="#16976a" />
<rect x="119.70" y="223.50" width="5.75" height="3.60" fill="#c9691d" />
<rect x="119.70" y="227.10" width="5.75" height="10.10" fill="#5f63b6" />
<rect x="119.70" y="237.20" width="5.75" height="19.40" fill="#8cc25a" />
<rect x="119.70" y="256.60" width="5.75" height="25.60" fill="#16976a" />
<rect x="126.00" y="223.50" width="5.75" height="3.60" fill="#c9691d" />
<rect x="126.00" y="227.10" width="5.75" height="10.10" fill="#5f63b6" />
<rect x="126.00" y="237.20" width="5.75" height="27.80" fill="#8cc25a" />
<rect x="126.00" y="265.00" width="5.75" height="17.20" fill="#16976a" />
<rect x="132.30" y="223.50" width="5.75" height="2.20" fill="#c9691d" />
<rect x="132.30" y="225.70" width="5.75" height="22.20" fill="#5f63b6" />
<rect x="132.30" y="247.90" width="5.75" height="22.40" fill="#8cc25a" />
<rect x="132.30" y="270.30" width="5.75" height="11.90" fill="#16976a" />
<rect x="138.60" y="223.50" width="5.75" height="3.60" fill="#c9691d" />
<rect x="138.60" y="227.10" width="5.75" height="13.10" fill="#5f63b6" />
<rect x="138.60" y="240.20" width="5.75" height="16.40" fill="#8cc25a" />
<rect x="138.60" y="256.60" width="5.75" height="25.60" fill="#16976a" />
<rect x="144.90" y="223.50" width="5.75" height="6.60" fill="#c9691d" />
<rect x="144.90" y="230.10" width="5.75" height="20.20" fill="#5f63b6" />
<rect x="144.90" y="250.30" width="5.75" height="14.70" fill="#8cc25a" />
<rect x="144.90" y="265.00" width="5.75" height="17.20" fill="#16976a" />
<rect x="151.20" y="223.50" width="5.75" height="10.80" fill="#c9691d" />
<rect x="151.20" y="234.30" width="5.75" height="16.10" fill="#5f63b6" />
<rect x="151.20" y="250.40" width="5.75" height="16.00" fill="#8cc25a" />
<rect x="151.20" y="266.40" width="5.75" height="15.80" fill="#16976a" />
<rect x="50.40" y="211.80" width="6.90" height="6.00" fill="#fde725" />
<rect x="56.70" y="211.80" width="6.90" height="6.00" fill="#1f9a8a" />
<rect x="63.00" y="211.80" width="6.90" height="6.00" fill="#21918c" />
<rect x="69.30" y="211.80" width="6.90" height="6.00" fill="#23888e" />
<rect x="75.60" y="211.80" width="6.90" height="6.00" fill="#277f8e" />
<rect x="81.90" y="211.80" width="6.90" height="6.00" fill="#2c728e" />
<rect x="88.20" y="211.80" width="6.90" height="6.00" fill="#33638d" />
<rect x="94.50" y="211.80" width="6.90" height="6.00" fill="#3f4a8a" />
<rect x="100.80" y="211.80" width="6.90" height="6.00" fill="#4a2f80" />
<rect x="107.10" y="211.80" width="6.90" height="6.00" fill="#4e2680" />
<rect x="113.40" y="211.80" width="6.90" height="6.00" fill="#50227e" />
<rect x="119.70" y="211.80" width="6.90" height="6.00" fill="#511e7c" />
<rect x="126.00" y="211.80" width="6.90" height="6.00" fill="#511c7a" />
<rect x="132.30" y="211.80" width="6.90" height="6.00" fill="#501a78" />
<rect x="138.60" y="211.80" width="6.90" height="6.00" fill="#4f1876" />
<rect x="144.90" y="211.80" width="6.30" height="6.00" fill="#4e1674" />
<defs><linearGradient id="gV" x1="0" y1="0" x2="1" y2="0"><stop offset="0" stop-color="#3f1a6e"/><stop offset="0.12" stop-color="#3b3f88"/><stop offset="0.3" stop-color="#2a6e96"/><stop offset="0.5" stop-color="#1f8c8c"/><stop offset="0.68" stop-color="#2aa07a"/><stop offset="0.84" stop-color="#80c84e"/><stop offset="1" stop-color="#e8e428"/></linearGradient></defs>
<rect x="85.00" y="194.60" width="40.00" height="7.80" fill="url(#gV)" />
<text x="96.6" y="209.4" font-size="6.0" fill="#333" stroke="#333" stroke-width="0.1" text-anchor="middle" >20</text>
<text x="110.4" y="209.4" font-size="6.0" fill="#333" stroke="#333" stroke-width="0.1" text-anchor="middle" >40</text>
<text x="123.6" y="209.4" font-size="6.0" fill="#333" stroke="#333" stroke-width="0.1" text-anchor="middle" >60</text>
<text x="0" y="0" font-size="5.8" fill="#2a2a2a" stroke="#2a2a2a" stroke-width="0.08" text-anchor="start" transform="translate(37.60,190.00) scale(0.97,1)">Maximum residual</text>
<text x="0" y="0" font-size="5.8" fill="#2a2a2a" stroke="#2a2a2a" stroke-width="0.08" text-anchor="start" transform="translate(37.60,195.80) scale(0.97,1)">(chisq.test)</text>
<line x1="49.4" y1="223.0" x2="49.4" y2="283.4" stroke="#222" stroke-width="0.9"/>
<line x1="49.0" y1="283.09999999999997" x2="157.6" y2="283.09999999999997" stroke="#222" stroke-width="0.9"/>
<line x1="47.2" y1="223.50" x2="49.4" y2="223.50" stroke="#222" stroke-width="0.8"/>
<text x="46.0" y="225.6" font-size="6.0" fill="#333" stroke="#333" stroke-width="0.22" text-anchor="end" >100</text>
<line x1="47.2" y1="238.18" x2="49.4" y2="238.18" stroke="#222" stroke-width="0.8"/>
<text x="46.0" y="240.275" font-size="6.0" fill="#333" stroke="#333" stroke-width="0.22" text-anchor="end" >75</text>
<line x1="47.2" y1="252.85" x2="49.4" y2="252.85" stroke="#222" stroke-width="0.8"/>
<text x="46.0" y="254.95" font-size="6.0" fill="#333" stroke="#333" stroke-width="0.22" text-anchor="end" >50</text>
<line x1="47.2" y1="267.52" x2="49.4" y2="267.52" stroke="#222" stroke-width="0.8"/>
<text x="46.0" y="269.625" font-size="6.0" fill="#333" stroke="#333" stroke-width="0.22" text-anchor="end" >25</text>
<line x1="47.2" y1="282.20" x2="49.4" y2="282.20" stroke="#222" stroke-width="0.8"/>
<text x="46.0" y="284.3" font-size="6.0" fill="#333" stroke="#333" stroke-width="0.22" text-anchor="end" >0</text>
<line x1="53.27" y1="283.09999999999997" x2="53.27" y2="285.2" stroke="#222" stroke-width="0.7"/>
<line x1="59.57" y1="283.09999999999997" x2="59.57" y2="285.2" stroke="#222" stroke-width="0.7"/>
<line x1="65.88" y1="283.09999999999997" x2="65.88" y2="285.2" stroke="#222" stroke-width="0.7"/>
<line x1="72.17" y1="283.09999999999997" x2="72.17" y2="285.2" stroke="#222" stroke-width="0.7"/>
<line x1="78.47" y1="283.09999999999997" x2="78.47" y2="285.2" stroke="#222" stroke-width="0.7"/>
<line x1="84.78" y1="283.09999999999997" x2="84.78" y2="285.2" stroke="#222" stroke-width="0.7"/>
<line x1="91.07" y1="283.09999999999997" x2="91.07" y2="285.2" stroke="#222" stroke-width="0.7"/>
<line x1="97.38" y1="283.09999999999997" x2="97.38" y2="285.2" stroke="#222" stroke-width="0.7"/>
<line x1="103.67" y1="283.09999999999997" x2="103.67" y2="285.2" stroke="#222" stroke-width="0.7"/>
<line x1="109.97" y1="283.09999999999997" x2="109.97" y2="285.2" stroke="#222" stroke-width="0.7"/>
<line x1="116.28" y1="283.09999999999997" x2="116.28" y2="285.2" stroke="#222" stroke-width="0.7"/>
<line x1="122.57" y1="283.09999999999997" x2="122.57" y2="285.2" stroke="#222" stroke-width="0.7"/>
<line x1="128.88" y1="283.09999999999997" x2="128.88" y2="285.2" stroke="#222" stroke-width="0.7"/>
<line x1="135.17" y1="283.09999999999997" x2="135.17" y2="285.2" stroke="#222" stroke-width="0.7"/>
<line x1="141.47" y1="283.09999999999997" x2="141.47" y2="285.2" stroke="#222" stroke-width="0.7"/>
<line x1="147.78" y1="283.09999999999997" x2="147.78" y2="285.2" stroke="#222" stroke-width="0.7"/>
<line x1="154.07" y1="283.09999999999997" x2="154.07" y2="285.2" stroke="#222" stroke-width="0.7"/>
<text x="0" y="0" font-size="5.8" fill="#333" stroke="#333" stroke-width="0.15" text-anchor="end" transform="translate(55.67,291.2) rotate(-45)">4</text>
<text x="0" y="0" font-size="5.8" fill="#333" stroke="#333" stroke-width="0.15" text-anchor="end" transform="translate(61.97,291.2) rotate(-45)">0</text>
<text x="0" y="0" font-size="5.8" fill="#333" stroke="#333" stroke-width="0.15" text-anchor="end" transform="translate(68.28,291.2) rotate(-45)">1</text>
<text x="0" y="0" font-size="5.8" fill="#333" stroke="#333" stroke-width="0.15" text-anchor="end" transform="translate(74.58,291.2) rotate(-45)">2</text>
<text x="0" y="0" font-size="5.8" fill="#333" stroke="#333" stroke-width="0.15" text-anchor="end" transform="translate(80.88,291.2) rotate(-45)">6</text>
<text x="0" y="0" font-size="5.8" fill="#333" stroke="#333" stroke-width="0.15" text-anchor="end" transform="translate(87.18,291.2) rotate(-45)">3</text>
<text x="0" y="0" font-size="5.8" fill="#333" stroke="#333" stroke-width="0.15" text-anchor="end" transform="translate(93.47,291.2) rotate(-45)">7</text>
<text x="0" y="0" font-size="5.8" fill="#333" stroke="#333" stroke-width="0.15" text-anchor="end" transform="translate(99.78,291.2) rotate(-45)">11</text>
<text x="0" y="0" font-size="5.8" fill="#333" stroke="#333" stroke-width="0.15" text-anchor="end" transform="translate(106.08,291.2) rotate(-45)">10</text>
<text x="0" y="0" font-size="5.8" fill="#333" stroke="#333" stroke-width="0.15" text-anchor="end" transform="translate(112.38,291.2) rotate(-45)">6</text>
<text x="0" y="0" font-size="5.8" fill="#333" stroke="#333" stroke-width="0.15" text-anchor="end" transform="translate(118.68,291.2) rotate(-45)">8</text>
<text x="0" y="0" font-size="5.8" fill="#333" stroke="#333" stroke-width="0.15" text-anchor="end" transform="translate(124.97,291.2) rotate(-45)">13</text>
<text x="0" y="0" font-size="5.8" fill="#333" stroke="#333" stroke-width="0.15" text-anchor="end" transform="translate(131.28,291.2) rotate(-45)">15</text>
<text x="0" y="0" font-size="5.8" fill="#333" stroke="#333" stroke-width="0.15" text-anchor="end" transform="translate(137.57,291.2) rotate(-45)">9</text>
<text x="0" y="0" font-size="5.8" fill="#333" stroke="#333" stroke-width="0.15" text-anchor="end" transform="translate(143.88,291.2) rotate(-45)">14</text>
<text x="0" y="0" font-size="5.8" fill="#333" stroke="#333" stroke-width="0.15" text-anchor="end" transform="translate(150.18,291.2) rotate(-45)">12</text>
<text x="0" y="0" font-size="5.8" fill="#333" stroke="#333" stroke-width="0.15" text-anchor="end" transform="translate(156.47,291.2) rotate(-45)">All cells</text>
<text x="0" y="0" font-size="7.1" fill="#222" stroke="#222" stroke-width="0.22" text-anchor="middle" transform="translate(13.40,252.90) rotate(-90) scale(0.79,1)">Percentage of cells from the</text>
<text x="0" y="0" font-size="7.1" fill="#222" stroke="#222" stroke-width="0.22" text-anchor="middle" transform="translate(21.50,252.90) rotate(-90) scale(0.79,1)">different experimental</text>
<text x="0" y="0" font-size="7.1" fill="#222" stroke="#222" stroke-width="0.22" text-anchor="middle" transform="translate(29.60,252.90) rotate(-90) scale(0.79,1)">conditions in each cluster</text>
<text x="0" y="0" font-size="8.2" fill="#222" stroke="#222" stroke-width="0.22" text-anchor="middle" transform="translate(103.90,318.70) scale(0.63,1)">Clusters</text>
<rect x="59.80" y="324.20" width="5.30" height="4.90" fill="#c9691d" />
<text x="0" y="0" font-size="6.6" fill="#262626" stroke="#262626" stroke-width="0.22" text-anchor="start" transform="translate(68.40,328.90) scale(0.83,1)">Control Mice</text>
<rect x="108.60" y="324.20" width="5.30" height="4.90" fill="#5f63b6" />
<text x="0" y="0" font-size="6.6" fill="#262626" stroke="#262626" stroke-width="0.22" text-anchor="start" transform="translate(117.20,328.90) scale(0.83,1)">SHAM mice</text>
<rect x="59.80" y="333.10" width="5.30" height="4.90" fill="#8cc25a" />
<text x="0" y="0" font-size="6.6" fill="#262626" stroke="#262626" stroke-width="0.22" text-anchor="start" transform="translate(68.40,337.80) scale(0.83,1)">Gr.Early mice</text>
<rect x="108.60" y="333.10" width="5.30" height="4.90" fill="#16976a" />
<text x="0" y="0" font-size="6.6" fill="#262626" stroke="#262626" stroke-width="0.22" text-anchor="start" transform="translate(117.20,337.80) scale(0.83,1)">Gr.Late mice</text>
<line x1="194.6" y1="217.4" x2="194.6" y2="286.0" stroke="#222" stroke-width="0.9"/>
<line x1="194.2" y1="285.6" x2="292.4" y2="285.6" stroke="#222" stroke-width="0.9"/>
<line x1="192.4" y1="218.6" x2="194.6" y2="218.6" stroke="#222" stroke-width="0.7"/>
<text x="191.0" y="220.5" font-size="5.4" fill="#333" stroke="#333" stroke-width="0.22" text-anchor="end" >7.5</text>
<line x1="192.4" y1="235.2" x2="194.6" y2="235.2" stroke="#222" stroke-width="0.7"/>
<text x="191.0" y="237.1" font-size="5.4" fill="#333" stroke="#333" stroke-width="0.22" text-anchor="end" >5.0</text>
<line x1="192.4" y1="251.8" x2="194.6" y2="251.8" stroke="#222" stroke-width="0.7"/>
<text x="191.0" y="253.70000000000002" font-size="5.4" fill="#333" stroke="#333" stroke-width="0.22" text-anchor="end" >2.5</text>
<line x1="192.4" y1="268.4" x2="194.6" y2="268.4" stroke="#222" stroke-width="0.7"/>
<text x="191.0" y="270.29999999999995" font-size="5.4" fill="#333" stroke="#333" stroke-width="0.22" text-anchor="end" >0.0</text>
<line x1="192.4" y1="285.0" x2="194.6" y2="285.0" stroke="#222" stroke-width="0.7"/>
<text x="191.0" y="286.9" font-size="5.4" fill="#333" stroke="#333" stroke-width="0.22" text-anchor="end" >−2.5</text>
<line x1="212.3" y1="285.6" x2="212.3" y2="287.8" stroke="#222" stroke-width="0.7"/>
<text x="212.3" y="296.2" font-size="5.4" fill="#333" stroke="#333" stroke-width="0.22" text-anchor="middle" >0</text>
<line x1="234.9" y1="285.6" x2="234.9" y2="287.8" stroke="#222" stroke-width="0.7"/>
<text x="234.9" y="296.2" font-size="5.4" fill="#333" stroke="#333" stroke-width="0.22" text-anchor="middle" >2</text>
<line x1="257.4" y1="285.6" x2="257.4" y2="287.8" stroke="#222" stroke-width="0.7"/>
<text x="257.4" y="296.2" font-size="5.4" fill="#333" stroke="#333" stroke-width="0.22" text-anchor="middle" >4</text>
<line x1="280.0" y1="285.6" x2="280.0" y2="287.8" stroke="#222" stroke-width="0.7"/>
<text x="280.0" y="296.2" font-size="5.4" fill="#333" stroke="#333" stroke-width="0.22" text-anchor="middle" >6</text>
<text x="0" y="0" font-size="7.5" fill="#2a2a2a" stroke="#2a2a2a" stroke-width="0.12" text-anchor="middle" font-weight="bold" transform="translate(246.50,307.50) scale(0.68,1)">UMAP_1</text>
<text x="0" y="0" font-size="7.3" fill="#2a2a2a" stroke="#2a2a2a" stroke-width="0.12" text-anchor="middle" font-weight="bold" transform="translate(172.20,251.40) rotate(-90) scale(0.75,1)">UMAP_2</text>
<path d="M215.0 248.7h.01M235.4 253.6h.01M239.5 242.1h.01M225.9 259.9h.01M236.8 236.2h.01M203.4 240.5h.01M210.4 241.3h.01M206.1 239.2h.01M222.7 258.5h.01M238.7 241.0h.01M237.7 246.3h.01M233.5 255.7h.01M226.6 240.2h.01M213.4 256.3h.01M241.1 249.5h.01M246.6 239.4h.01M233.8 244.3h.01M206.2 240.8h.01M237.0 241.9h.01M240.0 242.2h.01M243.2 248.3h.01M233.4 260.7h.01M217.3 232.7h.01M225.3 259.0h.01M228.9 244.0h.01M232.4 259.9h.01M235.1 254.1h.01M214.2 232.8h.01M240.9 239.6h.01M248.3 257.4h.01M241.6 241.4h.01M231.4 235.1h.01M203.7 245.4h.01M241.1 234.2h.01M231.5 241.9h.01M228.5 237.8h.01M225.4 244.7h.01M231.5 254.8h.01M220.3 247.7h.01M204.3 246.5h.01M222.9 253.4h.01M222.9 241.9h.01M220.4 240.0h.01M236.6 247.8h.01M210.4 254.1h.01M213.7 249.3h.01M203.9 237.4h.01M242.9 254.7h.01M213.6 242.4h.01M240.0 245.7h.01M245.2 257.1h.01M240.8 234.8h.01M228.2 247.5h.01M211.2 250.1h.01M239.1 246.0h.01M244.1 248.4h.01M216.5 251.4h.01M224.4 251.9h.01M219.4 234.0h.01M206.9 237.2h.01M229.3 251.8h.01M223.7 243.9h.01M235.6 238.5h.01M234.5 246.3h.01M245.1 250.6h.01M211.9 243.6h.01M248.3 257.4h.01M213.6 235.6h.01M208.7 247.7h.01M227.9 258.0h.01M231.0 250.4h.01M227.4 240.2h.01M240.3 245.8h.01M232.5 237.4h.01M227.4 242.3h.01M205.7 242.8h.01M237.9 235.5h.01M248.5 256.3h.01M234.5 250.6h.01M223.0 244.1h.01M234.0 259.0h.01M222.3 254.2h.01M215.4 242.2h.01M237.5 239.7h.01M216.1 251.5h.01M208.6 248.3h.01M205.2 237.6h.01M244.9 231.0h.01M209.4 245.2h.01M234.4 255.5h.01M212.9 239.1h.01M234.5 237.5h.01M247.8 252.1h.01M232.8 250.5h.01M215.6 232.6h.01M201.5 242.6h.01M234.3 239.7h.01M209.5 233.9h.01M220.7 253.6h.01M217.5 258.4h.01M239.9 253.0h.01M229.4 252.7h.01M219.5 252.3h.01M211.7 232.7h.01M218.5 254.7h.01M239.2 238.9h.01M226.3 234.2h.01M239.6 240.1h.01M238.0 238.0h.01M211.5 243.4h.01M232.0 246.3h.01M241.5 238.4h.01M222.1 234.4h.01M235.5 233.6h.01M224.2 236.3h.01M222.2 234.5h.01M218.4 246.2h.01M211.6 255.4h.01M226.4 238.5h.01M242.9 237.6h.01M223.2 255.0h.01M222.9 241.1h.01M233.1 242.6h.01M248.7 246.6h.01M223.7 255.3h.01M212.2 247.2h.01M209.7 238.1h.01M244.7 233.2h.01M202.5 245.2h.01M210.1 255.6h.01M212.2 246.5h.01M216.5 244.1h.01M213.4 245.7h.01M235.5 235.1h.01M208.1 235.1h.01M229.1 260.2h.01M212.2 236.1h.01M222.8 244.2h.01M245.3 234.0h.01M243.2 244.6h.01M225.8 234.4h.01M232.9 250.1h.01M244.6 262.7h.01M228.6 236.6h.01M213.3 238.4h.01M226.3 253.2h.01M236.9 251.4h.01M233.5 257.3h.01M223.9 253.2h.01M239.1 238.3h.01M247.4 237.4h.01M247.6 260.7h.01M236.6 242.5h.01M238.1 234.8h.01M211.3 239.4h.01M207.4 244.1h.01M228.9 242.4h.01M222.1 236.4h.01M238.1 258.5h.01M210.4 256.2h.01M213.3 258.0h.01M226.8 254.8h.01M209.2 253.8h.01M212.0 239.4h.01M248.0 235.5h.01M226.2 241.2h.01M224.1 239.2h.01M204.9 235.9h.01M231.2 253.8h.01M239.4 254.9h.01M208.3 253.7h.01M239.9 233.7h.01M239.3 238.2h.01M233.1 249.4h.01M210.2 250.0h.01M231.7 238.6h.01M221.4 248.4h.01M211.6 240.2h.01M210.8 240.9h.01M213.5 235.8h.01M247.5 257.1h.01M216.2 254.7h.01M230.5 233.5h.01M243.5 246.0h.01M206.6 247.5h.01M218.5 254.5h.01M238.6 234.1h.01M219.6 246.7h.01M233.4 237.9h.01M224.0 254.4h.01M218.9 245.5h.01M246.3 251.2h.01M223.0 251.8h.01M245.1 234.8h.01M231.0 240.5h.01M237.4 256.3h.01M205.0 243.7h.01M214.8 256.2h.01M221.5 241.8h.01M244.2 260.8h.01M247.4 250.7h.01M223.5 254.5h.01M217.3 238.8h.01M217.4 236.8h.01M240.8 259.4h.01M240.7 239.4h.01M219.0 242.3h.01M220.8 251.8h.01M213.1 252.5h.01M241.7 235.0h.01M217.2 258.0h.01M237.0 253.2h.01M227.5 245.8h.01M211.2 241.9h.01M205.7 241.5h.01M239.6 238.1h.01M210.5 246.0h.01M239.9 262.5h.01M231.6 260.5h.01M244.6 255.1h.01M243.4 249.7h.01M229.4 258.3h.01M224.4 244.4h.01M233.2 237.5h.01M202.5 250.3h.01M235.7 244.9h.01M218.2 237.9h.01M249.1 245.0h.01M235.4 261.6h.01M215.5 241.5h.01M209.9 248.8h.01M228.1 235.3h.01M239.9 244.7h.01M213.4 239.7h.01M225.8 246.2h.01M235.7 255.6h.01M213.2 247.8h.01M210.6 250.1h.01M237.3 254.4h.01M222.4 233.4h.01M239.6 253.2h.01M217.2 256.2h.01M210.5 235.9h.01M230.9 240.7h.01M211.4 233.3h.01M216.2 247.4h.01M224.2 245.2h.01M223.8 237.1h.01M207.8 236.2h.01M220.4 242.4h.01M217.9 253.6h.01M242.2 254.9h.01M220.4 245.0h.01M227.8 252.7h.01M247.0 235.4h.01M242.3 257.0h.01M227.6 244.0h.01M216.5 246.6h.01M218.5 260.5h.01M231.9 246.5h.01M219.7 250.9h.01M213.5 242.9h.01M227.0 239.7h.01M208.0 238.1h.01M213.6 255.1h.01M221.9 237.0h.01M242.6 243.4h.01M243.3 255.7h.01M231.5 234.3h.01M209.6 250.9h.01M222.0 243.6h.01M249.3 254.1h.01M209.6 235.6h.01M226.6 253.3h.01M222.2 257.0h.01M222.8 260.0h.01M207.7 236.4h.01M239.9 256.8h.01M221.0 252.9h.01M216.2 243.1h.01M234.3 241.2h.01M213.6 251.0h.01M242.6 246.9h.01M229.4 244.8h.01M205.8 239.8h.01M213.3 255.0h.01M205.6 247.0h.01M211.2 252.4h.01M246.7 263.9h.01M223.0 259.4h.01M247.1 246.3h.01M227.1 255.3h.01M231.8 243.1h.01M244.3 231.7h.01M223.6 254.6h.01M206.6 236.7h.01M223.9 256.8h.01M238.4 251.6h.01M242.4 245.4h.01M237.1 238.3h.01M208.6 253.4h.01M220.5 236.1h.01M223.7 247.0h.01M218.7 249.1h.01M219.6 248.8h.01M206.8 240.0h.01M231.7 248.7h.01M233.4 242.6h.01M227.7 237.4h.01M216.0 249.5h.01M221.0 260.7h.01M220.5 253.9h.01M241.2 263.4h.01M237.1 239.6h.01M231.2 252.4h.01M236.2 249.0h.01M244.6 239.0h.01M208.5 235.5h.01M239.8 235.9h.01M228.8 249.3h.01M203.6 244.7h.01M212.6 233.6h.01M219.7 241.7h.01M222.8 247.4h.01M230.2 236.6h.01M204.8 241.6h.01M232.4 244.7h.01M212.7 235.7h.01M235.2 244.9h.01M242.1 252.2h.01M225.5 241.7h.01M237.0 254.5h.01M209.0 252.9h.01M220.2 237.1h.01M217.1 239.4h.01M211.6 243.9h.01M221.8 235.7h.01M245.6 233.8h.01M224.6 237.0h.01M224.9 257.6h.01M246.3 257.8h.01M207.7 246.7h.01M234.2 253.9h.01M235.6 257.3h.01M229.2 254.7h.01M234.7 242.8h.01M235.7 234.4h.01M228.4 237.1h.01M224.3 241.8h.01M225.7 250.2h.01M214.3 247.3h.01M221.2 252.7h.01M226.7 239.7h.01M235.1 256.7h.01M225.7 243.1h.01M220.4 254.2h.01M224.3 255.0h.01M222.8 242.5h.01M218.3 255.8h.01M232.7 253.2h.01M234.6 239.6h.01M247.9 257.4h.01M236.7 246.8h.01M213.9 246.8h.01M222.2 244.6h.01M248.2 236.6h.01M244.2 244.8h.01M238.4 243.1h.01M244.8 245.2h.01M229.8 239.1h.01M219.8 243.2h.01M218.9 256.0h.01M233.9 251.4h.01M230.6 240.3h.01M242.5 261.0h.01M229.3 249.8h.01M230.1 247.6h.01M211.2 240.9h.01M212.5 259.2h.01M229.4 243.1h.01M239.6 257.7h.01M203.4 243.2h.01M227.5 243.5h.01M205.2 246.0h.01M205.2 242.9h.01M225.5 240.2h.01M209.0 247.6h.01M218.9 259.4h.01M243.5 242.5h.01M230.7 249.4h.01M218.8 234.3h.01M226.7 241.5h.01M242.0 241.8h.01M247.4 242.6h.01M208.7 252.7h.01M222.5 244.1h.01M219.1 255.1h.01M234.0 253.1h.01M223.8 237.1h.01M232.2 253.7h.01M232.2 235.1h.01M209.2 247.6h.01M227.6 235.0h.01M230.8 235.0h.01M233.8 248.8h.01M238.8 249.6h.01M222.4 258.3h.01M237.5 242.7h.01M206.0 251.0h.01M213.8 258.8h.01M241.1 247.9h.01M234.3 248.3h.01M217.2 232.7h.01M231.2 234.5h.01M222.2 257.2h.01M227.7 251.0h.01M207.8 253.9h.01M239.1 245.8h.01M220.1 238.0h.01M247.3 242.8h.01M218.2 237.5h.01M236.5 252.5h.01M223.8 247.5h.01M210.4 254.7h.01M240.4 233.7h.01M231.8 246.7h.01M229.0 237.8h.01M213.2 258.3h.01M230.1 251.5h.01M210.0 233.9h.01M225.6 235.5h.01M243.0 243.5h.01M209.7 249.8h.01M223.9 248.5h.01M225.3 258.5h.01M246.1 237.2h.01M238.2 249.6h.01M211.4 256.7h.01M236.2 238.1h.01M232.4 243.0h.01M208.3 248.9h.01M243.2 232.2h.01M204.9 239.0h.01M224.6 238.9h.01M223.3 242.9h.01M236.0 234.3h.01M219.9 241.0h.01M247.0 247.7h.01M224.0 236.5h.01M244.2 244.2h.01M228.1 246.0h.01M212.7 249.2h.01M231.3 251.7h.01M223.7 234.9h.01M235.5 254.9h.01M232.1 252.5h.01M201.9 245.3h.01M229.9 241.8h.01M233.4 240.1h.01M215.7 248.8h.01M206.4 255.0h.01M236.1 242.9h.01M220.0 247.3h.01M206.8 248.0h.01M247.9 243.3h.01M216.5 252.1h.01M219.9 255.8h.01M222.7 259.8h.01M222.3 256.1h.01M208.2 247.9h.01M246.5 260.6h.01M228.1 244.4h.01M215.5 250.1h.01M201.7 243.1h.01M208.2 238.0h.01M205.2 237.0h.01M221.1 238.9h.01M220.7 250.5h.01M234.6 250.2h.01M214.3 247.1h.01M222.1 239.9h.01M215.4 239.7h.01M224.9 238.2h.01M225.6 247.4h.01M219.0 244.3h.01M213.3 257.8h.01M232.3 257.6h.01M209.3 239.2h.01M210.2 246.0h.01M205.5 252.6h.01M224.0 252.3h.01M247.6 243.6h.01M219.0 253.8h.01M232.5 244.0h.01M223.5 258.6h.01M241.4 260.0h.01M239.1 246.4h.01M241.9 252.9h.01M208.4 249.5h.01M217.2 233.9h.01M216.8 258.9h.01M213.8 243.7h.01M222.0 243.2h.01M242.8 243.1h.01M247.6 238.2h.01M235.4 250.0h.01M240.2 253.8h.01M240.4 235.7h.01M213.7 243.9h.01M235.3 249.7h.01M240.4 249.5h.01M246.0 242.9h.01M238.7 245.4h.01M237.8 241.1h.01M231.0 257.6h.01M234.1 260.4h.01M207.4 247.0h.01M222.5 257.1h.01M209.3 233.0h.01M201.7 246.6h.01M238.8 250.1h.01M215.6 247.0h.01M232.2 247.4h.01M210.7 241.7h.01M221.4 258.5h.01M219.5 239.3h.01M204.0 248.7h.01M224.8 244.0h.01M236.4 257.3h.01M248.8 255.9h.01M243.6 252.8h.01M212.9 249.8h.01M215.2 256.0h.01M217.0 248.7h.01M202.2 245.9h.01M231.2 246.5h.01M239.8 238.5h.01M211.8 254.1h.01M230.3 241.4h.01M212.8 247.8h.01M217.7 257.4h.01M220.1 248.9h.01M203.9 241.5h.01M207.3 240.7h.01M240.3 238.2h.01M243.0 258.2h.01M238.1 256.4h.01M241.3 263.5h.01M241.4 261.4h.01M228.4 239.7h.01M238.1 240.8h.01M214.5 256.3h.01M240.5 235.8h.01M217.8 260.0h.01M205.2 252.9h.01M220.7 245.6h.01M217.4 238.6h.01M235.6 256.8h.01M234.9 234.8h.01M215.1 240.0h.01M211.2 241.4h.01M242.9 251.9h.01M246.5 245.6h.01M242.8 239.1h.01M224.2 243.3h.01M244.2 243.1h.01M232.9 240.8h.01M214.8 245.4h.01M232.0 259.7h.01M242.1 258.0h.01M223.6 244.3h.01M239.8 255.0h.01M248.4 237.9h.01M221.0 249.8h.01M246.8 251.7h.01M226.1 250.0h.01M248.6 244.4h.01M229.6 248.7h.01M213.0 241.1h.01M228.2 237.4h.01M222.3 248.5h.01M233.3 253.6h.01M245.6 258.0h.01M204.1 249.0h.01M211.7 232.0h.01M231.3 239.9h.01M212.1 236.7h.01M240.5 245.7h.01M217.7 257.5h.01M232.7 243.7h.01M233.5 248.3h.01M205.7 241.7h.01M235.8 240.6h.01M235.1 240.5h.01M217.8 256.0h.01M240.5 263.5h.01M219.7 256.3h.01M210.9 256.8h.01M237.6 246.9h.01M238.4 237.8h.01M233.2 256.1h.01M222.4 255.0h.01M210.8 248.4h.01M236.3 237.1h.01M217.5 233.7h.01M236.3 249.8h.01M208.0 233.7h.01M234.7 249.3h.01M247.0 262.5h.01M216.9 241.3h.01M221.8 260.6h.01M241.5 240.9h.01M244.6 239.6h.01M206.5 242.8h.01M209.6 238.9h.01M222.5 240.7h.01M238.5 254.8h.01M245.5 257.0h.01M224.0 241.5h.01M243.9 250.9h.01M245.9 260.2h.01M234.9 238.5h.01M241.4 242.2h.01M233.2 236.9h.01M209.9 254.3h.01M214.2 234.4h.01M244.2 237.2h.01M238.5 255.6h.01M236.0 241.1h.01M220.8 255.7h.01M223.8 257.7h.01M242.6 253.2h.01M235.1 254.9h.01M222.2 250.4h.01M245.8 239.6h.01M236.8 237.5h.01M244.5 252.8h.01M201.0 244.5h.01M224.8 247.0h.01M225.7 257.4h.01M243.5 244.6h.01M212.4 245.9h.01M228.6 260.3h.01M216.8 241.0h.01M234.8 254.9h.01M215.5 254.9h.01M227.8 250.4h.01M240.0 263.3h.01M237.1 252.2h.01M225.9 249.3h.01M232.4 252.5h.01M224.9 255.9h.01M207.1 244.8h.01M221.9 249.3h.01M219.8 244.8h.01M220.0 245.5h.01M218.7 238.5h.01M243.4 262.0h.01M223.5 241.3h.01M244.3 258.5h.01M223.7 243.5h.01M235.6 245.9h.01M233.2 246.4h.01M246.2 251.2h.01M229.5 244.6h.01M246.0 255.0h.01M211.9 242.0h.01M216.6 245.2h.01M209.7 254.6h.01M246.8 262.4h.01M230.3 234.2h.01M231.2 251.9h.01M228.1 236.2h.01M230.9 260.7h.01M213.2 250.1h.01M238.9 235.7h.01M222.2 260.9h.01M210.2 234.9h.01M217.0 243.7h.01M220.5 246.4h.01M238.5 260.8h.01M226.4 253.3h.01M218.3 253.9h.01M226.4 237.4h.01M217.2 253.3h.01M227.6 241.4h.01M215.0 239.9h.01M243.9 252.4h.01M213.4 248.2h.01M229.3 244.9h.01M248.6 255.7h.01M213.3 258.9h.01M215.3 233.9h.01M234.0 240.0h.01M202.9 251.0h.01M212.9 236.0h.01M232.8 247.6h.01M243.4 234.2h.01M212.6 247.7h.01M216.3 235.3h.01M238.9 234.8h.01M242.2 253.6h.01M234.2 257.1h.01M208.4 252.6h.01M207.3 236.0h.01M207.0 243.4h.01M227.7 244.0h.01M226.9 256.9h.01M206.5 239.1h.01M243.4 241.3h.01M234.6 242.9h.01M223.2 257.7h.01M216.4 247.7h.01M227.8 242.6h.01M243.9 257.3h.01M226.6 249.1h.01M220.8 249.2h.01M245.6 233.9h.01M233.6 252.0h.01M234.5 261.7h.01M238.7 235.6h.01M238.3 235.7h.01M244.7 255.5h.01M238.9 253.3h.01M236.4 246.8h.01M222.7 249.4h.01M235.6 246.9h.01M208.0 241.8h.01M228.6 241.3h.01M245.1 258.6h.01M222.4 240.8h.01M217.6 234.7h.01M247.5 237.9h.01M203.6 248.2h.01M233.6 249.3h.01M215.4 255.1h.01M235.6 246.3h.01M223.5 251.1h.01M240.5 246.9h.01M218.0 242.2h.01M216.8 240.7h.01M246.9 239.3h.01M218.4 249.8h.01M246.9 259.9h.01M213.2 242.8h.01M212.3 254.2h.01M204.3 253.8h.01M226.7 239.7h.01M241.9 244.2h.01M202.0 248.5h.01M222.2 236.7h.01M229.6 244.9h.01M205.3 254.4h.01M243.7 236.3h.01M237.5 250.6h.01M201.7 245.0h.01M206.0 238.0h.01M248.8 241.4h.01M223.9 235.9h.01M234.9 241.4h.01M218.8 234.8h.01M237.7 246.3h.01M234.2 250.9h.01M209.9 246.0h.01M216.8 238.0h.01M236.8 238.8h.01M243.0 237.3h.01M215.7 246.5h.01M226.4 251.7h.01M218.2 251.3h.01M213.6 256.6h.01M215.4 250.9h.01M219.8 248.1h.01M234.9 235.2h.01M241.3 253.0h.01M217.4 242.2h.01M241.2 247.8h.01M242.5 234.5h.01M211.8 241.4h.01M225.0 254.0h.01M238.2 241.8h.01M228.7 244.2h.01M216.0 234.6h.01M235.7 255.0h.01M231.0 238.1h.01M220.0 239.5h.01M209.2 239.4h.01M203.7 240.6h.01M228.9 251.9h.01M239.0 242.8h.01M248.6 257.0h.01M213.4 243.3h.01M212.7 241.4h.01M218.3 241.4h.01M241.6 255.2h.01M244.7 245.8h.01M240.7 260.4h.01M225.2 249.3h.01M216.4 251.2h.01M231.4 251.3h.01M209.2 242.1h.01M213.5 249.7h.01M212.2 243.3h.01M239.6 236.7h.01M214.3 251.9h.01M211.0 248.4h.01M212.6 235.4h.01M217.9 260.2h.01M205.1 237.8h.01M205.4 249.5h.01M212.5 250.2h.01M220.1 244.7h.01M227.0 254.5h.01M237.8 237.8h.01M222.2 238.2h.01M211.6 254.3h.01M221.6 254.2h.01M239.8 239.3h.01M222.6 242.5h.01M223.7 248.3h.01M205.9 246.7h.01M209.2 245.4h.01M225.2 248.3h.01M214.5 242.3h.01M237.0 247.0h.01M210.8 242.9h.01M222.2 249.8h.01M232.1 250.4h.01M247.4 248.4h.01M219.0 252.0h.01M245.5 242.9h.01M244.3 238.0h.01M235.5 257.1h.01M223.8 260.4h.01M213.4 235.5h.01M208.1 246.6h.01M236.0 247.6h.01M208.8 238.5h.01M225.7 250.0h.01M223.7 235.2h.01M227.0 240.8h.01M204.2 243.5h.01M244.1 245.6h.01M223.0 247.8h.01M211.9 232.1h.01M218.1 254.5h.01M225.9 248.6h.01M229.0 245.4h.01M241.2 253.7h.01M248.0 259.5h.01M239.4 256.0h.01M249.3 250.6h.01M211.3 234.8h.01M231.2 259.2h.01M244.5 249.3h.01M230.7 256.3h.01M213.0 257.2h.01M229.1 238.5h.01M242.5 242.8h.01M231.9 236.6h.01M216.4 246.4h.01M201.8 247.5h.01M230.0 258.0h.01M231.5 240.2h.01M225.6 248.3h.01M238.1 247.2h.01M246.5 238.8h.01M242.5 253.2h.01M222.3 253.4h.01M218.6 256.9h.01M229.3 234.0h.01M223.6 247.8h.01M218.0 237.1h.01M225.6 246.4h.01M237.9 233.4h.01M234.9 250.5h.01M222.8 258.5h.01M244.9 248.8h.01M232.2 257.5h.01M223.4 257.6h.01M230.9 259.9h.01M228.8 236.6h.01M208.1 246.0h.01M224.8 241.4h.01M235.4 245.9h.01M221.3 254.4h.01M208.5 246.7h.01M213.8 256.4h.01M235.1 251.3h.01M233.2 248.0h.01M234.7 234.8h.01M242.3 249.5h.01M235.4 247.0h.01M214.6 257.5h.01M230.3 255.3h.01M241.7 239.0h.01M234.2 246.9h.01M243.6 232.8h.01M234.2 248.4h.01M213.4 238.0h.01M244.7 263.0h.01M225.9 234.0h.01M237.9 242.7h.01M232.3 243.5h.01M230.4 248.2h.01M244.4 241.4h.01M238.7 252.2h.01M244.6 242.7h.01M235.7 248.8h.01M240.1 251.6h.01M209.5 241.8h.01M242.6 256.7h.01M203.8 241.5h.01M247.1 242.5h.01M242.4 248.4h.01M222.2 245.9h.01M214.3 248.1h.01M207.7 235.4h.01M239.7 245.0h.01M203.0 252.3h.01M213.5 244.6h.01M222.0 244.5h.01M210.1 234.9h.01M217.9 254.7h.01M215.4 245.0h.01M226.8 239.9h.01M220.8 254.2h.01M223.0 249.2h.01M232.6 244.9h.01M206.3 235.4h.01M209.7 252.7h.01M245.0 238.3h.01M229.0 238.9h.01M233.7 244.9h.01M232.8 245.3h.01M219.0 251.9h.01M238.5 259.5h.01M218.9 247.7h.01M243.4 251.1h.01M222.0 244.7h.01M227.5 239.7h.01M215.1 249.8h.01M227.8 241.4h.01M224.5 248.0h.01M210.7 236.7h.01M239.9 238.3h.01M235.3 247.1h.01M219.8 249.2h.01M243.8 249.9h.01M241.8 243.2h.01M227.7 237.2h.01M236.6 236.0h.01M208.8 252.4h.01M249.1 252.6h.01M224.6 259.2h.01M241.5 246.4h.01M229.1 237.8h.01M209.3 253.6h.01M235.5 262.3h.01M241.0 256.1h.01M217.3 258.0h.01M241.7 257.4h.01M220.0 257.2h.01M227.1 259.8h.01M201.5 246.1h.01M233.8 244.2h.01M225.5 248.6h.01M220.9 253.6h.01M227.2 242.3h.01M209.9 241.7h.01M236.2 245.5h.01M243.0 243.6h.01M211.7 246.7h.01M218.4 252.7h.01M210.9 232.6h.01M214.0 247.6h.01M222.5 238.3h.01M206.3 247.9h.01M205.1 248.9h.01M230.4 236.6h.01M235.1 257.6h.01M221.1 240.0h.01M238.0 239.8h.01M219.1 246.4h.01M218.2 233.3h.01M217.7 255.2h.01M247.8 258.8h.01M226.5 236.2h.01M211.5 237.1h.01M216.6 256.2h.01M225.5 251.7h.01M234.7 244.1h.01M229.3 235.2h.01M231.6 248.8h.01M216.8 246.5h.01M237.3 232.9h.01M213.4 250.2h.01M213.9 249.1h.01M246.2 251.6h.01M226.1 247.1h.01M240.7 260.1h.01M212.9 257.4h.01M228.7 255.1h.01M220.3 247.2h.01M225.6 249.7h.01M210.8 246.2h.01M213.2 258.1h.01M218.9 245.6h.01M227.3 253.3h.01M233.8 236.9h.01M216.3 248.2h.01M241.4 256.9h.01M234.4 241.9h.01M216.6 255.3h.01M207.4 238.6h.01M215.9 244.6h.01M236.0 247.5h.01M238.6 253.0h.01M224.1 239.5h.01M220.1 245.8h.01M229.5 260.3h.01M214.2 236.7h.01M242.2 261.3h.01M215.6 232.7h.01M213.2 246.3h.01M208.3 234.6h.01M205.2 234.6h.01M239.7 260.0h.01M215.4 258.0h.01M205.4 252.2h.01M233.2 253.0h.01M231.5 253.7h.01M238.8 247.8h.01M224.8 255.8h.01M214.3 247.8h.01M243.2 254.6h.01M225.6 250.0h.01M223.2 247.6h.01M233.9 234.5h.01M216.1 242.4h.01M236.5 242.9h.01M239.9 241.2h.01M240.1 244.4h.01M245.4 256.2h.01M210.6 241.9h.01M224.0 234.9h.01M220.8 238.8h.01M215.1 239.3h.01M232.6 248.9h.01M207.9 250.3h.01M237.3 236.5h.01M202.7 249.0h.01M208.6 235.2h.01M227.3 257.2h.01M236.0 247.5h.01M210.5 239.9h.01M242.2 254.1h.01M223.5 239.1h.01M235.8 253.4h.01M244.5 242.6h.01M232.4 247.8h.01M227.5 244.4h.01M220.0 237.9h.01M237.2 260.2h.01M242.0 234.7h.01M237.1 256.7h.01M230.5 252.4h.01M206.3 249.6h.01M228.5 255.7h.01M249.3 250.0h.01M236.2 252.8h.01M224.5 256.2h.01M221.2 252.9h.01M246.5 242.0h.01M207.9 237.9h.01M235.2 261.9h.01M240.2 234.3h.01M226.4 248.1h.01M206.2 253.2h.01M205.3 246.5h.01M209.6 233.0h.01M247.6 256.6h.01M235.2 250.7h.01M222.1 248.1h.01M228.3 233.5h.01M248.9 243.9h.01M219.4 254.3h.01M210.2 236.4h.01M232.4 256.5h.01M204.9 248.0h.01M234.3 236.5h.01M247.6 253.0h.01M221.2 246.2h.01M204.4 239.9h.01M235.4 245.5h.01M228.3 240.9h.01M202.9 251.8h.01M221.3 248.7h.01M247.3 248.1h.01M210.4 256.9h.01M234.6 248.9h.01M219.3 235.0h.01M203.7 250.8h.01M229.1 246.8h.01M239.5 247.0h.01M241.9 234.4h.01M201.4 247.0h.01M247.3 261.7h.01M215.9 258.9h.01M224.3 237.8h.01M212.6 255.1h.01M207.2 240.1h.01M245.9 255.8h.01M210.9 239.0h.01M231.4 250.4h.01M238.5 248.2h.01M203.2 246.8h.01M239.9 241.8h.01M230.4 255.5h.01M222.8 234.7h.01M222.1 245.6h.01M215.3 254.3h.01M235.8 241.3h.01M222.0 239.7h.01M226.5 248.2h.01M234.7 243.8h.01M201.7 249.1h.01M211.9 248.1h.01M225.5 248.5h.01M234.0 261.2h.01M219.8 248.0h.01M203.6 248.6h.01M235.8 242.0h.01M236.6 243.3h.01M244.8 242.9h.01M224.4 258.6h.01M214.7 243.6h.01M225.3 255.0h.01M202.1 243.4h.01M229.4 245.9h.01M212.8 241.8h.01M209.3 246.7h.01M228.3 253.6h.01M237.3 251.4h.01M232.8 246.7h.01M212.0 252.3h.01M241.0 245.4h.01M225.0 243.0h.01M234.5 251.5h.01M214.6 240.3h.01M211.8 236.2h.01M206.3 240.9h.01M221.8 242.7h.01M221.3 252.0h.01M234.8 256.0h.01M236.7 257.1h.01M249.4 251.3h.01M221.6 245.3h.01M223.7 259.1h.01M226.5 242.4h.01M233.6 253.0h.01M237.9 246.5h.01M239.9 247.1h.01M224.4 255.2h.01M217.1 256.5h.01M246.6 256.6h.01M217.9 245.0h.01M236.0 254.6h.01M243.5 254.7h.01M225.1 247.7h.01M224.6 245.8h.01M219.4 250.5h.01M236.8 240.6h.01M218.8 256.7h.01M244.4 248.1h.01M241.2 260.3h.01M241.3 242.7h.01M218.6 242.0h.01M239.3 249.2h.01M219.4 247.2h.01M213.0 259.0h.01M222.6 251.9h.01M228.8 236.7h.01M216.6 239.3h.01M218.4 255.4h.01M241.8 249.0h.01M230.8 244.1h.01M244.4 250.5h.01M231.2 244.3h.01M215.9 238.9h.01M206.0 239.5h.01M246.6 236.3h.01M219.0 251.9h.01M233.4 235.5h.01M229.0 254.7h.01M234.4 235.9h.01M237.5 251.9h.01M225.7 252.5h.01M220.2 258.5h.01M217.6 245.0h.01M211.0 242.4h.01M209.9 246.5h.01M229.0 256.4h.01M224.5 236.8h.01M233.8 237.9h.01M243.4 257.0h.01M223.1 237.2h.01M215.5 246.8h.01M234.4 247.7h.01M235.9 255.4h.01M213.0 250.5h.01M246.4 254.6h.01M218.4 233.1h.01M238.4 234.4h.01M234.2 246.2h.01M243.3 241.3h.01M229.4 245.6h.01M235.1 257.9h.01M225.4 248.7h.01M227.9 255.3h.01M203.5 241.7h.01M231.8 237.9h.01M207.4 236.3h.01M223.0 246.1h.01M226.5 239.0h.01M220.3 236.1h.01M224.3 260.4h.01M242.2 245.1h.01M242.1 243.2h.01M234.5 245.0h.01M229.8 240.0h.01M236.3 252.4h.01M234.3 256.0h.01M236.5 244.8h.01M221.6 250.8h.01M244.2 241.4h.01M233.2 253.5h.01M239.9 257.7h.01M233.3 233.7h.01M214.4 246.8h.01M243.8 255.6h.01M206.5 252.0h.01M237.2 245.5h.01M244.7 232.0h.01M246.5 253.8h.01M218.9 254.1h.01M208.9 245.8h.01M206.0 251.6h.01M210.5 251.5h.01M230.8 236.7h.01M241.5 251.2h.01M217.1 260.0h.01M224.1 247.7h.01M241.8 245.7h.01M237.8 237.1h.01M204.5 241.1h.01M249.4 249.5h.01M207.3 253.0h.01M244.6 232.3h.01M249.3 244.1h.01M229.8 234.5h.01M218.8 255.2h.01M234.6 236.6h.01M245.4 236.3h.01M223.3 248.2h.01M205.5 250.5h.01M237.6 254.4h.01M243.9 256.7h.01M223.1 250.2h.01M221.1 260.6h.01M226.2 235.4h.01M215.0 232.1h.01M231.0 243.8h.01M227.4 253.4h.01M207.4 250.5h.01M237.9 239.8h.01M226.3 258.8h.01M244.2 253.0h.01M220.6 243.3h.01M235.7 245.3h.01M243.5 233.4h.01M220.5 238.0h.01M221.7 250.6h.01M243.7 255.6h.01M220.4 244.5h.01M214.7 242.4h.01M212.3 244.9h.01M217.8 249.6h.01M219.7 249.2h.01M205.4 249.1h.01M220.7 251.5h.01M216.3 232.5h.01M219.8 241.3h.01M208.6 242.0h.01M206.1 251.9h.01M234.6 240.5h.01M213.9 254.7h.01M245.3 244.4h.01M224.6 245.4h.01M211.8 255.6h.01M243.7 257.5h.01M220.3 248.4h.01M243.2 235.5h.01M214.0 243.3h.01M214.9 236.2h.01M211.7 239.9h.01M224.7 260.8h.01M228.8 251.4h.01M218.1 245.4h.01M238.6 246.6h.01M218.2 257.9h.01M219.8 251.9h.01M232.4 253.5h.01M221.1 259.2h.01M226.6 242.1h.01M217.1 246.1h.01M243.0 242.8h.01M209.4 248.7h.01M228.4 241.9h.01M228.4 251.2h.01M241.3 251.9h.01M215.6 256.1h.01M244.9 253.0h.01M223.5 257.4h.01M220.3 238.9h.01M218.0 250.8h.01M220.8 234.4h.01M241.5 246.2h.01M203.1 241.3h.01M228.7 237.9h.01M205.4 240.4h.01M214.9 237.6h.01M240.4 257.2h.01M229.4 259.0h.01M230.2 244.8h.01M226.8 242.3h.01M223.8 236.8h.01M241.4 252.4h.01M220.5 256.2h.01M225.4 253.4h.01M235.1 236.1h.01M226.3 254.7h.01M209.8 254.6h.01M234.9 253.9h.01M246.9 245.2h.01M217.0 260.2h.01M206.8 250.3h.01M222.2 237.2h.01M236.7 253.5h.01M203.1 250.0h.01M225.5 240.2h.01M235.1 252.8h.01M225.7 245.7h.01M222.1 235.7h.01M224.7 243.5h.01M212.2 254.8h.01M220.7 246.2h.01M222.2 255.3h.01M234.1 239.3h.01M216.2 236.7h.01M244.4 252.1h.01M221.8 238.2h.01M221.2 245.4h.01M215.7 248.6h.01M217.1 251.6h.01M241.3 249.2h.01M228.7 253.9h.01M208.0 242.7h.01M226.4 246.6h.01M242.6 244.2h.01M221.9 256.3h.01M237.3 247.7h.01M224.9 250.0h.01M228.0 234.0h.01M213.2 254.4h.01M229.8 256.5h.01M241.7 248.0h.01M215.8 249.1h.01M209.5 232.9h.01M231.7 244.0h.01M236.2 242.8h.01M207.9 250.9h.01M212.3 252.8h.01M233.4 237.7h.01M230.7 243.2h.01M237.8 253.3h.01M247.8 261.0h.01M245.9 263.8h.01M210.1 238.7h.01M220.7 254.3h.01M224.1 237.6h.01M242.9 242.8h.01M246.3 242.9h.01M212.0 232.3h.01M232.5 248.8h.01M235.5 237.9h.01M222.1 245.7h.01M207.6 253.8h.01M228.2 242.8h.01M208.7 256.0h.01M208.3 238.2h.01M228.1 256.6h.01M221.3 245.1h.01M213.6 259.7h.01M216.0 238.7h.01M226.8 248.9h.01M213.4 251.7h.01M239.1 259.7h.01M207.1 249.6h.01M205.9 254.3h.01M214.0 238.8h.01M245.4 242.3h.01M211.5 246.1h.01M215.7 250.8h.01M221.0 235.4h.01M229.7 251.4h.01M230.4 256.3h.01M241.1 248.9h.01M208.6 246.6h.01M239.5 260.4h.01M246.8 243.0h.01M221.6 248.6h.01M228.4 235.1h.01M229.8 253.2h.01M245.8 237.2h.01M227.0 242.3h.01M220.1 260.1h.01M234.5 249.5h.01M245.2 239.1h.01M210.2 254.0h.01M218.6 234.4h.01M217.2 248.9h.01M240.7 259.6h.01M211.7 244.8h.01M235.9 261.1h.01M247.3 260.8h.01M238.4 261.2h.01M219.9 256.3h.01M245.5 245.0h.01M239.9 249.6h.01M222.2 242.8h.01M240.7 253.2h.01M206.0 236.6h.01M210.1 249.6h.01M202.2 249.2h.01M223.7 251.2h.01M218.7 248.7h.01M239.1 236.1h.01M219.7 259.9h.01M226.1 250.6h.01M248.2 249.4h.01M232.5 255.0h.01M233.7 243.4h.01M217.9 238.3h.01M227.7 236.2h.01M215.3 243.0h.01M248.3 248.1h.01M220.3 248.8h.01M226.3 247.7h.01M209.8 237.6h.01M221.0 249.7h.01M237.6 245.6h.01M221.8 257.1h.01M206.7 248.9h.01M237.2 242.9h.01M203.3 244.3h.01M216.3 233.3h.01M231.0 260.5h.01M229.4 243.9h.01M220.9 250.9h.01M233.8 245.0h.01M231.3 245.9h.01M226.6 250.1h.01M224.3 247.0h.01M240.5 249.1h.01M209.5 244.4h.01M221.9 239.1h.01M228.7 233.9h.01M235.4 237.0h.01M202.7 246.3h.01M220.9 250.2h.01M235.2 245.4h.01M219.9 233.4h.01M235.2 256.3h.01M244.0 243.6h.01M235.2 233.4h.01M220.0 246.6h.01M245.7 248.3h.01M215.9 250.0h.01M233.3 240.5h.01M239.8 262.3h.01M225.5 241.3h.01M245.0 246.9h.01M239.6 240.0h.01M234.4 236.0h.01M225.3 255.5h.01M222.3 247.9h.01M212.6 242.0h.01M232.9 238.6h.01M238.7 237.0h.01" stroke="#929292" stroke-width="0.84" stroke-linecap="round" fill="none"/>
<path d="M248.0 268.5h.01M245.1 262.1h.01M246.0 265.6h.01M244.9 266.2h.01M242.1 262.7h.01M246.9 268.2h.01M243.2 268.2h.01M247.9 267.5h.01M243.4 268.2h.01M246.8 262.8h.01M245.0 262.7h.01M246.8 264.7h.01M242.5 264.2h.01M247.7 267.1h.01M245.3 268.1h.01M246.3 265.7h.01M245.1 266.5h.01M241.4 264.4h.01M247.6 268.5h.01M249.6 267.5h.01M244.1 265.2h.01M246.5 267.2h.01M249.3 268.0h.01M242.6 264.2h.01M243.1 265.2h.01M246.9 268.1h.01M245.9 266.8h.01M244.2 264.8h.01M248.9 267.0h.01M242.1 267.2h.01M239.8 263.5h.01M248.6 265.7h.01M247.6 263.7h.01M243.6 263.9h.01M247.6 266.8h.01M242.7 265.1h.01M240.5 263.7h.01M246.3 264.5h.01M242.6 265.2h.01M249.7 267.8h.01M243.5 265.2h.01M240.7 263.2h.01M243.7 267.1h.01M242.1 267.3h.01M247.4 265.2h.01M242.6 262.6h.01M247.7 263.1h.01M242.4 266.3h.01M246.1 264.6h.01M242.4 267.8h.01M243.8 265.5h.01M244.8 262.9h.01M243.6 264.4h.01M246.4 266.2h.01M244.0 267.4h.01M240.6 262.1h.01M244.8 267.6h.01M242.6 265.2h.01M242.1 263.9h.01M243.5 263.1h.01" stroke="#a0a0a0" stroke-width="0.80" stroke-linecap="round" fill="none"/>
<path d="M244.9 234.7h.01M215.5 233.1h.01M236.7 222.3h.01M243.4 228.1h.01M247.2 232.6h.01M237.4 225.9h.01M223.0 223.2h.01M225.4 228.8h.01M245.7 233.6h.01M242.0 230.2h.01M225.4 231.2h.01M229.8 226.8h.01M234.9 232.7h.01M220.5 232.4h.01M241.2 225.8h.01M225.2 230.1h.01M213.1 233.8h.01M232.7 230.5h.01M230.4 225.0h.01M215.5 229.9h.01M231.8 222.5h.01M228.2 228.6h.01M213.5 232.0h.01M233.4 223.8h.01M229.7 224.6h.01M226.1 230.7h.01M233.0 229.6h.01M238.5 230.9h.01M226.5 228.0h.01M239.6 221.0h.01M234.3 231.8h.01M232.2 234.1h.01M225.4 223.0h.01M226.0 235.0h.01M227.3 225.6h.01M217.0 231.6h.01M245.1 234.0h.01M222.2 232.9h.01M220.6 231.0h.01M220.4 226.6h.01M225.1 223.7h.01M235.1 221.6h.01M244.5 231.0h.01M230.4 222.4h.01M231.1 234.7h.01M223.8 227.2h.01M220.9 225.6h.01M235.3 227.6h.01M239.5 226.4h.01M225.7 221.6h.01M221.6 229.8h.01M243.3 226.6h.01M215.2 228.2h.01M229.9 221.1h.01M230.1 220.7h.01M242.4 229.3h.01M234.7 220.7h.01M218.0 224.0h.01M236.3 233.0h.01M232.9 225.0h.01M236.7 220.6h.01M216.7 227.5h.01M229.3 230.4h.01M223.4 220.2h.01M216.7 223.8h.01M223.7 222.2h.01M215.6 227.7h.01M226.2 230.4h.01M234.8 220.0h.01M237.8 233.7h.01M239.2 221.5h.01M219.1 232.0h.01M244.1 226.3h.01M226.7 221.7h.01M225.4 220.0h.01M238.2 228.9h.01M227.7 233.7h.01M242.3 230.1h.01M222.6 223.4h.01M218.2 232.3h.01M224.0 235.8h.01M232.8 224.0h.01M214.0 230.8h.01M238.8 225.8h.01M244.2 230.6h.01M214.1 230.3h.01M217.8 232.0h.01M233.7 221.7h.01M245.4 228.3h.01M221.8 228.2h.01M240.5 232.6h.01M233.4 230.1h.01M219.3 232.8h.01M232.9 221.6h.01M224.9 232.8h.01M234.5 223.7h.01M221.9 226.5h.01M220.1 227.7h.01M224.4 229.5h.01M240.7 222.9h.01M236.6 223.1h.01M226.2 220.1h.01M242.3 229.4h.01M217.4 223.3h.01M215.6 226.0h.01M232.2 233.4h.01M244.3 233.5h.01M233.1 222.7h.01M219.6 222.8h.01M212.4 233.9h.01M224.2 231.2h.01M223.6 221.9h.01M237.6 234.7h.01M219.7 228.2h.01M229.5 227.8h.01M232.4 225.2h.01M222.5 227.5h.01M242.3 229.8h.01M230.4 234.4h.01M228.2 228.2h.01M244.2 226.4h.01M229.2 226.5h.01M227.1 222.7h.01M222.7 223.7h.01M224.3 229.9h.01M237.4 229.7h.01M233.2 230.0h.01M213.5 233.7h.01M220.8 226.1h.01M221.5 223.5h.01M232.6 227.6h.01M239.7 222.8h.01M216.5 228.4h.01M232.5 231.5h.01M216.3 228.1h.01M227.9 225.6h.01M236.7 230.2h.01M228.3 223.7h.01M241.0 221.4h.01M221.5 223.3h.01M226.0 230.2h.01M226.0 223.7h.01M234.9 231.6h.01M244.1 226.7h.01M222.6 226.4h.01M228.4 219.9h.01M230.1 220.2h.01M243.1 227.7h.01M223.7 221.5h.01M231.3 227.3h.01M231.8 229.1h.01M242.0 224.8h.01M224.1 233.0h.01M214.1 227.4h.01M225.5 227.0h.01M236.9 225.9h.01M222.4 222.1h.01M219.1 222.4h.01M220.2 221.7h.01M219.8 226.4h.01M235.8 223.4h.01M226.9 222.2h.01M236.2 220.1h.01M244.1 229.7h.01M226.3 226.6h.01M223.6 221.0h.01M218.8 228.0h.01M227.9 222.9h.01M236.9 225.5h.01M242.5 223.5h.01M233.5 235.2h.01M245.5 231.3h.01M244.4 225.5h.01M240.6 233.0h.01M236.8 231.1h.01M220.3 227.2h.01M241.0 231.4h.01M233.2 232.5h.01M227.3 223.9h.01M220.0 233.1h.01M237.7 228.6h.01M218.4 225.9h.01M245.1 229.3h.01M225.3 221.7h.01M232.6 227.8h.01M233.6 224.8h.01M240.3 222.4h.01M235.4 230.8h.01M236.5 234.8h.01M236.2 222.9h.01M224.0 235.4h.01M220.4 233.9h.01M242.7 227.6h.01M224.0 220.1h.01M227.7 233.5h.01M237.3 232.8h.01M218.4 230.5h.01M227.5 221.8h.01M229.3 228.5h.01M214.1 228.7h.01M236.0 229.6h.01M236.6 235.8h.01M242.3 225.1h.01M235.5 233.8h.01M218.7 227.8h.01M218.9 222.1h.01M246.3 227.3h.01M233.7 234.3h.01M240.5 221.3h.01M215.9 225.5h.01M235.6 235.2h.01M232.7 226.3h.01M236.7 226.8h.01M233.1 226.2h.01M229.6 224.3h.01M222.1 227.0h.01M228.4 227.1h.01M217.1 227.8h.01M223.4 225.2h.01M233.5 223.0h.01M229.4 235.0h.01M244.8 225.4h.01M240.7 222.1h.01M230.1 233.8h.01M228.5 223.5h.01M237.5 229.0h.01M222.9 235.5h.01M228.3 229.0h.01M223.1 234.5h.01M236.6 222.0h.01M215.2 230.1h.01M234.2 223.8h.01M218.9 227.7h.01M239.4 221.7h.01M230.7 231.0h.01M224.8 225.7h.01M220.3 225.1h.01M247.2 234.8h.01M221.9 227.1h.01M218.2 230.7h.01M247.7 232.8h.01M238.7 224.3h.01M230.3 220.6h.01M242.8 229.1h.01M219.3 228.8h.01M228.6 226.9h.01M218.3 225.8h.01M218.6 224.7h.01M246.0 227.5h.01M224.1 221.3h.01M234.1 225.3h.01M234.7 220.4h.01M230.8 229.6h.01M219.9 225.2h.01M226.1 228.3h.01M234.6 227.4h.01M246.1 231.2h.01M221.3 231.3h.01M223.4 221.3h.01M237.6 232.4h.01M219.0 230.1h.01M221.1 228.9h.01M224.2 230.3h.01M236.8 224.6h.01M219.6 234.5h.01M218.5 229.1h.01M248.0 229.8h.01M222.9 221.2h.01M230.9 224.7h.01M221.0 233.4h.01M237.2 232.8h.01M221.8 222.0h.01M231.4 228.2h.01M231.0 220.6h.01M236.1 221.9h.01M216.4 234.3h.01M221.9 230.9h.01M247.2 231.1h.01M223.5 233.1h.01M231.5 225.9h.01M235.0 229.9h.01M234.9 227.1h.01M237.1 233.4h.01M220.2 224.4h.01M219.7 223.7h.01M224.4 227.3h.01M246.8 227.4h.01M227.6 221.3h.01M243.9 234.9h.01M233.1 227.6h.01M222.4 228.4h.01M232.4 220.4h.01M233.9 222.5h.01M230.6 232.0h.01M237.4 225.6h.01M238.4 229.2h.01M225.6 225.3h.01M227.9 226.8h.01M218.7 230.3h.01M234.9 230.6h.01M235.6 230.4h.01M229.5 227.0h.01M233.3 223.1h.01M222.3 225.5h.01M238.5 225.4h.01M247.3 234.4h.01M227.7 226.7h.01M232.6 223.4h.01M219.7 234.3h.01M232.6 225.4h.01M222.5 224.7h.01M230.1 222.0h.01M219.1 231.9h.01M243.7 224.6h.01M225.3 226.0h.01M243.4 224.9h.01M226.1 231.4h.01M219.0 224.7h.01M220.7 232.8h.01M225.7 231.8h.01M241.5 222.7h.01M242.5 224.2h.01M230.3 232.0h.01M237.4 221.4h.01M231.1 224.4h.01M235.2 225.0h.01M231.6 226.5h.01M238.5 233.9h.01M245.1 232.5h.01M213.5 227.5h.01M239.9 231.7h.01M223.3 221.5h.01M218.6 228.7h.01M223.8 221.3h.01M229.8 227.8h.01M213.9 230.5h.01M237.0 230.1h.01M228.4 226.5h.01M226.0 220.4h.01M247.1 228.5h.01M230.4 221.8h.01M236.9 221.1h.01M216.0 231.2h.01M242.2 222.6h.01M217.1 231.5h.01M243.9 227.4h.01M236.8 224.3h.01M217.7 233.8h.01M235.7 228.4h.01M237.9 227.3h.01M225.0 235.2h.01M219.9 226.8h.01M223.4 229.2h.01M231.6 228.3h.01M245.7 226.5h.01M228.9 224.4h.01M240.2 224.8h.01M233.3 219.7h.01M218.8 232.2h.01M235.9 230.4h.01M234.0 224.9h.01M235.2 230.0h.01M237.6 220.6h.01M218.9 228.4h.01M214.5 228.4h.01M243.5 227.6h.01M236.3 226.1h.01M225.4 224.0h.01M235.4 228.1h.01M239.0 227.8h.01M221.3 228.8h.01M234.8 232.0h.01M239.6 229.2h.01M233.1 223.5h.01M243.1 223.9h.01M231.7 219.6h.01M228.5 228.2h.01M230.7 221.0h.01M218.4 226.6h.01M239.2 222.0h.01M247.0 230.0h.01M233.9 223.5h.01M235.7 221.2h.01M236.4 235.7h.01M239.0 221.7h.01M238.3 234.7h.01M226.4 224.8h.01M234.7 221.7h.01M231.7 221.3h.01M236.6 229.2h.01M240.1 223.4h.01M233.4 225.8h.01M239.7 229.4h.01M236.2 233.0h.01M219.9 226.3h.01M244.2 229.3h.01M238.1 221.9h.01M232.7 227.2h.01M218.4 222.9h.01M226.3 227.8h.01M228.7 231.9h.01M229.5 220.2h.01M218.4 225.8h.01M222.7 220.5h.01M234.2 230.2h.01M242.2 226.9h.01M219.7 232.9h.01M228.6 230.4h.01M233.1 220.0h.01M247.2 229.1h.01M228.6 226.4h.01M242.7 223.1h.01M222.5 225.3h.01M224.8 234.8h.01M244.1 227.6h.01M242.2 230.7h.01M235.3 234.1h.01M227.2 230.3h.01M215.7 230.6h.01M222.7 231.1h.01M225.2 229.8h.01M218.5 228.8h.01M231.8 229.5h.01M230.2 233.2h.01M228.2 228.5h.01M237.4 226.1h.01M229.3 220.1h.01M242.4 235.8h.01M217.6 225.3h.01M216.7 233.0h.01M231.3 223.9h.01M220.4 234.6h.01M229.4 231.7h.01M240.1 233.4h.01M240.3 227.0h.01M233.0 229.8h.01M219.8 223.7h.01M234.8 221.8h.01M232.8 232.1h.01M237.0 225.0h.01M217.7 226.3h.01M215.5 235.1h.01M236.8 225.7h.01M236.0 226.8h.01M236.5 224.9h.01M235.5 229.0h.01M217.4 226.6h.01M230.8 226.0h.01M239.0 231.8h.01M220.0 223.1h.01M220.1 222.0h.01M220.8 224.5h.01M242.5 227.3h.01M220.1 221.7h.01M216.4 224.7h.01M222.3 233.8h.01M230.2 233.8h.01M238.2 228.5h.01M244.2 232.8h.01M237.4 231.4h.01M212.7 229.1h.01M232.3 235.5h.01M235.4 220.2h.01M222.5 226.6h.01M215.7 231.0h.01M220.8 229.2h.01M225.3 222.1h.01M226.9 228.6h.01M236.1 224.4h.01M225.2 233.1h.01M229.1 230.8h.01M230.7 222.3h.01M226.7 231.9h.01M218.8 230.2h.01M224.4 228.1h.01M219.9 234.1h.01M222.0 228.8h.01M235.3 224.6h.01M212.0 232.8h.01M222.2 222.8h.01M217.0 224.8h.01M218.5 228.3h.01M215.4 234.1h.01M226.7 224.3h.01M222.4 226.8h.01M234.8 226.9h.01M240.3 235.1h.01M242.7 225.7h.01M240.9 224.4h.01M233.2 232.8h.01M229.5 231.4h.01M232.7 224.4h.01M237.8 233.2h.01M239.4 231.2h.01M217.2 224.7h.01M212.7 230.5h.01M218.6 224.0h.01M237.9 235.4h.01M245.2 231.5h.01M224.8 223.0h.01M224.8 230.0h.01M224.0 227.4h.01M217.2 232.8h.01M237.3 226.6h.01M222.0 220.8h.01M220.9 222.8h.01M227.5 226.8h.01M216.3 224.4h.01M246.0 229.5h.01M247.0 232.8h.01M237.8 232.5h.01M233.3 219.5h.01M239.9 221.7h.01M231.4 221.9h.01M233.9 222.2h.01M215.6 229.0h.01M224.3 235.4h.01M216.3 227.3h.01M226.7 220.0h.01M242.8 226.7h.01M220.7 223.2h.01M218.0 231.1h.01M236.3 223.1h.01M234.1 225.4h.01M216.7 227.1h.01M214.9 230.7h.01M219.1 235.4h.01M231.3 227.6h.01M214.8 231.2h.01M228.6 225.3h.01M222.4 226.2h.01M219.7 227.3h.01M241.2 233.3h.01M235.9 221.2h.01M217.9 227.7h.01M234.3 229.4h.01M233.1 232.4h.01M239.0 232.9h.01M231.9 234.0h.01M217.6 228.7h.01M214.1 234.4h.01M237.4 229.4h.01M223.6 223.4h.01M221.7 228.5h.01M215.9 231.1h.01M246.3 226.2h.01M237.9 234.6h.01M234.4 224.2h.01M226.5 225.5h.01M231.5 230.6h.01M243.8 223.7h.01M219.5 230.7h.01M232.8 226.2h.01M227.1 224.9h.01M222.3 232.7h.01M215.8 229.1h.01M236.1 224.4h.01M232.8 222.5h.01M233.3 223.0h.01M213.4 231.4h.01M237.2 231.1h.01M216.0 230.2h.01M223.8 224.6h.01M241.2 232.3h.01M230.3 219.7h.01M217.6 235.6h.01M230.7 223.8h.01M219.8 232.0h.01M243.1 224.9h.01M228.2 220.8h.01M230.7 229.1h.01M218.1 228.2h.01M229.2 230.7h.01M240.7 231.2h.01M223.6 224.5h.01M226.6 231.4h.01M235.0 226.9h.01M246.7 234.3h.01M226.2 221.8h.01M230.0 220.9h.01M228.6 229.9h.01M228.8 230.1h.01M237.5 226.4h.01M219.1 222.5h.01M234.3 221.0h.01M232.6 231.0h.01M238.2 223.9h.01M241.3 228.1h.01M226.2 220.6h.01M225.8 220.0h.01M224.8 235.9h.01M240.6 225.3h.01M227.7 226.3h.01M231.5 235.3h.01M218.7 225.8h.01M222.1 223.1h.01M228.4 225.7h.01M243.4 230.2h.01M221.8 227.6h.01M218.3 232.6h.01M224.3 227.2h.01M225.6 228.2h.01M243.5 224.5h.01M220.5 223.6h.01M236.7 223.5h.01M219.7 235.3h.01M232.5 221.9h.01M246.1 234.0h.01M224.1 229.7h.01M219.3 234.1h.01M234.7 226.2h.01M219.7 229.0h.01M238.6 226.1h.01M239.5 231.1h.01M237.7 223.8h.01M218.4 225.1h.01M224.4 224.9h.01M244.5 233.7h.01M244.8 226.1h.01M214.6 226.7h.01M219.4 228.7h.01M231.2 227.1h.01M229.3 220.8h.01M220.1 225.2h.01M227.4 224.1h.01M236.7 222.8h.01M240.8 228.3h.01M229.2 228.5h.01M227.9 235.1h.01M247.8 231.6h.01M245.2 231.1h.01M218.4 230.5h.01M228.4 221.9h.01M234.2 230.4h.01M222.0 222.9h.01M222.3 229.3h.01M229.3 232.8h.01M225.5 231.4h.01M239.4 228.0h.01M236.6 232.3h.01M224.9 234.9h.01M240.0 227.1h.01M220.7 235.3h.01M216.9 224.2h.01M222.7 224.7h.01M233.6 227.2h.01M229.3 227.7h.01M218.9 229.4h.01M222.4 227.8h.01M235.1 221.2h.01M213.5 228.5h.01M223.6 221.8h.01M220.4 233.1h.01M221.3 229.3h.01M220.2 223.0h.01M226.8 226.9h.01M231.7 230.9h.01M228.8 233.8h.01M244.9 234.3h.01M244.6 224.9h.01M226.8 235.6h.01M225.6 235.0h.01M238.4 227.7h.01M216.4 224.9h.01M217.1 227.1h.01M240.6 226.4h.01M220.7 224.7h.01M237.7 226.6h.01M224.4 221.3h.01M217.5 235.0h.01M217.1 231.2h.01M224.8 226.8h.01M247.0 229.9h.01M229.7 225.2h.01M237.1 234.4h.01M237.1 234.3h.01M241.6 224.0h.01M233.5 223.7h.01M232.6 220.1h.01M229.7 232.3h.01M237.3 231.1h.01M220.4 224.4h.01M215.0 226.6h.01M223.8 225.2h.01M218.9 234.5h.01M230.5 228.3h.01M240.8 227.9h.01M242.5 235.0h.01M233.5 232.1h.01M226.3 231.5h.01M228.9 222.7h.01M231.4 230.4h.01M221.1 226.1h.01M217.6 231.7h.01M221.5 225.3h.01M234.9 225.8h.01M219.3 227.3h.01M231.4 226.9h.01M237.9 224.1h.01M228.5 221.5h.01M217.7 226.9h.01M227.8 229.6h.01M216.2 233.7h.01M214.5 226.6h.01M224.8 231.7h.01M231.0 225.8h.01M233.1 221.3h.01M235.0 220.5h.01M227.4 221.6h.01M220.6 234.6h.01M232.0 226.9h.01M224.5 228.0h.01M223.9 221.2h.01M221.7 231.0h.01M231.1 221.7h.01M214.8 227.2h.01M213.1 229.3h.01M219.8 224.8h.01M222.4 223.1h.01M233.2 228.9h.01" stroke="#141414" stroke-width="0.88" stroke-linecap="round" fill="none"/>
<path d="M257.1 246.4h.01M252.6 259.7h.01M259.3 244.0h.01M252.0 256.5h.01M255.8 263.7h.01M255.3 263.5h.01M260.8 257.5h.01M267.1 255.1h.01M251.5 256.8h.01M256.8 241.1h.01M258.2 258.2h.01M260.2 265.3h.01M262.7 262.8h.01M259.0 246.1h.01M257.2 243.8h.01M254.0 246.6h.01M259.9 243.2h.01M254.9 257.5h.01M256.8 253.5h.01M265.2 249.7h.01M267.1 247.5h.01M253.2 253.6h.01M265.4 257.9h.01M263.7 264.7h.01M261.5 248.2h.01M259.4 245.3h.01M257.0 251.3h.01M261.2 255.0h.01M254.5 251.3h.01M252.3 249.3h.01M262.8 248.1h.01M262.1 244.7h.01M267.6 259.2h.01M256.4 251.4h.01M262.2 245.7h.01M251.4 252.3h.01M267.4 246.9h.01M261.6 264.5h.01M258.0 255.6h.01M265.7 253.2h.01M254.4 249.0h.01M252.2 249.5h.01M268.1 257.2h.01M254.8 261.0h.01M263.7 247.0h.01M263.0 251.9h.01M266.2 258.8h.01M257.7 258.3h.01M257.3 260.1h.01M264.5 265.5h.01M254.4 254.5h.01M253.5 244.3h.01M259.3 244.1h.01M257.7 264.5h.01M259.2 268.5h.01M253.9 254.6h.01M266.4 257.9h.01M261.9 255.3h.01M260.7 249.9h.01M259.0 252.8h.01M265.8 245.2h.01M259.5 243.9h.01M256.5 259.5h.01M251.3 255.7h.01M262.4 256.1h.01M258.3 245.8h.01M264.1 244.1h.01M258.3 251.2h.01M258.0 248.0h.01M259.9 252.3h.01M266.6 263.1h.01M257.3 261.5h.01M260.4 263.5h.01M260.9 253.8h.01M257.4 247.3h.01M267.1 262.7h.01M263.0 247.1h.01M259.4 259.9h.01M269.3 248.6h.01M260.5 254.6h.01M257.3 252.2h.01M259.3 250.6h.01M259.1 254.1h.01M255.0 249.5h.01M261.3 258.8h.01M260.3 250.4h.01M257.5 255.5h.01M257.2 258.6h.01M259.8 254.0h.01M266.7 254.6h.01M257.5 257.6h.01M263.9 257.0h.01M261.1 248.5h.01M257.3 241.5h.01M257.9 258.5h.01M258.7 247.4h.01M263.4 263.3h.01M256.2 260.0h.01M260.7 259.2h.01M270.0 250.6h.01M253.8 252.0h.01M261.5 248.9h.01M260.0 257.8h.01M253.5 265.1h.01M264.1 247.9h.01M258.5 251.1h.01M259.1 264.3h.01M262.0 259.0h.01M266.4 263.2h.01M255.5 251.4h.01M254.0 255.8h.01M263.4 255.8h.01M264.8 243.7h.01M260.7 243.4h.01M257.3 244.8h.01M255.4 257.0h.01M255.5 259.0h.01M252.6 251.8h.01M264.2 252.7h.01M261.4 243.3h.01M256.3 250.5h.01M263.4 249.3h.01M263.7 248.4h.01M263.7 259.9h.01M255.0 252.1h.01M263.8 250.4h.01M256.3 255.4h.01M261.6 259.1h.01M266.4 251.7h.01M267.4 260.9h.01M252.1 260.7h.01M252.2 254.7h.01M257.7 247.9h.01M259.9 256.8h.01M261.8 259.3h.01M257.6 248.1h.01M258.6 268.2h.01M258.3 259.0h.01M263.5 255.2h.01M266.5 262.6h.01M257.1 252.5h.01M259.2 243.5h.01M257.5 249.9h.01M259.9 256.7h.01M254.3 260.8h.01M261.3 268.0h.01M251.9 248.8h.01M267.1 262.5h.01M263.9 255.6h.01M259.1 257.3h.01M257.2 251.2h.01M263.3 265.0h.01M262.5 251.9h.01M265.5 244.1h.01M260.9 246.0h.01M260.2 246.8h.01M257.0 253.1h.01M253.2 257.1h.01M261.3 251.9h.01M259.9 248.5h.01M258.5 251.2h.01M266.5 261.2h.01M256.4 248.8h.01M260.0 246.8h.01M266.8 245.8h.01M261.4 241.7h.01M260.6 254.3h.01M268.1 248.0h.01M264.8 254.0h.01M255.1 253.1h.01M260.5 257.4h.01M262.6 252.6h.01M262.4 263.1h.01M254.2 249.6h.01M263.5 246.7h.01M266.0 257.5h.01M257.8 256.4h.01M257.1 241.6h.01M253.5 260.1h.01M260.8 255.3h.01M255.8 253.2h.01M263.9 247.2h.01M266.0 257.0h.01M258.0 240.7h.01M255.5 249.2h.01M259.3 253.3h.01M265.2 248.2h.01M261.7 265.4h.01M266.7 258.0h.01M262.0 255.1h.01M262.1 247.8h.01M258.7 246.3h.01M259.9 265.7h.01M259.7 258.5h.01M259.6 251.8h.01M257.4 255.7h.01M257.7 241.7h.01M263.0 244.1h.01M257.2 241.0h.01M256.5 250.0h.01M263.0 254.1h.01M257.6 257.0h.01M254.3 261.5h.01M264.3 246.4h.01M264.9 251.0h.01M256.2 261.8h.01M259.4 245.9h.01M269.2 249.3h.01M259.2 247.7h.01M256.7 248.5h.01M253.4 256.7h.01M255.1 258.7h.01M259.2 255.2h.01M264.8 243.1h.01M260.4 263.6h.01M265.4 247.0h.01M260.2 256.5h.01M258.3 254.8h.01M256.7 262.7h.01M256.9 266.0h.01M265.4 261.7h.01M260.0 248.9h.01M264.0 258.3h.01M257.0 248.7h.01M256.6 245.9h.01M260.6 266.9h.01M254.8 259.3h.01M254.3 248.4h.01M254.0 257.6h.01M263.3 255.6h.01M260.5 251.6h.01M257.7 265.9h.01M261.1 250.7h.01M253.7 249.8h.01M260.0 259.7h.01M261.3 253.9h.01M262.2 252.1h.01M259.1 263.8h.01M251.9 248.7h.01M255.2 246.9h.01M258.9 249.0h.01M251.8 249.6h.01M259.1 249.1h.01M255.0 244.1h.01M259.5 269.1h.01M257.2 244.6h.01M251.6 248.9h.01M257.7 269.0h.01M253.2 259.9h.01M266.6 247.9h.01M254.8 244.8h.01M257.9 250.2h.01M266.1 256.9h.01M267.6 253.3h.01M262.1 241.7h.01M258.9 252.4h.01M259.0 241.6h.01M255.7 246.1h.01M265.8 259.3h.01M258.1 244.0h.01M258.1 253.2h.01M269.9 248.5h.01M258.2 249.7h.01M264.6 253.1h.01M261.7 263.4h.01M253.3 248.1h.01M266.4 259.6h.01M262.0 255.3h.01M254.2 253.3h.01M264.3 263.6h.01M254.5 255.2h.01M254.8 245.0h.01M266.2 261.5h.01M260.5 250.9h.01M262.2 264.0h.01M255.5 254.0h.01M260.0 267.3h.01M262.2 248.7h.01M265.9 250.0h.01M259.7 270.0h.01M256.9 246.7h.01M265.9 257.5h.01M256.9 252.9h.01M260.2 254.3h.01M267.0 249.3h.01M260.3 268.5h.01M252.7 254.1h.01M254.2 244.0h.01M260.1 244.6h.01M267.9 261.1h.01M268.1 260.0h.01M251.6 251.3h.01M260.4 269.0h.01M267.9 248.2h.01M256.8 266.9h.01M269.4 250.9h.01M262.6 250.2h.01M258.0 249.7h.01M253.6 247.9h.01M261.3 249.8h.01M256.4 252.1h.01M259.0 245.2h.01M267.1 253.2h.01M260.2 248.0h.01M254.8 255.1h.01M259.5 264.2h.01M259.9 257.8h.01M257.3 249.0h.01M261.1 244.8h.01M257.8 251.8h.01M258.4 250.6h.01M263.6 243.3h.01M259.9 259.9h.01M265.4 265.6h.01M261.3 243.1h.01M262.3 265.3h.01M252.3 255.8h.01M266.1 260.7h.01M258.6 246.6h.01M257.6 266.3h.01M257.1 258.9h.01M258.1 250.8h.01M254.0 262.4h.01M255.1 250.2h.01M260.5 254.9h.01M252.1 255.7h.01M260.1 258.4h.01M258.5 255.3h.01M253.0 247.9h.01M257.5 255.5h.01M256.1 245.2h.01M252.1 248.6h.01M257.3 260.7h.01M255.6 255.8h.01M259.4 256.0h.01M263.4 265.2h.01M252.3 254.0h.01M261.6 249.2h.01M263.0 246.9h.01M253.5 249.4h.01M257.0 254.9h.01M254.9 246.7h.01M258.6 243.7h.01M268.2 256.7h.01M260.7 247.5h.01M256.9 251.7h.01M259.0 266.7h.01M254.2 257.2h.01M265.3 256.0h.01M254.2 256.6h.01M260.7 261.9h.01M263.5 247.9h.01M259.0 251.5h.01M259.4 253.6h.01M260.7 258.6h.01M257.2 248.1h.01M263.0 257.0h.01M255.5 248.9h.01M267.4 247.2h.01M256.0 246.9h.01M257.8 249.2h.01M267.0 249.5h.01M256.0 262.7h.01M252.8 245.6h.01M268.7 250.7h.01M262.2 261.2h.01M253.2 262.0h.01M263.5 257.0h.01M253.1 249.0h.01M251.6 256.6h.01M254.6 244.7h.01M268.4 257.1h.01M262.1 253.2h.01M255.4 245.2h.01M267.0 256.8h.01M252.7 248.3h.01M260.8 251.2h.01M257.2 267.9h.01M264.6 254.0h.01M262.6 246.8h.01" stroke="#2eb0cc" stroke-width="0.84" stroke-linecap="round" fill="none"/>
<path d="M273.5 248.5h.01M266.7 261.9h.01M273.6 263.7h.01M265.8 258.1h.01M269.4 253.2h.01M278.5 248.6h.01M282.8 253.6h.01M272.9 254.9h.01M273.6 259.2h.01M276.7 255.8h.01M274.7 271.3h.01M283.2 259.9h.01M268.1 257.5h.01M273.4 254.3h.01M281.0 251.6h.01M274.0 275.1h.01M275.3 258.2h.01M274.6 268.5h.01M272.4 256.3h.01M266.4 269.6h.01M287.0 273.0h.01M277.8 255.5h.01M276.5 260.2h.01M277.7 254.0h.01M279.4 260.7h.01M272.0 262.4h.01M279.7 265.0h.01M274.7 262.6h.01M274.9 273.2h.01M280.9 254.0h.01M284.8 268.1h.01M274.1 262.2h.01M266.0 260.2h.01M281.5 260.9h.01M277.4 263.9h.01M272.6 254.3h.01M273.7 255.1h.01M282.4 256.1h.01M273.2 255.4h.01M273.7 263.3h.01M269.3 266.1h.01M276.9 256.8h.01M286.0 257.9h.01M284.1 258.9h.01M284.2 256.6h.01M276.4 260.0h.01M273.8 250.2h.01M271.2 262.6h.01M274.7 264.9h.01M281.2 267.8h.01M269.2 262.5h.01M278.3 259.9h.01M271.6 254.1h.01M276.4 262.4h.01M276.6 247.1h.01M274.9 267.4h.01M280.0 268.4h.01M283.3 263.0h.01M271.5 260.3h.01M272.2 263.5h.01M275.0 255.9h.01M290.0 266.7h.01M268.4 258.3h.01M278.7 268.9h.01M280.0 255.1h.01M276.6 274.3h.01M269.8 266.3h.01M276.4 253.2h.01M283.9 259.5h.01M277.5 254.0h.01M290.8 271.3h.01M277.8 258.8h.01M268.3 258.5h.01M276.6 265.9h.01M284.0 254.7h.01M272.7 271.9h.01M280.4 261.2h.01M268.7 263.8h.01M281.8 264.4h.01M277.7 264.8h.01M276.7 259.4h.01M278.6 268.4h.01M274.9 251.2h.01M278.9 253.1h.01M289.7 267.1h.01M277.7 264.2h.01M271.6 253.3h.01M274.7 264.4h.01M277.3 264.3h.01M278.9 260.5h.01M285.8 267.8h.01M270.7 262.8h.01M269.4 274.3h.01M275.2 257.7h.01M283.2 256.8h.01M283.6 256.6h.01M277.9 250.6h.01M279.6 260.3h.01M279.1 262.8h.01M278.1 258.9h.01M278.7 250.9h.01M280.6 257.6h.01M273.9 266.4h.01M273.0 257.8h.01M278.2 269.3h.01M272.9 255.3h.01M281.2 258.8h.01M268.8 272.1h.01M278.9 256.0h.01M275.7 255.0h.01M266.5 264.9h.01M277.8 248.8h.01M279.7 249.7h.01M276.6 248.6h.01M278.7 257.8h.01M275.2 261.5h.01M281.2 257.2h.01M275.2 253.2h.01M283.0 255.4h.01M272.3 259.0h.01M274.9 273.3h.01M270.0 261.2h.01M272.9 251.8h.01M278.8 265.4h.01M270.0 255.3h.01M272.3 258.4h.01M279.7 257.8h.01M271.1 265.0h.01M274.6 259.1h.01M272.1 269.1h.01M279.0 252.0h.01M268.0 262.2h.01M282.7 255.2h.01M274.7 274.1h.01M278.7 255.2h.01M281.3 268.4h.01M277.6 250.2h.01M284.2 272.0h.01M271.9 254.2h.01M268.6 258.1h.01M281.1 262.5h.01M272.4 268.2h.01M275.6 274.8h.01M278.4 252.9h.01M268.4 270.1h.01M271.7 259.2h.01M275.1 265.0h.01M285.8 259.6h.01M288.0 265.8h.01M280.1 265.8h.01M278.5 265.7h.01M279.6 256.5h.01M276.9 254.5h.01M267.1 260.2h.01M266.4 252.8h.01M269.2 252.3h.01M265.7 261.2h.01M272.1 264.9h.01M269.8 256.0h.01M274.6 255.6h.01M279.1 265.2h.01M280.6 260.9h.01M276.3 264.9h.01M273.5 249.9h.01M285.1 273.6h.01M268.7 253.0h.01M274.6 263.4h.01M280.9 259.5h.01M276.3 249.7h.01M277.6 261.0h.01M274.0 257.7h.01M280.5 251.1h.01M271.9 263.6h.01M280.8 256.1h.01M277.9 266.4h.01M270.0 262.9h.01M278.0 263.4h.01M275.3 246.7h.01M280.3 260.8h.01M290.4 270.6h.01M271.7 257.6h.01M282.2 264.1h.01M265.1 262.4h.01M288.4 268.5h.01M279.5 266.5h.01M280.1 266.6h.01M265.3 263.6h.01M267.5 260.6h.01M273.9 253.2h.01M274.3 248.9h.01M274.7 260.3h.01M284.4 260.6h.01M270.9 269.3h.01M267.1 270.0h.01M272.5 255.5h.01M271.0 250.2h.01M274.8 274.8h.01M268.3 269.9h.01M266.0 255.8h.01M280.9 267.9h.01M269.5 256.4h.01M282.5 253.4h.01M271.2 252.3h.01M271.0 257.6h.01M281.2 255.6h.01M277.6 255.9h.01M273.8 261.8h.01M280.2 258.5h.01M268.8 267.6h.01M267.8 256.1h.01M276.9 264.4h.01M275.1 257.4h.01M275.0 257.2h.01M285.9 273.6h.01M273.3 261.2h.01M276.6 270.3h.01M279.7 255.4h.01M271.6 261.5h.01M273.9 258.6h.01M271.5 266.8h.01M279.8 267.5h.01M279.1 259.0h.01M276.2 257.2h.01M269.7 258.8h.01M280.5 265.7h.01M279.6 255.8h.01M273.2 257.7h.01M270.8 256.5h.01M274.1 260.6h.01M272.6 265.4h.01M267.2 269.0h.01M276.4 256.5h.01M265.7 257.2h.01M281.0 256.6h.01M271.8 249.3h.01M281.1 263.5h.01M266.4 265.3h.01M284.3 256.6h.01M277.0 253.2h.01M270.7 253.3h.01M278.2 270.3h.01M280.6 265.3h.01M272.8 258.4h.01M270.0 261.8h.01M281.9 268.6h.01M279.3 250.4h.01M269.5 257.6h.01M278.9 272.4h.01M275.5 254.2h.01M277.6 267.0h.01M264.3 259.8h.01M284.6 258.7h.01M279.7 264.3h.01M278.5 255.7h.01M272.9 278.1h.01M270.2 263.5h.01M267.5 267.2h.01M266.8 251.7h.01M265.3 255.3h.01M286.3 268.3h.01M275.8 258.3h.01M273.1 261.2h.01M284.9 259.8h.01M267.2 268.1h.01M274.9 256.6h.01M266.0 258.6h.01M278.7 262.5h.01M276.4 261.6h.01M275.1 253.6h.01M282.4 261.8h.01M278.4 259.9h.01M277.3 257.1h.01M275.7 255.9h.01M267.7 255.8h.01M274.3 255.8h.01M266.0 262.5h.01M275.4 269.0h.01M282.3 258.8h.01M267.0 259.1h.01M276.5 252.0h.01M279.8 259.5h.01M272.3 255.3h.01M267.1 263.5h.01M277.4 255.8h.01M279.7 259.7h.01M275.0 253.6h.01M265.4 261.5h.01M280.4 257.0h.01M284.5 271.6h.01M272.8 256.7h.01M273.0 272.2h.01M281.4 259.5h.01M274.8 262.9h.01M270.2 261.4h.01M274.4 256.7h.01M269.2 262.0h.01M265.7 256.4h.01M273.9 271.8h.01M280.1 252.7h.01M279.0 252.6h.01M279.7 266.1h.01M278.8 252.8h.01M272.4 258.1h.01M267.3 261.7h.01M277.6 253.5h.01M272.7 263.9h.01M286.7 270.4h.01M278.3 262.3h.01M277.9 266.1h.01M268.3 266.2h.01M276.8 261.1h.01M271.7 277.1h.01M280.2 251.1h.01M285.0 262.9h.01M276.3 263.1h.01M279.1 266.3h.01M282.6 257.5h.01M267.2 255.7h.01M278.3 255.1h.01M269.2 263.3h.01M279.9 256.9h.01M266.4 265.2h.01M283.1 255.6h.01M266.7 253.6h.01M277.9 257.7h.01M276.5 256.5h.01M276.2 256.1h.01M288.0 268.1h.01M278.6 256.4h.01M270.6 271.6h.01M278.6 250.1h.01M268.5 255.3h.01M282.9 271.6h.01M284.1 265.0h.01M275.9 264.6h.01M287.3 268.9h.01M266.0 262.8h.01M285.2 259.1h.01M272.5 263.5h.01M285.3 267.9h.01M267.7 261.3h.01M287.1 265.7h.01M271.6 259.6h.01M282.3 265.9h.01M272.8 259.2h.01M281.2 269.4h.01M279.9 255.0h.01M280.8 260.8h.01M279.9 267.3h.01M274.2 265.6h.01M284.8 263.0h.01M275.4 246.8h.01M267.3 264.6h.01M271.1 258.8h.01M273.5 267.8h.01M277.6 257.0h.01M271.7 269.2h.01M281.3 261.5h.01M281.5 254.4h.01M282.3 264.2h.01M275.4 255.8h.01M273.4 253.3h.01M278.2 266.1h.01M283.2 260.3h.01M273.2 264.0h.01M276.4 254.8h.01M268.3 266.5h.01M278.8 271.8h.01M277.1 264.4h.01M266.2 260.9h.01M289.1 270.4h.01M273.0 269.2h.01M268.6 256.3h.01M277.9 254.0h.01M277.3 249.5h.01M267.5 261.4h.01M277.6 259.5h.01M275.0 249.9h.01M275.7 258.5h.01M275.4 268.6h.01M266.5 254.0h.01M281.2 255.2h.01M267.8 265.6h.01M273.6 260.1h.01M271.5 267.1h.01M283.1 265.5h.01M275.3 246.3h.01M286.7 271.1h.01M291.3 269.9h.01M269.1 259.2h.01M273.3 254.6h.01M273.3 258.4h.01M271.3 270.9h.01M278.5 255.5h.01M270.3 261.8h.01M278.0 266.4h.01M277.3 260.7h.01M280.4 257.4h.01M278.9 266.0h.01M269.5 269.5h.01M287.6 265.4h.01M271.9 251.0h.01M285.3 258.6h.01M275.6 259.7h.01M265.9 267.9h.01M268.9 254.7h.01M272.3 258.5h.01M267.6 263.7h.01M275.9 265.8h.01M267.6 267.8h.01M285.5 260.9h.01M272.6 259.0h.01M277.5 249.8h.01M272.1 258.6h.01M279.6 270.9h.01M267.1 260.7h.01M270.8 253.4h.01M283.8 265.3h.01M279.2 268.0h.01M271.4 249.2h.01M278.2 269.5h.01M277.8 259.4h.01M266.2 252.0h.01M285.9 266.5h.01M277.5 257.4h.01M287.6 267.6h.01M274.6 259.8h.01M271.9 255.5h.01M275.5 264.4h.01M266.3 253.6h.01M273.6 246.8h.01M273.9 249.0h.01M286.4 261.9h.01M288.5 268.4h.01M282.6 260.7h.01M275.5 253.5h.01M264.5 259.5h.01M267.2 255.3h.01M275.0 255.0h.01M286.8 263.2h.01M268.9 269.4h.01M285.7 257.7h.01M279.2 267.0h.01M277.3 250.8h.01M285.3 268.3h.01M275.3 262.8h.01M267.8 259.5h.01M273.0 263.0h.01M276.9 258.7h.01M273.5 255.4h.01M281.7 250.9h.01M281.2 265.9h.01M279.9 256.5h.01M268.8 259.6h.01M284.0 261.3h.01M280.6 252.9h.01M274.9 263.7h.01M280.1 265.6h.01M267.8 261.1h.01M277.9 254.5h.01M265.9 264.3h.01M274.7 262.9h.01M275.5 265.2h.01M274.2 264.1h.01M270.4 263.8h.01M278.3 273.8h.01M275.2 265.1h.01M279.6 259.9h.01M282.7 273.8h.01M280.5 257.9h.01M282.9 265.8h.01M274.0 258.8h.01M273.0 269.9h.01M273.5 260.0h.01M272.7 251.7h.01M274.5 256.7h.01M281.1 257.2h.01M281.4 268.4h.01M272.8 258.8h.01M276.1 258.3h.01M273.6 251.1h.01M285.7 271.6h.01M277.2 266.1h.01M265.2 261.8h.01M274.7 266.2h.01M276.8 258.9h.01M281.3 265.1h.01M273.0 262.9h.01M271.7 260.7h.01M272.0 250.0h.01M283.8 266.5h.01M281.9 256.2h.01M271.3 260.0h.01M280.7 261.0h.01M275.2 264.1h.01M274.4 249.5h.01M269.0 261.3h.01M285.0 267.8h.01M265.2 265.2h.01M279.0 269.3h.01M275.0 257.1h.01M267.6 260.8h.01M281.3 269.9h.01M278.8 249.5h.01M274.5 263.1h.01M278.7 256.4h.01M268.9 261.4h.01M271.5 263.1h.01M273.4 255.2h.01M270.9 265.3h.01M270.4 257.4h.01M265.3 263.0h.01M278.2 256.1h.01M266.7 264.0h.01M289.2 267.4h.01M288.8 264.5h.01M274.8 261.1h.01M284.4 260.8h.01M274.9 261.4h.01M279.2 260.0h.01M266.8 270.2h.01M265.3 258.8h.01M277.2 258.7h.01M273.3 263.2h.01M270.2 269.9h.01M277.8 266.7h.01M277.7 248.7h.01M278.8 264.1h.01M283.5 261.4h.01M265.6 259.6h.01M273.5 272.8h.01M275.3 257.7h.01M271.2 267.1h.01M279.1 260.4h.01M265.9 260.0h.01M277.1 259.5h.01M279.6 258.3h.01M273.8 263.0h.01M267.7 257.2h.01M267.6 264.4h.01M282.3 266.0h.01M272.3 255.1h.01M268.9 255.8h.01M267.5 263.9h.01M276.4 256.9h.01M280.8 264.9h.01M272.7 262.6h.01M284.8 268.8h.01M267.1 264.0h.01M269.0 271.3h.01M280.2 267.3h.01M281.7 252.6h.01M274.4 263.1h.01M266.7 256.5h.01M276.3 261.0h.01M269.5 263.6h.01M286.0 262.5h.01M272.4 273.3h.01M272.5 262.2h.01M267.9 266.7h.01" stroke="#e84e5c" stroke-width="0.84" stroke-linecap="round" fill="none"/>
<path d="M273.0 273.8h.01M278.9 269.1h.01M277.5 270.0h.01M276.3 270.1h.01M279.3 274.9h.01M276.8 266.2h.01M276.3 272.8h.01M271.8 270.1h.01M284.9 272.0h.01M283.0 277.6h.01M267.6 276.1h.01M276.2 272.2h.01M284.8 276.0h.01M277.1 268.8h.01M289.1 273.9h.01M271.9 272.5h.01M282.6 270.2h.01M276.8 276.8h.01M282.2 273.9h.01M282.6 271.0h.01M287.4 276.3h.01M265.7 271.3h.01M271.8 279.9h.01M281.8 276.0h.01M278.5 269.5h.01M282.0 274.3h.01M281.6 268.1h.01M268.5 271.4h.01M273.9 268.7h.01M282.1 279.4h.01M279.3 277.4h.01M274.4 271.7h.01M282.0 268.3h.01M284.1 276.4h.01M273.6 280.0h.01M286.6 276.8h.01M276.8 274.5h.01M282.0 269.9h.01M287.7 275.0h.01M276.6 275.1h.01M277.4 271.9h.01M278.9 278.8h.01M288.6 272.0h.01M277.2 271.7h.01M285.5 278.4h.01M279.4 274.8h.01M268.4 274.1h.01M272.3 269.0h.01M282.1 276.9h.01M273.0 278.6h.01M271.1 279.3h.01M278.0 270.4h.01M272.8 271.3h.01M277.2 278.7h.01M270.3 273.4h.01M267.3 268.3h.01M276.7 271.9h.01M272.2 278.6h.01M266.0 266.2h.01M273.4 269.8h.01M284.9 271.1h.01M267.2 273.5h.01M290.4 273.8h.01M266.5 269.9h.01M284.9 276.8h.01M278.3 272.1h.01M266.1 273.6h.01M276.2 268.3h.01M284.3 269.6h.01M271.2 270.7h.01M279.5 273.8h.01M284.8 272.1h.01M275.9 272.3h.01M272.4 277.5h.01M285.3 278.6h.01M283.8 279.1h.01M271.9 276.3h.01M290.6 272.3h.01M280.4 269.7h.01M281.2 275.6h.01M265.8 267.1h.01M276.3 276.8h.01M270.9 270.4h.01M285.7 272.0h.01M267.1 274.1h.01M272.5 270.0h.01M286.3 270.0h.01M270.6 269.3h.01M277.3 273.9h.01M275.5 269.6h.01" stroke="#f08a96" stroke-width="0.76" stroke-linecap="round" fill="none"/>
<circle cx="202.3" cy="317.2" r="1.25" fill="#111"/>
<text x="0" y="0" font-size="6.3" fill="#2a2a2a" stroke="#2a2a2a" stroke-width="0.12" text-anchor="start" transform="translate(206.70,319.40) scale(0.9,1)">MSC_Ctrl</text>
<circle cx="251.2" cy="317.2" r="1.25" fill="#8a8a8a"/>
<text x="0" y="0" font-size="6.3" fill="#2a2a2a" stroke="#2a2a2a" stroke-width="0.12" text-anchor="start" transform="translate(255.60,319.40) scale(0.9,1)">MSC_Sh</text>
<circle cx="202.3" cy="325.3" r="1.25" fill="#2aa9c9"/>
<text x="0" y="0" font-size="6.3" fill="#2a2a2a" stroke="#2a2a2a" stroke-width="0.12" text-anchor="start" transform="translate(206.70,327.50) scale(0.9,1)">MSC_Gr.Early</text>
<circle cx="251.2" cy="325.3" r="1.25" fill="#e8505e"/>
<text x="0" y="0" font-size="6.3" fill="#2a2a2a" stroke="#2a2a2a" stroke-width="0.12" text-anchor="start" transform="translate(255.60,327.50) scale(0.9,1)">MSC_Gr.Late</text>
<defs><clipPath id="cL"><circle cx="332.0" cy="245.7" r="27.3"/></clipPath><clipPath id="cR"><circle cx="365.4" cy="245.7" r="27.6"/></clipPath></defs>
<circle cx="332.0" cy="245.7" r="27.3" fill="#f07684" />
<circle cx="365.4" cy="245.7" r="27.6" fill="#f6b3ba" />
<circle cx="349.4" cy="276.2" r="26.6" fill="#4ab5cc" />
<g clip-path="url(#cL)">
<circle cx="365.4" cy="245.7" r="27.6" fill="#df4a5e" />
<circle cx="349.4" cy="276.2" r="26.6" fill="#8a5d73" />
</g>
<g clip-path="url(#cR)">
<circle cx="349.4" cy="276.2" r="26.6" fill="#7e99a9" />
<g clip-path="url(#cL)">
<circle cx="349.4" cy="276.2" r="26.6" fill="#973a52" />
</g></g>
<circle cx="332.0" cy="245.7" r="27.3" fill="none" stroke="#e0606e" stroke-width="0.7"/>
<circle cx="365.4" cy="245.7" r="27.6" fill="none" stroke="#f0a0aa" stroke-width="0.7"/>
<circle cx="349.4" cy="276.2" r="26.6" fill="none" stroke="#2d9ab6" stroke-width="0.8"/>
<text x="327.5" y="245.6" font-size="5.0" fill="#ffffff" stroke="#ffffff" stroke-width="0.05" text-anchor="middle" fill-opacity="0.9">41</text>
<text x="347.7" y="242.2" font-size="5.0" fill="#ffffff" stroke="#ffffff" stroke-width="0.05" text-anchor="middle" fill-opacity="0.9">251</text>
<text x="370.8" y="245.6" font-size="5.0" fill="#ffffff" stroke="#ffffff" stroke-width="0.05" text-anchor="middle" fill-opacity="0.9">246</text>
<text x="348.6" y="257.8" font-size="5.0" fill="#ffffff" stroke="#ffffff" stroke-width="0.05" text-anchor="middle" fill-opacity="0.9">60</text>
<text x="336.9" y="263.7" font-size="5.0" fill="#ffffff" stroke="#ffffff" stroke-width="0.05" text-anchor="middle" fill-opacity="0.9">0</text>
<text x="362.0" y="263.7" font-size="5.0" fill="#ffffff" stroke="#ffffff" stroke-width="0.05" text-anchor="middle" fill-opacity="0.9">87</text>
<text x="349.4" y="283.3" font-size="5.0" fill="#ffffff" stroke="#ffffff" stroke-width="0.05" text-anchor="middle" fill-opacity="0.9">35</text>
<text x="0" y="0" font-size="6.4" text-anchor="middle" transform="translate(327.50,198.70) scale(0.94,1)"><tspan fill="#ea5f6c" stroke="#ea5f6c" stroke-width="0.06">MSC_Gr.Late</tspan></text>
<text x="0" y="0" font-size="6.4" text-anchor="middle" transform="translate(327.50,206.20) scale(0.94,1)"><tspan fill="#222" stroke="#222" stroke-width="0.2">vs </tspan><tspan fill="#2ea3c4" stroke="#2ea3c4" stroke-width="0.06">MSC_Gr.Early</tspan></text>
<text x="0" y="0" font-size="6.4" text-anchor="middle" transform="translate(327.50,213.20) scale(0.94,1)"><tspan fill="#222" stroke="#222" stroke-width="0.2">(352 genes)</tspan></text>
<text x="0" y="0" font-size="6.4" text-anchor="middle" transform="translate(375.40,198.70) scale(0.94,1)"><tspan fill="#ea5f6c" stroke="#ea5f6c" stroke-width="0.06">MSC_Gr.Late</tspan></text>
<text x="0" y="0" font-size="6.4" text-anchor="middle" transform="translate(375.60,206.20) scale(0.94,1)"><tspan fill="#222" stroke="#222" stroke-width="0.2">vs </tspan><tspan fill="#a0a0a0" stroke="#a0a0a0" stroke-width="0.06">MSC_Sh</tspan></text>
<text x="0" y="0" font-size="6.4" text-anchor="middle" transform="translate(375.60,213.20) scale(0.94,1)"><tspan fill="#222" stroke="#222" stroke-width="0.2">(646 genes)</tspan></text>
<text x="0" y="0" font-size="6.4" text-anchor="middle" transform="translate(349.50,314.20) scale(0.94,1)"><tspan fill="#2ea3c4" stroke="#2ea3c4" stroke-width="0.06">MSC_Gr.Early</tspan></text>
<text x="0" y="0" font-size="6.4" text-anchor="middle" transform="translate(349.50,321.10) scale(0.94,1)"><tspan fill="#222" stroke="#222" stroke-width="0.2">vs </tspan><tspan fill="#a8a8a8" stroke="#a8a8a8" stroke-width="0.06">MSC_Sh</tspan></text>
<text x="0" y="0" font-size="6.4" text-anchor="middle" transform="translate(349.50,328.20) scale(0.94,1)"><tspan fill="#222" stroke="#222" stroke-width="0.2">(182 genes)</tspan></text>
<rect x="444.60" y="193.80" width="10.30" height="2.30" fill="#111111" />
<rect x="454.90" y="193.80" width="23.50" height="2.30" fill="#9a9a9a" />
<rect x="478.40" y="193.80" width="4.60" height="2.30" fill="#3ab0d0" />
<rect x="483.00" y="193.80" width="6.00" height="2.30" fill="#e8506a" />
<path d="M445.2 197.7v9.56M447.4 197.7v9.56M455.1 197.7v9.56" stroke="#581848" stroke-width="1.46" fill="none"/>
<path d="M446.3 197.7v9.56" stroke="#781870" stroke-width="1.46" fill="none"/>
<path d="M448.5 197.7v9.56M449.6 197.7v9.56" stroke="#882080" stroke-width="1.46" fill="none"/>
<path d="M450.7 197.7v9.56" stroke="#681858" stroke-width="1.46" fill="none"/>
<path d="M451.8 197.7v9.56" stroke="#b028a0" stroke-width="1.46" fill="none"/>
<path d="M452.9 197.7v9.56M468.5 197.7v9.56" stroke="#701860" stroke-width="1.46" fill="none"/>
<path d="M454.0 197.7v9.56" stroke="#902088" stroke-width="1.46" fill="none"/>
<path d="M456.3 197.7v9.56" stroke="#481838" stroke-width="1.46" fill="none"/>
<path d="M457.4 197.7v9.56" stroke="#706818" stroke-width="1.46" fill="none"/>
<path d="M458.5 197.7v9.56" stroke="#402030" stroke-width="1.46" fill="none"/>
<path d="M459.6 197.7v9.56" stroke="#504818" stroke-width="1.46" fill="none"/>
<path d="M460.7 197.7v9.56" stroke="#382020" stroke-width="1.46" fill="none"/>
<path d="M461.8 197.7v9.56M471.8 197.7v9.56M475.1 197.7v9.56M477.3 197.7v9.56M481.8 197.7v9.56" stroke="#302018" stroke-width="1.46" fill="none"/>
<path d="M462.9 197.7v9.56" stroke="#681860" stroke-width="1.46" fill="none"/>
<path d="M464.0 197.7v9.56M472.9 197.7v9.56" stroke="#403018" stroke-width="1.46" fill="none"/>
<path d="M465.1 197.7v9.56" stroke="#382018" stroke-width="1.46" fill="none"/>
<path d="M466.2 197.7v9.56" stroke="#686018" stroke-width="1.46" fill="none"/>
<path d="M467.4 197.7v9.56" stroke="#481830" stroke-width="1.46" fill="none"/>
<path d="M469.6 197.7v9.56" stroke="#483818" stroke-width="1.46" fill="none"/>
<path d="M470.7 197.7v9.56" stroke="#605018" stroke-width="1.46" fill="none"/>
<path d="M474.0 197.7v9.56" stroke="#382818" stroke-width="1.46" fill="none"/>
<path d="M476.2 197.7v9.56" stroke="#908818" stroke-width="1.46" fill="none"/>
<path d="M478.5 197.7v9.56" stroke="#786818" stroke-width="1.46" fill="none"/>
<path d="M479.6 197.7v9.56M487.3 197.7v9.56" stroke="#888018" stroke-width="1.46" fill="none"/>
<path d="M480.7 197.7v9.56" stroke="#685818" stroke-width="1.46" fill="none"/>
<path d="M482.9 197.7v9.56" stroke="#706018" stroke-width="1.46" fill="none"/>
<path d="M484.0 197.7v9.56" stroke="#807818" stroke-width="1.46" fill="none"/>
<path d="M485.1 197.7v9.56" stroke="#a09818" stroke-width="1.46" fill="none"/>
<path d="M486.2 197.7v9.56" stroke="#e0d828" stroke-width="1.46" fill="none"/>
<path d="M488.4 197.7v9.56" stroke="#a8a020" stroke-width="1.46" fill="none"/>
<path d="M445.2 206.8v9.56M456.3 206.8v9.56M471.8 206.8v9.56M478.5 206.8v9.56M485.1 206.8v9.56" stroke="#483818" stroke-width="1.46" fill="none"/>
<path d="M446.3 206.8v9.56M468.5 206.8v9.56" stroke="#501840" stroke-width="1.46" fill="none"/>
<path d="M447.4 206.8v9.56" stroke="#401830" stroke-width="1.46" fill="none"/>
<path d="M448.5 206.8v9.56M455.1 206.8v9.56M461.8 206.8v9.56M481.8 206.8v9.56" stroke="#382020" stroke-width="1.46" fill="none"/>
<path d="M449.6 206.8v9.56" stroke="#402028" stroke-width="1.46" fill="none"/>
<path d="M450.7 206.8v9.56M452.9 206.8v9.56M454.0 206.8v9.56" stroke="#581848" stroke-width="1.46" fill="none"/>
<path d="M451.8 206.8v9.56" stroke="#681860" stroke-width="1.46" fill="none"/>
<path d="M457.4 206.8v9.56" stroke="#706818" stroke-width="1.46" fill="none"/>
<path d="M458.5 206.8v9.56M465.1 206.8v9.56M472.9 206.8v9.56" stroke="#302018" stroke-width="1.46" fill="none"/>
<path d="M459.6 206.8v9.56" stroke="#807818" stroke-width="1.46" fill="none"/>
<path d="M460.7 206.8v9.56" stroke="#584818" stroke-width="1.46" fill="none"/>
<path d="M462.9 206.8v9.56" stroke="#481830" stroke-width="1.46" fill="none"/>
<path d="M464.0 206.8v9.56M484.0 206.8v9.56" stroke="#504018" stroke-width="1.46" fill="none"/>
<path d="M466.2 206.8v9.56" stroke="#807018" stroke-width="1.46" fill="none"/>
<path d="M467.4 206.8v9.56" stroke="#403018" stroke-width="1.46" fill="none"/>
<path d="M469.6 206.8v9.56M487.3 206.8v9.56" stroke="#605018" stroke-width="1.46" fill="none"/>
<path d="M470.7 206.8v9.56" stroke="#b0a820" stroke-width="1.46" fill="none"/>
<path d="M474.0 206.8v9.56" stroke="#605818" stroke-width="1.46" fill="none"/>
<path d="M475.1 206.8v9.56" stroke="#686018" stroke-width="1.46" fill="none"/>
<path d="M476.2 206.8v9.56" stroke="#a09820" stroke-width="1.46" fill="none"/>
<path d="M477.3 206.8v9.56" stroke="#504818" stroke-width="1.46" fill="none"/>
<path d="M479.6 206.8v9.56" stroke="#787018" stroke-width="1.46" fill="none"/>
<path d="M480.7 206.8v9.56" stroke="#786818" stroke-width="1.46" fill="none"/>
<path d="M482.9 206.8v9.56" stroke="#585018" stroke-width="1.46" fill="none"/>
<path d="M486.2 206.8v9.56" stroke="#a09818" stroke-width="1.46" fill="none"/>
<path d="M488.4 206.8v9.56" stroke="#706018" stroke-width="1.46" fill="none"/>
<path d="M445.2 215.8v9.56" stroke="#701868" stroke-width="1.46" fill="none"/>
<path d="M446.3 215.8v9.56M450.7 215.8v9.56" stroke="#902088" stroke-width="1.46" fill="none"/>
<path d="M447.4 215.8v9.56" stroke="#982090" stroke-width="1.46" fill="none"/>
<path d="M448.5 215.8v9.56M451.8 215.8v9.56" stroke="#a828a0" stroke-width="1.46" fill="none"/>
<path d="M449.6 215.8v9.56" stroke="#902080" stroke-width="1.46" fill="none"/>
<path d="M452.9 215.8v9.56" stroke="#a02090" stroke-width="1.46" fill="none"/>
<path d="M454.0 215.8v9.56" stroke="#b828b0" stroke-width="1.46" fill="none"/>
<path d="M455.1 215.8v9.56" stroke="#481838" stroke-width="1.46" fill="none"/>
<path d="M456.3 215.8v9.56" stroke="#401830" stroke-width="1.46" fill="none"/>
<path d="M457.4 215.8v9.56M466.2 215.8v9.56" stroke="#504018" stroke-width="1.46" fill="none"/>
<path d="M458.5 215.8v9.56" stroke="#681858" stroke-width="1.46" fill="none"/>
<path d="M459.6 215.8v9.56" stroke="#382818" stroke-width="1.46" fill="none"/>
<path d="M460.7 215.8v9.56M461.8 215.8v9.56M462.9 215.8v9.56" stroke="#501840" stroke-width="1.46" fill="none"/>
<path d="M464.0 215.8v9.56" stroke="#402028" stroke-width="1.46" fill="none"/>
<path d="M465.1 215.8v9.56M471.8 215.8v9.56" stroke="#302018" stroke-width="1.46" fill="none"/>
<path d="M467.4 215.8v9.56" stroke="#601850" stroke-width="1.46" fill="none"/>
<path d="M468.5 215.8v9.56" stroke="#601858" stroke-width="1.46" fill="none"/>
<path d="M469.6 215.8v9.56M472.9 215.8v9.56M474.0 215.8v9.56" stroke="#403018" stroke-width="1.46" fill="none"/>
<path d="M470.7 215.8v9.56M481.8 215.8v9.56" stroke="#605018" stroke-width="1.46" fill="none"/>
<path d="M475.1 215.8v9.56" stroke="#382020" stroke-width="1.46" fill="none"/>
<path d="M476.2 215.8v9.56M478.5 215.8v9.56" stroke="#787018" stroke-width="1.46" fill="none"/>
<path d="M477.3 215.8v9.56" stroke="#481830" stroke-width="1.46" fill="none"/>
<path d="M479.6 215.8v9.56M482.9 215.8v9.56" stroke="#807818" stroke-width="1.46" fill="none"/>
<path d="M480.7 215.8v9.56" stroke="#888018" stroke-width="1.46" fill="none"/>
<path d="M484.0 215.8v9.56" stroke="#c8c820" stroke-width="1.46" fill="none"/>
<path d="M485.1 215.8v9.56" stroke="#b8b820" stroke-width="1.46" fill="none"/>
<path d="M486.2 215.8v9.56" stroke="#e0e028" stroke-width="1.46" fill="none"/>
<path d="M487.3 215.8v9.56" stroke="#908818" stroke-width="1.46" fill="none"/>
<path d="M488.4 215.8v9.56" stroke="#989018" stroke-width="1.46" fill="none"/>
<path d="M445.2 224.9v9.56M462.9 224.9v9.56" stroke="#681858" stroke-width="1.46" fill="none"/>
<path d="M446.3 224.9v9.56M449.6 224.9v9.56" stroke="#a02898" stroke-width="1.46" fill="none"/>
<path d="M447.4 224.9v9.56M448.5 224.9v9.56" stroke="#b028a8" stroke-width="1.46" fill="none"/>
<path d="M450.7 224.9v9.56" stroke="#a02098" stroke-width="1.46" fill="none"/>
<path d="M451.8 224.9v9.56M454.0 224.9v9.56" stroke="#c030b0" stroke-width="1.46" fill="none"/>
<path d="M452.9 224.9v9.56" stroke="#a828a0" stroke-width="1.46" fill="none"/>
<path d="M455.1 224.9v9.56M472.9 224.9v9.56" stroke="#581848" stroke-width="1.46" fill="none"/>
<path d="M456.3 224.9v9.56" stroke="#402028" stroke-width="1.46" fill="none"/>
<path d="M457.4 224.9v9.56" stroke="#504018" stroke-width="1.46" fill="none"/>
<path d="M458.5 224.9v9.56" stroke="#601850" stroke-width="1.46" fill="none"/>
<path d="M459.6 224.9v9.56" stroke="#504818" stroke-width="1.46" fill="none"/>
<path d="M460.7 224.9v9.56" stroke="#403018" stroke-width="1.46" fill="none"/>
<path d="M461.8 224.9v9.56" stroke="#501840" stroke-width="1.46" fill="none"/>
<path d="M464.0 224.9v9.56" stroke="#481830" stroke-width="1.46" fill="none"/>
<path d="M465.1 224.9v9.56M474.0 224.9v9.56" stroke="#302018" stroke-width="1.46" fill="none"/>
<path d="M466.2 224.9v9.56" stroke="#382020" stroke-width="1.46" fill="none"/>
<path d="M467.4 224.9v9.56" stroke="#481838" stroke-width="1.46" fill="none"/>
<path d="M468.5 224.9v9.56" stroke="#601858" stroke-width="1.46" fill="none"/>
<path d="M469.6 224.9v9.56" stroke="#483818" stroke-width="1.46" fill="none"/>
<path d="M470.7 224.9v9.56M471.8 224.9v9.56M475.1 224.9v9.56" stroke="#401830" stroke-width="1.46" fill="none"/>
<path d="M476.2 224.9v9.56" stroke="#b0a820" stroke-width="1.46" fill="none"/>
<path d="M477.3 224.9v9.56" stroke="#382818" stroke-width="1.46" fill="none"/>
<path d="M478.5 224.9v9.56" stroke="#706818" stroke-width="1.46" fill="none"/>
<path d="M479.6 224.9v9.56M485.1 224.9v9.56" stroke="#908018" stroke-width="1.46" fill="none"/>
<path d="M480.7 224.9v9.56" stroke="#888018" stroke-width="1.46" fill="none"/>
<path d="M481.8 224.9v9.56" stroke="#605018" stroke-width="1.46" fill="none"/>
<path d="M482.9 224.9v9.56" stroke="#a09818" stroke-width="1.46" fill="none"/>
<path d="M484.0 224.9v9.56" stroke="#c0c020" stroke-width="1.46" fill="none"/>
<path d="M486.2 224.9v9.56" stroke="#989018" stroke-width="1.46" fill="none"/>
<path d="M487.3 224.9v9.56" stroke="#908818" stroke-width="1.46" fill="none"/>
<path d="M488.4 224.9v9.56" stroke="#b0b020" stroke-width="1.46" fill="none"/>
<path d="M445.2 233.9v9.56M471.8 233.9v9.56M474.0 233.9v9.56" stroke="#403018" stroke-width="1.46" fill="none"/>
<path d="M446.3 233.9v9.56M454.0 233.9v9.56" stroke="#781870" stroke-width="1.46" fill="none"/>
<path d="M447.4 233.9v9.56M462.9 233.9v9.56M465.1 233.9v9.56" stroke="#402028" stroke-width="1.46" fill="none"/>
<path d="M448.5 233.9v9.56M452.9 233.9v9.56" stroke="#501840" stroke-width="1.46" fill="none"/>
<path d="M449.6 233.9v9.56" stroke="#601850" stroke-width="1.46" fill="none"/>
<path d="M450.7 233.9v9.56" stroke="#481838" stroke-width="1.46" fill="none"/>
<path d="M451.8 233.9v9.56" stroke="#902080" stroke-width="1.46" fill="none"/>
<path d="M455.1 233.9v9.56M458.5 233.9v9.56" stroke="#501838" stroke-width="1.46" fill="none"/>
<path d="M456.3 233.9v9.56M461.8 233.9v9.56" stroke="#401830" stroke-width="1.46" fill="none"/>
<path d="M457.4 233.9v9.56" stroke="#382018" stroke-width="1.46" fill="none"/>
<path d="M459.6 233.9v9.56" stroke="#605818" stroke-width="1.46" fill="none"/>
<path d="M460.7 233.9v9.56M467.4 233.9v9.56" stroke="#382020" stroke-width="1.46" fill="none"/>
<path d="M464.0 233.9v9.56" stroke="#787018" stroke-width="1.46" fill="none"/>
<path d="M466.2 233.9v9.56" stroke="#706018" stroke-width="1.46" fill="none"/>
<path d="M468.5 233.9v9.56" stroke="#601858" stroke-width="1.46" fill="none"/>
<path d="M469.6 233.9v9.56M475.1 233.9v9.56" stroke="#382818" stroke-width="1.46" fill="none"/>
<path d="M470.7 233.9v9.56M482.9 233.9v9.56" stroke="#685818" stroke-width="1.46" fill="none"/>
<path d="M472.9 233.9v9.56M481.8 233.9v9.56" stroke="#483818" stroke-width="1.46" fill="none"/>
<path d="M476.2 233.9v9.56" stroke="#a0a020" stroke-width="1.46" fill="none"/>
<path d="M477.3 233.9v9.56" stroke="#504818" stroke-width="1.46" fill="none"/>
<path d="M478.5 233.9v9.56" stroke="#706818" stroke-width="1.46" fill="none"/>
<path d="M479.6 233.9v9.56" stroke="#908818" stroke-width="1.46" fill="none"/>
<path d="M480.7 233.9v9.56" stroke="#908018" stroke-width="1.46" fill="none"/>
<path d="M484.0 233.9v9.56" stroke="#b0a820" stroke-width="1.46" fill="none"/>
<path d="M485.1 233.9v9.56" stroke="#a09818" stroke-width="1.46" fill="none"/>
<path d="M486.2 233.9v9.56" stroke="#b8b020" stroke-width="1.46" fill="none"/>
<path d="M487.3 233.9v9.56" stroke="#a8a020" stroke-width="1.46" fill="none"/>
<path d="M488.4 233.9v9.56" stroke="#c0c020" stroke-width="1.46" fill="none"/>
<path d="M445.2 243.0v9.56M461.8 243.0v9.56" stroke="#402028" stroke-width="1.46" fill="none"/>
<path d="M446.3 243.0v9.56M447.4 243.0v9.56M449.6 243.0v9.56M458.5 243.0v9.56" stroke="#501840" stroke-width="1.46" fill="none"/>
<path d="M448.5 243.0v9.56M454.0 243.0v9.56" stroke="#701868" stroke-width="1.46" fill="none"/>
<path d="M450.7 243.0v9.56M468.5 243.0v9.56" stroke="#601858" stroke-width="1.46" fill="none"/>
<path d="M451.8 243.0v9.56" stroke="#982090" stroke-width="1.46" fill="none"/>
<path d="M452.9 243.0v9.56" stroke="#781870" stroke-width="1.46" fill="none"/>
<path d="M455.1 243.0v9.56M462.9 243.0v9.56" stroke="#581848" stroke-width="1.46" fill="none"/>
<path d="M456.3 243.0v9.56M467.4 243.0v9.56M472.9 243.0v9.56M475.1 243.0v9.56" stroke="#302018" stroke-width="1.46" fill="none"/>
<path d="M457.4 243.0v9.56M459.6 243.0v9.56" stroke="#686018" stroke-width="1.46" fill="none"/>
<path d="M460.7 243.0v9.56" stroke="#403018" stroke-width="1.46" fill="none"/>
<path d="M464.0 243.0v9.56M469.6 243.0v9.56" stroke="#504018" stroke-width="1.46" fill="none"/>
<path d="M465.1 243.0v9.56M477.3 243.0v9.56" stroke="#382818" stroke-width="1.46" fill="none"/>
<path d="M466.2 243.0v9.56" stroke="#706818" stroke-width="1.46" fill="none"/>
<path d="M470.7 243.0v9.56" stroke="#605818" stroke-width="1.46" fill="none"/>
<path d="M471.8 243.0v9.56M474.0 243.0v9.56" stroke="#483818" stroke-width="1.46" fill="none"/>
<path d="M476.2 243.0v9.56" stroke="#c0c020" stroke-width="1.46" fill="none"/>
<path d="M478.5 243.0v9.56" stroke="#807818" stroke-width="1.46" fill="none"/>
<path d="M479.6 243.0v9.56" stroke="#908818" stroke-width="1.46" fill="none"/>
<path d="M480.7 243.0v9.56M481.8 243.0v9.56" stroke="#605018" stroke-width="1.46" fill="none"/>
<path d="M482.9 243.0v9.56" stroke="#584818" stroke-width="1.46" fill="none"/>
<path d="M484.0 243.0v9.56" stroke="#b0b020" stroke-width="1.46" fill="none"/>
<path d="M485.1 243.0v9.56" stroke="#908018" stroke-width="1.46" fill="none"/>
<path d="M486.2 243.0v9.56" stroke="#d0d020" stroke-width="1.46" fill="none"/>
<path d="M487.3 243.0v9.56" stroke="#a8a020" stroke-width="1.46" fill="none"/>
<path d="M488.4 243.0v9.56" stroke="#c0b820" stroke-width="1.46" fill="none"/>
<path d="M445.2 252.1v9.56M481.8 252.1v9.56" stroke="#382020" stroke-width="1.46" fill="none"/>
<path d="M446.3 252.1v9.56M449.6 252.1v9.56M450.7 252.1v9.56" stroke="#882080" stroke-width="1.46" fill="none"/>
<path d="M447.4 252.1v9.56M458.5 252.1v9.56" stroke="#681860" stroke-width="1.46" fill="none"/>
<path d="M448.5 252.1v9.56" stroke="#802078" stroke-width="1.46" fill="none"/>
<path d="M451.8 252.1v9.56" stroke="#982090" stroke-width="1.46" fill="none"/>
<path d="M452.9 252.1v9.56" stroke="#601858" stroke-width="1.46" fill="none"/>
<path d="M454.0 252.1v9.56" stroke="#a02898" stroke-width="1.46" fill="none"/>
<path d="M455.1 252.1v9.56M461.8 252.1v9.56M467.4 252.1v9.56" stroke="#501840" stroke-width="1.46" fill="none"/>
<path d="M456.3 252.1v9.56" stroke="#481830" stroke-width="1.46" fill="none"/>
<path d="M457.4 252.1v9.56" stroke="#605818" stroke-width="1.46" fill="none"/>
<path d="M459.6 252.1v9.56" stroke="#584818" stroke-width="1.46" fill="none"/>
<path d="M460.7 252.1v9.56" stroke="#401830" stroke-width="1.46" fill="none"/>
<path d="M462.9 252.1v9.56M468.5 252.1v9.56" stroke="#581848" stroke-width="1.46" fill="none"/>
<path d="M464.0 252.1v9.56M472.9 252.1v9.56M475.1 252.1v9.56M477.3 252.1v9.56" stroke="#403018" stroke-width="1.46" fill="none"/>
<path d="M465.1 252.1v9.56" stroke="#382818" stroke-width="1.46" fill="none"/>
<path d="M466.2 252.1v9.56M482.9 252.1v9.56" stroke="#686018" stroke-width="1.46" fill="none"/>
<path d="M469.6 252.1v9.56M471.8 252.1v9.56" stroke="#504018" stroke-width="1.46" fill="none"/>
<path d="M470.7 252.1v9.56" stroke="#989018" stroke-width="1.46" fill="none"/>
<path d="M474.0 252.1v9.56" stroke="#382028" stroke-width="1.46" fill="none"/>
<path d="M476.2 252.1v9.56" stroke="#b0a820" stroke-width="1.46" fill="none"/>
<path d="M478.5 252.1v9.56" stroke="#807018" stroke-width="1.46" fill="none"/>
<path d="M479.6 252.1v9.56" stroke="#706018" stroke-width="1.46" fill="none"/>
<path d="M480.7 252.1v9.56" stroke="#807818" stroke-width="1.46" fill="none"/>
<path d="M484.0 252.1v9.56" stroke="#a8a020" stroke-width="1.46" fill="none"/>
<path d="M485.1 252.1v9.56M487.3 252.1v9.56" stroke="#a0a020" stroke-width="1.46" fill="none"/>
<path d="M486.2 252.1v9.56M488.4 252.1v9.56" stroke="#c0c020" stroke-width="1.46" fill="none"/>
<path d="M445.2 261.1v9.56" stroke="#501838" stroke-width="1.46" fill="none"/>
<path d="M446.3 261.1v9.56M449.6 261.1v9.56" stroke="#802078" stroke-width="1.46" fill="none"/>
<path d="M447.4 261.1v9.56" stroke="#701860" stroke-width="1.46" fill="none"/>
<path d="M448.5 261.1v9.56M450.7 261.1v9.56" stroke="#882080" stroke-width="1.46" fill="none"/>
<path d="M451.8 261.1v9.56" stroke="#b828b0" stroke-width="1.46" fill="none"/>
<path d="M452.9 261.1v9.56" stroke="#902088" stroke-width="1.46" fill="none"/>
<path d="M454.0 261.1v9.56" stroke="#a02090" stroke-width="1.46" fill="none"/>
<path d="M455.1 261.1v9.56" stroke="#681860" stroke-width="1.46" fill="none"/>
<path d="M456.3 261.1v9.56M475.1 261.1v9.56" stroke="#302018" stroke-width="1.46" fill="none"/>
<path d="M457.4 261.1v9.56" stroke="#605818" stroke-width="1.46" fill="none"/>
<path d="M458.5 261.1v9.56" stroke="#601858" stroke-width="1.46" fill="none"/>
<path d="M459.6 261.1v9.56M464.0 261.1v9.56" stroke="#403018" stroke-width="1.46" fill="none"/>
<path d="M460.7 261.1v9.56" stroke="#481830" stroke-width="1.46" fill="none"/>
<path d="M461.8 261.1v9.56" stroke="#681858" stroke-width="1.46" fill="none"/>
<path d="M462.9 261.1v9.56" stroke="#781870" stroke-width="1.46" fill="none"/>
<path d="M465.1 261.1v9.56M468.5 261.1v9.56" stroke="#501840" stroke-width="1.46" fill="none"/>
<path d="M466.2 261.1v9.56M470.7 261.1v9.56" stroke="#807818" stroke-width="1.46" fill="none"/>
<path d="M467.4 261.1v9.56" stroke="#382818" stroke-width="1.46" fill="none"/>
<path d="M469.6 261.1v9.56M471.8 261.1v9.56" stroke="#504018" stroke-width="1.46" fill="none"/>
<path d="M472.9 261.1v9.56" stroke="#382020" stroke-width="1.46" fill="none"/>
<path d="M474.0 261.1v9.56M479.6 261.1v9.56" stroke="#685818" stroke-width="1.46" fill="none"/>
<path d="M476.2 261.1v9.56" stroke="#888018" stroke-width="1.46" fill="none"/>
<path d="M477.3 261.1v9.56" stroke="#581848" stroke-width="1.46" fill="none"/>
<path d="M478.5 261.1v9.56" stroke="#787018" stroke-width="1.46" fill="none"/>
<path d="M480.7 261.1v9.56" stroke="#a8a020" stroke-width="1.46" fill="none"/>
<path d="M481.8 261.1v9.56" stroke="#483818" stroke-width="1.46" fill="none"/>
<path d="M482.9 261.1v9.56" stroke="#908018" stroke-width="1.46" fill="none"/>
<path d="M484.0 261.1v9.56" stroke="#a0a020" stroke-width="1.46" fill="none"/>
<path d="M485.1 261.1v9.56" stroke="#b0a820" stroke-width="1.46" fill="none"/>
<path d="M486.2 261.1v9.56" stroke="#d8d828" stroke-width="1.46" fill="none"/>
<path d="M487.3 261.1v9.56" stroke="#a09818" stroke-width="1.46" fill="none"/>
<path d="M488.4 261.1v9.56" stroke="#c8c820" stroke-width="1.46" fill="none"/>
<path d="M445.2 270.2v9.56" stroke="#302020" stroke-width="1.46" fill="none"/>
<path d="M446.3 270.2v9.56M448.5 270.2v9.56M458.5 270.2v9.56" stroke="#781870" stroke-width="1.46" fill="none"/>
<path d="M447.4 270.2v9.56M468.5 270.2v9.56" stroke="#701868" stroke-width="1.46" fill="none"/>
<path d="M449.6 270.2v9.56" stroke="#581848" stroke-width="1.46" fill="none"/>
<path d="M450.7 270.2v9.56M456.3 270.2v9.56M460.7 270.2v9.56M472.9 270.2v9.56" stroke="#382020" stroke-width="1.46" fill="none"/>
<path d="M451.8 270.2v9.56" stroke="#882080" stroke-width="1.46" fill="none"/>
<path d="M452.9 270.2v9.56" stroke="#681860" stroke-width="1.46" fill="none"/>
<path d="M454.0 270.2v9.56M462.9 270.2v9.56" stroke="#601858" stroke-width="1.46" fill="none"/>
<path d="M455.1 270.2v9.56" stroke="#501838" stroke-width="1.46" fill="none"/>
<path d="M457.4 270.2v9.56" stroke="#584818" stroke-width="1.46" fill="none"/>
<path d="M459.6 270.2v9.56M465.1 270.2v9.56" stroke="#302018" stroke-width="1.46" fill="none"/>
<path d="M461.8 270.2v9.56" stroke="#401830" stroke-width="1.46" fill="none"/>
<path d="M464.0 270.2v9.56M475.1 270.2v9.56M477.3 270.2v9.56" stroke="#402028" stroke-width="1.46" fill="none"/>
<path d="M466.2 270.2v9.56M469.6 270.2v9.56M471.8 270.2v9.56M482.9 270.2v9.56" stroke="#483818" stroke-width="1.46" fill="none"/>
<path d="M467.4 270.2v9.56" stroke="#501840" stroke-width="1.46" fill="none"/>
<path d="M470.7 270.2v9.56M479.6 270.2v9.56" stroke="#908818" stroke-width="1.46" fill="none"/>
<path d="M474.0 270.2v9.56" stroke="#504018" stroke-width="1.46" fill="none"/>
<path d="M476.2 270.2v9.56" stroke="#605018" stroke-width="1.46" fill="none"/>
<path d="M478.5 270.2v9.56M484.0 270.2v9.56" stroke="#989018" stroke-width="1.46" fill="none"/>
<path d="M480.7 270.2v9.56" stroke="#685818" stroke-width="1.46" fill="none"/>
<path d="M481.8 270.2v9.56" stroke="#403018" stroke-width="1.46" fill="none"/>
<path d="M485.1 270.2v9.56" stroke="#787018" stroke-width="1.46" fill="none"/>
<path d="M486.2 270.2v9.56" stroke="#a8a020" stroke-width="1.46" fill="none"/>
<path d="M487.3 270.2v9.56" stroke="#908018" stroke-width="1.46" fill="none"/>
<path d="M488.4 270.2v9.56" stroke="#a09820" stroke-width="1.46" fill="none"/>
<path d="M445.2 279.2v9.56M469.6 279.2v9.56" stroke="#402028" stroke-width="1.46" fill="none"/>
<path d="M446.3 279.2v9.56" stroke="#902088" stroke-width="1.46" fill="none"/>
<path d="M447.4 279.2v9.56M468.5 279.2v9.56" stroke="#601850" stroke-width="1.46" fill="none"/>
<path d="M448.5 279.2v9.56" stroke="#701860" stroke-width="1.46" fill="none"/>
<path d="M449.6 279.2v9.56" stroke="#681860" stroke-width="1.46" fill="none"/>
<path d="M450.7 279.2v9.56" stroke="#601858" stroke-width="1.46" fill="none"/>
<path d="M451.8 279.2v9.56" stroke="#902080" stroke-width="1.46" fill="none"/>
<path d="M452.9 279.2v9.56" stroke="#681858" stroke-width="1.46" fill="none"/>
<path d="M454.0 279.2v9.56" stroke="#781870" stroke-width="1.46" fill="none"/>
<path d="M455.1 279.2v9.56M461.8 279.2v9.56M477.3 279.2v9.56" stroke="#382020" stroke-width="1.46" fill="none"/>
<path d="M456.3 279.2v9.56M472.9 279.2v9.56M481.8 279.2v9.56" stroke="#302018" stroke-width="1.46" fill="none"/>
<path d="M457.4 279.2v9.56" stroke="#382818" stroke-width="1.46" fill="none"/>
<path d="M458.5 279.2v9.56M462.9 279.2v9.56" stroke="#501840" stroke-width="1.46" fill="none"/>
<path d="M459.6 279.2v9.56" stroke="#706018" stroke-width="1.46" fill="none"/>
<path d="M460.7 279.2v9.56M467.4 279.2v9.56" stroke="#401830" stroke-width="1.46" fill="none"/>
<path d="M464.0 279.2v9.56M466.2 279.2v9.56" stroke="#504018" stroke-width="1.46" fill="none"/>
<path d="M465.1 279.2v9.56" stroke="#382028" stroke-width="1.46" fill="none"/>
<path d="M470.7 279.2v9.56" stroke="#605018" stroke-width="1.46" fill="none"/>
<path d="M471.8 279.2v9.56" stroke="#483818" stroke-width="1.46" fill="none"/>
<path d="M474.0 279.2v9.56M475.1 279.2v9.56" stroke="#584818" stroke-width="1.46" fill="none"/>
<path d="M476.2 279.2v9.56" stroke="#908818" stroke-width="1.46" fill="none"/>
<path d="M478.5 279.2v9.56M480.7 279.2v9.56" stroke="#686018" stroke-width="1.46" fill="none"/>
<path d="M479.6 279.2v9.56" stroke="#685818" stroke-width="1.46" fill="none"/>
<path d="M482.9 279.2v9.56M485.1 279.2v9.56" stroke="#888018" stroke-width="1.46" fill="none"/>
<path d="M484.0 279.2v9.56M487.3 279.2v9.56" stroke="#989018" stroke-width="1.46" fill="none"/>
<path d="M486.2 279.2v9.56" stroke="#c0c020" stroke-width="1.46" fill="none"/>
<path d="M488.4 279.2v9.56" stroke="#d0d020" stroke-width="1.46" fill="none"/>
<path d="M445.2 288.3v9.56M466.2 288.3v9.56M477.3 288.3v9.56" stroke="#504018" stroke-width="1.46" fill="none"/>
<path d="M446.3 288.3v9.56M447.4 288.3v9.56M456.3 288.3v9.56" stroke="#382020" stroke-width="1.46" fill="none"/>
<path d="M448.5 288.3v9.56" stroke="#781870" stroke-width="1.46" fill="none"/>
<path d="M449.6 288.3v9.56" stroke="#481838" stroke-width="1.46" fill="none"/>
<path d="M450.7 288.3v9.56M454.0 288.3v9.56M468.5 288.3v9.56" stroke="#501840" stroke-width="1.46" fill="none"/>
<path d="M451.8 288.3v9.56" stroke="#681860" stroke-width="1.46" fill="none"/>
<path d="M452.9 288.3v9.56" stroke="#581850" stroke-width="1.46" fill="none"/>
<path d="M455.1 288.3v9.56" stroke="#402030" stroke-width="1.46" fill="none"/>
<path d="M457.4 288.3v9.56" stroke="#909018" stroke-width="1.46" fill="none"/>
<path d="M458.5 288.3v9.56" stroke="#481830" stroke-width="1.46" fill="none"/>
<path d="M459.6 288.3v9.56M465.1 288.3v9.56" stroke="#584818" stroke-width="1.46" fill="none"/>
<path d="M460.7 288.3v9.56M461.8 288.3v9.56M481.8 288.3v9.56" stroke="#302018" stroke-width="1.46" fill="none"/>
<path d="M462.9 288.3v9.56" stroke="#501838" stroke-width="1.46" fill="none"/>
<path d="M464.0 288.3v9.56" stroke="#483818" stroke-width="1.46" fill="none"/>
<path d="M467.4 288.3v9.56" stroke="#382818" stroke-width="1.46" fill="none"/>
<path d="M469.6 288.3v9.56M472.9 288.3v9.56" stroke="#605018" stroke-width="1.46" fill="none"/>
<path d="M470.7 288.3v9.56M475.1 288.3v9.56" stroke="#686018" stroke-width="1.46" fill="none"/>
<path d="M471.8 288.3v9.56" stroke="#403018" stroke-width="1.46" fill="none"/>
<path d="M474.0 288.3v9.56" stroke="#402028" stroke-width="1.46" fill="none"/>
<path d="M476.2 288.3v9.56M482.9 288.3v9.56M487.3 288.3v9.56" stroke="#908818" stroke-width="1.46" fill="none"/>
<path d="M478.5 288.3v9.56M480.7 288.3v9.56" stroke="#807818" stroke-width="1.46" fill="none"/>
<path d="M479.6 288.3v9.56" stroke="#888018" stroke-width="1.46" fill="none"/>
<path d="M484.0 288.3v9.56" stroke="#a09818" stroke-width="1.46" fill="none"/>
<path d="M485.1 288.3v9.56" stroke="#989018" stroke-width="1.46" fill="none"/>
<path d="M486.2 288.3v9.56" stroke="#b8b020" stroke-width="1.46" fill="none"/>
<path d="M488.4 288.3v9.56" stroke="#c8c020" stroke-width="1.46" fill="none"/>
<path d="M445.2 297.4v9.06" stroke="#802078" stroke-width="1.46" fill="none"/>
<path d="M446.3 297.4v9.06" stroke="#a82898" stroke-width="1.46" fill="none"/>
<path d="M447.4 297.4v9.06" stroke="#a02098" stroke-width="1.46" fill="none"/>
<path d="M448.5 297.4v9.06" stroke="#b828b0" stroke-width="1.46" fill="none"/>
<path d="M449.6 297.4v9.06M454.0 297.4v9.06" stroke="#902088" stroke-width="1.46" fill="none"/>
<path d="M450.7 297.4v9.06" stroke="#982090" stroke-width="1.46" fill="none"/>
<path d="M451.8 297.4v9.06" stroke="#c030b0" stroke-width="1.46" fill="none"/>
<path d="M452.9 297.4v9.06" stroke="#a02898" stroke-width="1.46" fill="none"/>
<path d="M455.1 297.4v9.06" stroke="#481830" stroke-width="1.46" fill="none"/>
<path d="M456.3 297.4v9.06M461.8 297.4v9.06M465.1 297.4v9.06M472.9 297.4v9.06" stroke="#501840" stroke-width="1.46" fill="none"/>
<path d="M457.4 297.4v9.06M481.8 297.4v9.06" stroke="#484018" stroke-width="1.46" fill="none"/>
<path d="M458.5 297.4v9.06" stroke="#601850" stroke-width="1.46" fill="none"/>
<path d="M459.6 297.4v9.06" stroke="#403018" stroke-width="1.46" fill="none"/>
<path d="M460.7 297.4v9.06M474.0 297.4v9.06" stroke="#481838" stroke-width="1.46" fill="none"/>
<path d="M462.9 297.4v9.06" stroke="#781870" stroke-width="1.46" fill="none"/>
<path d="M464.0 297.4v9.06" stroke="#382018" stroke-width="1.46" fill="none"/>
<path d="M466.2 297.4v9.06" stroke="#401830" stroke-width="1.46" fill="none"/>
<path d="M467.4 297.4v9.06" stroke="#681860" stroke-width="1.46" fill="none"/>
<path d="M468.5 297.4v9.06" stroke="#882080" stroke-width="1.46" fill="none"/>
<path d="M469.6 297.4v9.06M471.8 297.4v9.06M475.1 297.4v9.06" stroke="#302018" stroke-width="1.46" fill="none"/>
<path d="M470.7 297.4v9.06" stroke="#585018" stroke-width="1.46" fill="none"/>
<path d="M476.2 297.4v9.06M484.0 297.4v9.06" stroke="#a09818" stroke-width="1.46" fill="none"/>
<path d="M477.3 297.4v9.06" stroke="#302020" stroke-width="1.46" fill="none"/>
<path d="M478.5 297.4v9.06" stroke="#706818" stroke-width="1.46" fill="none"/>
<path d="M479.6 297.4v9.06" stroke="#909018" stroke-width="1.46" fill="none"/>
<path d="M480.7 297.4v9.06" stroke="#989018" stroke-width="1.46" fill="none"/>
<path d="M482.9 297.4v9.06" stroke="#786818" stroke-width="1.46" fill="none"/>
<path d="M485.1 297.4v9.06" stroke="#888018" stroke-width="1.46" fill="none"/>
<path d="M486.2 297.4v9.06M488.4 297.4v9.06" stroke="#c0b820" stroke-width="1.46" fill="none"/>
<path d="M487.3 297.4v9.06" stroke="#808018" stroke-width="1.46" fill="none"/>
<path d="M445.2 313.3v6.90" stroke="#807018" stroke-width="1.46" fill="none"/>
<path d="M446.3 313.3v6.90M455.1 313.3v6.90" stroke="#581848" stroke-width="1.46" fill="none"/>
<path d="M447.4 313.3v6.90M459.6 313.3v6.90M460.7 313.3v6.90M467.4 313.3v6.90" stroke="#403018" stroke-width="1.46" fill="none"/>
<path d="M448.5 313.3v6.90M481.8 313.3v6.90" stroke="#302018" stroke-width="1.46" fill="none"/>
<path d="M449.6 313.3v6.90" stroke="#501838" stroke-width="1.46" fill="none"/>
<path d="M450.7 313.3v6.90" stroke="#401830" stroke-width="1.46" fill="none"/>
<path d="M451.8 313.3v6.90" stroke="#302020" stroke-width="1.46" fill="none"/>
<path d="M452.9 313.3v6.90" stroke="#681860" stroke-width="1.46" fill="none"/>
<path d="M454.0 313.3v6.90" stroke="#801870" stroke-width="1.46" fill="none"/>
<path d="M456.3 313.3v6.90M462.9 313.3v6.90" stroke="#581850" stroke-width="1.46" fill="none"/>
<path d="M457.4 313.3v6.90" stroke="#706818" stroke-width="1.46" fill="none"/>
<path d="M458.5 313.3v6.90M475.1 313.3v6.90" stroke="#382020" stroke-width="1.46" fill="none"/>
<path d="M461.8 313.3v6.90" stroke="#882080" stroke-width="1.46" fill="none"/>
<path d="M464.0 313.3v6.90" stroke="#a8a020" stroke-width="1.46" fill="none"/>
<path d="M465.1 313.3v6.90M486.2 313.3v6.90" stroke="#585018" stroke-width="1.46" fill="none"/>
<path d="M466.2 313.3v6.90" stroke="#402028" stroke-width="1.46" fill="none"/>
<path d="M468.5 313.3v6.90" stroke="#802078" stroke-width="1.46" fill="none"/>
<path d="M469.6 313.3v6.90" stroke="#605018" stroke-width="1.46" fill="none"/>
<path d="M470.7 313.3v6.90M480.7 313.3v6.90" stroke="#807818" stroke-width="1.46" fill="none"/>
<path d="M471.8 313.3v6.90" stroke="#601858" stroke-width="1.46" fill="none"/>
<path d="M472.9 313.3v6.90" stroke="#908018" stroke-width="1.46" fill="none"/>
<path d="M474.0 313.3v6.90" stroke="#501840" stroke-width="1.46" fill="none"/>
<path d="M476.2 313.3v6.90" stroke="#b0a820" stroke-width="1.46" fill="none"/>
<path d="M477.3 313.3v6.90M482.9 313.3v6.90" stroke="#483818" stroke-width="1.46" fill="none"/>
<path d="M478.5 313.3v6.90" stroke="#605818" stroke-width="1.46" fill="none"/>
<path d="M479.6 313.3v6.90" stroke="#584818" stroke-width="1.46" fill="none"/>
<path d="M484.0 313.3v6.90M485.1 313.3v6.90" stroke="#888018" stroke-width="1.46" fill="none"/>
<path d="M487.3 313.3v6.90M488.4 313.3v6.90" stroke="#382818" stroke-width="1.46" fill="none"/>
<path d="M445.2 323.0v8.60M450.7 323.0v8.60M462.9 323.0v8.60" stroke="#882080" stroke-width="1.46" fill="none"/>
<path d="M446.3 323.0v8.60" stroke="#982090" stroke-width="1.46" fill="none"/>
<path d="M447.4 323.0v8.60" stroke="#701860" stroke-width="1.46" fill="none"/>
<path d="M448.5 323.0v8.60M451.8 323.0v8.60" stroke="#c030b0" stroke-width="1.46" fill="none"/>
<path d="M449.6 323.0v8.60M454.0 323.0v8.60" stroke="#a02098" stroke-width="1.46" fill="none"/>
<path d="M452.9 323.0v8.60" stroke="#802078" stroke-width="1.46" fill="none"/>
<path d="M455.1 323.0v8.60M468.5 323.0v8.60" stroke="#601850" stroke-width="1.46" fill="none"/>
<path d="M456.3 323.0v8.60M461.8 323.0v8.60M464.0 323.0v8.60M472.9 323.0v8.60M474.0 323.0v8.60" stroke="#302018" stroke-width="1.46" fill="none"/>
<path d="M457.4 323.0v8.60" stroke="#483818" stroke-width="1.46" fill="none"/>
<path d="M458.5 323.0v8.60M466.2 323.0v8.60" stroke="#401830" stroke-width="1.46" fill="none"/>
<path d="M459.6 323.0v8.60" stroke="#504018" stroke-width="1.46" fill="none"/>
<path d="M460.7 323.0v8.60" stroke="#581848" stroke-width="1.46" fill="none"/>
<path d="M465.1 323.0v8.60M481.8 323.0v8.60M482.9 323.0v8.60" stroke="#501840" stroke-width="1.46" fill="none"/>
<path d="M467.4 323.0v8.60" stroke="#801870" stroke-width="1.46" fill="none"/>
<path d="M469.6 323.0v8.60" stroke="#585018" stroke-width="1.46" fill="none"/>
<path d="M470.7 323.0v8.60" stroke="#706818" stroke-width="1.46" fill="none"/>
<path d="M471.8 323.0v8.60" stroke="#801878" stroke-width="1.46" fill="none"/>
<path d="M475.1 323.0v8.60" stroke="#382018" stroke-width="1.46" fill="none"/>
<path d="M476.2 323.0v8.60" stroke="#807018" stroke-width="1.46" fill="none"/>
<path d="M477.3 323.0v8.60" stroke="#302020" stroke-width="1.46" fill="none"/>
<path d="M478.5 323.0v8.60" stroke="#686018" stroke-width="1.46" fill="none"/>
<path d="M479.6 323.0v8.60" stroke="#908818" stroke-width="1.46" fill="none"/>
<path d="M480.7 323.0v8.60" stroke="#605018" stroke-width="1.46" fill="none"/>
<path d="M484.0 323.0v8.60M486.2 323.0v8.60" stroke="#c0c020" stroke-width="1.46" fill="none"/>
<path d="M485.1 323.0v8.60" stroke="#584818" stroke-width="1.46" fill="none"/>
<path d="M487.3 323.0v8.60" stroke="#b0a820" stroke-width="1.46" fill="none"/>
<path d="M488.4 323.0v8.60" stroke="#c8c020" stroke-width="1.46" fill="none"/>
<path d="M445.2 331.1v8.10" stroke="#989018" stroke-width="1.46" fill="none"/>
<path d="M446.3 331.1v8.10" stroke="#b0a820" stroke-width="1.46" fill="none"/>
<path d="M447.4 331.1v8.10" stroke="#504018" stroke-width="1.46" fill="none"/>
<path d="M448.5 331.1v8.10" stroke="#a09820" stroke-width="1.46" fill="none"/>
<path d="M449.6 331.1v8.10" stroke="#686018" stroke-width="1.46" fill="none"/>
<path d="M450.7 331.1v8.10" stroke="#787018" stroke-width="1.46" fill="none"/>
<path d="M451.8 331.1v8.10" stroke="#483818" stroke-width="1.46" fill="none"/>
<path d="M452.9 331.1v8.10" stroke="#807818" stroke-width="1.46" fill="none"/>
<path d="M454.0 331.1v8.10" stroke="#481830" stroke-width="1.46" fill="none"/>
<path d="M455.1 331.1v8.10" stroke="#701860" stroke-width="1.46" fill="none"/>
<path d="M456.3 331.1v8.10M472.9 331.1v8.10" stroke="#781870" stroke-width="1.46" fill="none"/>
<path d="M457.4 331.1v8.10M471.8 331.1v8.10M480.7 331.1v8.10" stroke="#401830" stroke-width="1.46" fill="none"/>
<path d="M458.5 331.1v8.10M478.5 331.1v8.10" stroke="#802078" stroke-width="1.46" fill="none"/>
<path d="M459.6 331.1v8.10" stroke="#481838" stroke-width="1.46" fill="none"/>
<path d="M460.7 331.1v8.10M464.0 331.1v8.10" stroke="#501838" stroke-width="1.46" fill="none"/>
<path d="M461.8 331.1v8.10M481.8 331.1v8.10M484.0 331.1v8.10" stroke="#902088" stroke-width="1.46" fill="none"/>
<path d="M462.9 331.1v8.10" stroke="#a828a0" stroke-width="1.46" fill="none"/>
<path d="M465.1 331.1v8.10M488.4 331.1v8.10" stroke="#681860" stroke-width="1.46" fill="none"/>
<path d="M466.2 331.1v8.10M474.0 331.1v8.10" stroke="#302018" stroke-width="1.46" fill="none"/>
<path d="M467.4 331.1v8.10" stroke="#c030b0" stroke-width="1.46" fill="none"/>
<path d="M468.5 331.1v8.10" stroke="#a82898" stroke-width="1.46" fill="none"/>
<path d="M469.6 331.1v8.10" stroke="#501840" stroke-width="1.46" fill="none"/>
<path d="M470.7 331.1v8.10" stroke="#685818" stroke-width="1.46" fill="none"/>
<path d="M475.1 331.1v8.10M477.3 331.1v8.10M482.9 331.1v8.10" stroke="#701868" stroke-width="1.46" fill="none"/>
<path d="M476.2 331.1v8.10" stroke="#585018" stroke-width="1.46" fill="none"/>
<path d="M479.6 331.1v8.10" stroke="#302020" stroke-width="1.46" fill="none"/>
<path d="M485.1 331.1v8.10M487.3 331.1v8.10" stroke="#882080" stroke-width="1.46" fill="none"/>
<path d="M486.2 331.1v8.10" stroke="#382020" stroke-width="1.46" fill="none"/>
<text x="0" y="0" font-size="6.3" fill="#222" stroke="#222" stroke-width="0.15" text-anchor="end" transform="translate(441.60,204.60) scale(0.9,1)">FL-adviSC</text>
<text x="0" y="0" font-size="6.3" fill="#222" stroke="#222" stroke-width="0.15" text-anchor="end" transform="translate(441.60,213.66) scale(0.9,1)">FL-AGT-SC</text>
<text x="0" y="0" font-size="6.3" fill="#222" stroke="#222" stroke-width="0.15" text-anchor="end" transform="translate(441.60,222.72) scale(0.9,1)">FL-ATF3hi SMC</text>
<text x="0" y="0" font-size="6.3" fill="#222" stroke="#222" stroke-width="0.15" text-anchor="end" transform="translate(441.60,231.78) scale(0.9,1)">FL-ATF3lo SMC</text>
<text x="0" y="0" font-size="6.3" fill="#222" stroke="#222" stroke-width="0.15" text-anchor="end" transform="translate(441.60,240.84) scale(0.9,1)">FL-C7-SC</text>
<text x="0" y="0" font-size="6.3" fill="#222" stroke="#222" stroke-width="0.15" text-anchor="end" transform="translate(441.60,249.90) scale(0.9,1)">FL-FDC</text>
<text x="0" y="0" font-size="6.3" fill="#222" stroke="#222" stroke-width="0.15" text-anchor="end" transform="translate(441.60,258.96) scale(0.9,1)">FL-MRC</text>
<text x="0" y="0" font-size="6.3" fill="#222" stroke="#222" stroke-width="0.15" text-anchor="end" transform="translate(441.60,268.02) scale(0.9,1)">FL-PC</text>
<text x="0" y="0" font-size="6.3" fill="#222" stroke="#222" stroke-width="0.15" text-anchor="end" transform="translate(441.60,277.08) scale(0.9,1)">FL-SFRP2-SC</text>
<text x="0" y="0" font-size="6.3" fill="#222" stroke="#222" stroke-width="0.15" text-anchor="end" transform="translate(441.60,286.14) scale(0.9,1)">FL-SFRP4-SC</text>
<text x="0" y="0" font-size="6.3" fill="#222" stroke="#222" stroke-width="0.15" text-anchor="end" transform="translate(441.60,295.20) scale(0.9,1)">FL-TNF-SC</text>
<text x="0" y="0" font-size="6.3" fill="#222" stroke="#222" stroke-width="0.15" text-anchor="end" transform="translate(441.60,304.26) scale(0.9,1)">FL-TRC</text>
<text x="0" y="0" font-size="6.3" fill="#222" stroke="#222" stroke-width="0.15" text-anchor="end" transform="translate(441.60,319.20) scale(0.9,1)">FL-LSC</text>
<text x="0" y="0" font-size="6.3" fill="#222" stroke="#222" stroke-width="0.15" text-anchor="end" transform="translate(441.60,329.30) scale(0.9,1)">MSC1-top100</text>
<text x="0" y="0" font-size="6.3" fill="#222" stroke="#222" stroke-width="0.15" text-anchor="end" transform="translate(441.60,337.40) scale(0.9,1)">MSC4-top100</text>
<text x="0" y="0" font-size="6.1" fill="#262626" stroke="#262626" stroke-width="0.12" transform="translate(450.40,192.30) rotate(-45)">MSC_Ctrl</text>
<text x="0" y="0" font-size="6.1" fill="#262626" stroke="#262626" stroke-width="0.12" transform="translate(466.90,192.30) rotate(-45)">MSC_Sh</text>
<text x="0" y="0" font-size="6.1" fill="#262626" stroke="#262626" stroke-width="0.12" transform="translate(479.20,192.30) rotate(-45)">MSC_Gr.Early</text>
<text x="0" y="0" font-size="6.1" fill="#262626" stroke="#262626" stroke-width="0.12" transform="translate(486.90,192.80) rotate(-45)">MSC_Gr.Late</text>
<defs><linearGradient id="gE" x1="0" y1="0" x2="0" y2="1"><stop offset="0" stop-color="#eeee1c"/><stop offset="0.25" stop-color="#a4a012"/><stop offset="0.42" stop-color="#3c3a10"/><stop offset="0.5" stop-color="#0c080a"/><stop offset="0.6" stop-color="#4a0c48"/><stop offset="0.77" stop-color="#a224a0"/><stop offset="1" stop-color="#d444cc"/></linearGradient></defs>
<rect x="497.00" y="227.00" width="7.60" height="39.40" fill="url(#gE)" />
<text x="496.8" y="224.4" font-size="5.4" fill="#333" stroke="#333" stroke-width="0.22" text-anchor="start" >Score</text>
<text x="506.4" y="233.2" font-size="5.4" fill="#333" stroke="#333" stroke-width="0.22" text-anchor="start" >2</text>
<text x="506.4" y="241.0" font-size="5.4" fill="#333" stroke="#333" stroke-width="0.22" text-anchor="start" >1</text>
<text x="506.4" y="249.0" font-size="5.4" fill="#333" stroke="#333" stroke-width="0.22" text-anchor="start" >0</text>
<text x="506.4" y="257.0" font-size="5.4" fill="#333" stroke="#333" stroke-width="0.22" text-anchor="start" >−1</text>
<text x="506.4" y="265.0" font-size="5.4" fill="#333" stroke="#333" stroke-width="0.22" text-anchor="start" >−2</text>
<rect x="0.5" y="0.5" width="519" height="345" fill="none" stroke="#4a4a4a" stroke-width="1.3"/>
</svg>
</body></html>
